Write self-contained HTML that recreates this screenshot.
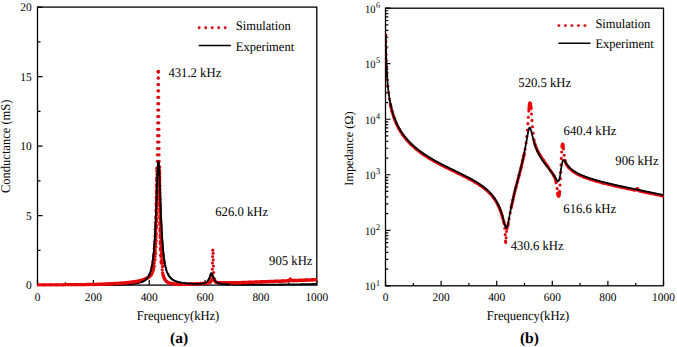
<!DOCTYPE html>
<html><head><meta charset="utf-8"><style>
html,body{margin:0;padding:0;background:#fff;}
svg{display:block;}
</style></head><body>
<svg width="677" height="347" viewBox="0 0 677 347">
<defs>
<clipPath id="ca"><rect x="37.5" y="7.100000000000023" width="279.3" height="279.5"/></clipPath>
<clipPath id="cb"><rect x="385.5" y="8.199999999999989" width="278.0" height="277.6"/></clipPath>
</defs>
<rect width="677" height="347" fill="#fff"/>
<rect x="37.5" y="7.100000000000023" width="279.3" height="278.0" fill="none" stroke="#000" stroke-width="1.3"/>
<rect x="385.5" y="8.199999999999989" width="278.0" height="277.6" fill="none" stroke="#000" stroke-width="1.3"/>
<path d="M37.5 285.10h5 M37.5 250.35h3 M37.5 215.60h5 M37.5 180.85h3 M37.5 146.10h5 M37.5 111.35h3 M37.5 76.60h5 M37.5 41.85h3 M37.5 7.10h5 M37.50 285.1v-5 M65.43 285.1v-2.8 M93.36 285.1v-5 M121.29 285.1v-2.8 M149.22 285.1v-5 M177.15 285.1v-2.8 M205.08 285.1v-5 M233.01 285.1v-2.8 M260.94 285.1v-5 M288.87 285.1v-2.8 M316.80 285.1v-5 M385.50 285.8v-5 M413.30 285.8v-2.8 M441.10 285.8v-5 M468.90 285.8v-2.8 M496.70 285.8v-5 M524.50 285.8v-2.8 M552.30 285.8v-5 M580.10 285.8v-2.8 M607.90 285.8v-5 M635.70 285.8v-2.8 M663.50 285.8v-5 M385.5 285.80h5 M385.5 269.09h2.8 M385.5 259.31h2.8 M385.5 252.37h2.8 M385.5 246.99h2.8 M385.5 242.60h2.8 M385.5 238.88h2.8 M385.5 235.66h2.8 M385.5 232.82h2.8 M385.5 230.28h5 M385.5 213.57h2.8 M385.5 203.79h2.8 M385.5 196.85h2.8 M385.5 191.47h2.8 M385.5 187.08h2.8 M385.5 183.36h2.8 M385.5 180.14h2.8 M385.5 177.30h2.8 M385.5 174.76h5 M385.5 158.05h2.8 M385.5 148.27h2.8 M385.5 141.33h2.8 M385.5 135.95h2.8 M385.5 131.56h2.8 M385.5 127.84h2.8 M385.5 124.62h2.8 M385.5 121.78h2.8 M385.5 119.24h5 M385.5 102.53h2.8 M385.5 92.75h2.8 M385.5 85.81h2.8 M385.5 80.43h2.8 M385.5 76.04h2.8 M385.5 72.32h2.8 M385.5 69.10h2.8 M385.5 66.26h2.8 M385.5 63.72h5 M385.5 47.01h2.8 M385.5 37.23h2.8 M385.5 30.29h2.8 M385.5 24.91h2.8 M385.5 20.52h2.8 M385.5 16.80h2.8 M385.5 13.58h2.8 M385.5 10.74h2.8 M385.5 8.20h5" stroke="#000" stroke-width="1.2" fill="none"/>
<polyline clip-path="url(#ca)" points="37.64,285.10 37.81,285.10 37.97,285.10 38.14,285.10 38.31,285.10 38.48,285.10 38.65,285.10 38.81,285.10 38.98,285.10 39.15,285.10 39.32,285.10 39.48,285.10 39.65,285.10 39.82,285.10 39.99,285.10 40.15,285.10 40.32,285.10 40.49,285.10 40.66,285.10 40.82,285.10 40.99,285.10 41.16,285.10 41.33,285.10 41.49,285.10 41.66,285.10 41.83,285.10 42.00,285.10 42.16,285.10 42.33,285.10 42.50,285.10 42.67,285.10 42.83,285.10 43.00,285.10 43.17,285.10 43.34,285.10 43.50,285.10 43.67,285.10 43.84,285.10 44.01,285.10 44.18,285.10 44.34,285.10 44.51,285.10 44.68,285.10 44.85,285.10 45.01,285.10 45.18,285.10 45.35,285.10 45.52,285.10 45.68,285.10 45.85,285.10 46.02,285.10 46.19,285.10 46.35,285.10 46.52,285.10 46.69,285.10 46.86,285.10 47.02,285.10 47.19,285.10 47.36,285.10 47.53,285.10 47.69,285.10 47.86,285.10 48.03,285.10 48.20,285.10 48.36,285.10 48.53,285.10 48.70,285.10 48.87,285.10 49.04,285.10 49.20,285.10 49.37,285.10 49.54,285.10 49.71,285.10 49.87,285.10 50.04,285.10 50.21,285.10 50.38,285.10 50.54,285.10 50.71,285.10 50.88,285.10 51.05,285.10 51.21,285.10 51.38,285.10 51.55,285.10 51.72,285.10 51.88,285.10 52.05,285.10 52.22,285.10 52.39,285.10 52.55,285.09 52.72,285.09 52.89,285.09 53.06,285.09 53.22,285.09 53.39,285.09 53.56,285.09 53.73,285.09 53.89,285.09 54.06,285.09 54.23,285.09 54.40,285.09 54.57,285.09 54.73,285.09 54.90,285.09 55.07,285.09 55.24,285.09 55.40,285.09 55.57,285.09 55.74,285.09 55.91,285.09 56.07,285.09 56.24,285.09 56.41,285.09 56.58,285.09 56.74,285.09 56.91,285.09 57.08,285.09 57.25,285.09 57.41,285.09 57.58,285.09 57.75,285.09 57.92,285.09 58.08,285.09 58.25,285.09 58.42,285.09 58.59,285.09 58.75,285.09 58.92,285.09 59.09,285.09 59.26,285.09 59.43,285.09 59.59,285.09 59.76,285.09 59.93,285.09 60.10,285.09 60.26,285.09 60.43,285.09 60.60,285.09 60.77,285.09 60.93,285.09 61.10,285.09 61.27,285.09 61.44,285.09 61.60,285.09 61.77,285.09 61.94,285.09 62.11,285.09 62.27,285.09 62.44,285.09 62.61,285.09 62.78,285.09 62.94,285.08 63.11,285.08 63.28,285.08 63.45,285.08 63.61,285.08 63.78,285.08 63.95,285.08 64.12,285.08 64.28,285.08 64.45,285.08 64.62,285.08 64.79,285.08 64.96,285.08 65.12,285.08 65.29,285.08 65.46,285.08 65.63,285.08 65.79,285.08 65.96,285.08 66.13,285.08 66.30,285.08 66.46,285.08 66.63,285.08 66.80,285.08 66.97,285.08 67.13,285.08 67.30,285.08 67.47,285.08 67.64,285.08 67.80,285.08 67.97,285.08 68.14,285.08 68.31,285.08 68.47,285.08 68.64,285.08 68.81,285.08 68.98,285.08 69.14,285.08 69.31,285.08 69.48,285.07 69.65,285.07 69.82,285.07 69.98,285.07 70.15,285.07 70.32,285.07 70.49,285.07 70.65,285.07 70.82,285.07 70.99,285.07 71.16,285.07 71.32,285.07 71.49,285.07 71.66,285.07 71.83,285.07 71.99,285.07 72.16,285.07 72.33,285.07 72.50,285.07 72.66,285.07 72.83,285.07 73.00,285.07 73.17,285.07 73.33,285.07 73.50,285.07 73.67,285.07 73.84,285.07 74.00,285.07 74.17,285.07 74.34,285.07 74.51,285.06 74.67,285.06 74.84,285.06 75.01,285.06 75.18,285.06 75.35,285.06 75.51,285.06 75.68,285.06 75.85,285.06 76.02,285.06 76.18,285.06 76.35,285.06 76.52,285.06 76.69,285.06 76.85,285.06 77.02,285.06 77.19,285.06 77.36,285.06 77.52,285.06 77.69,285.06 77.86,285.06 78.03,285.06 78.19,285.06 78.36,285.06 78.53,285.05 78.70,285.05 78.86,285.05 79.03,285.05 79.20,285.05 79.37,285.05 79.53,285.05 79.70,285.05 79.87,285.05 80.04,285.05 80.20,285.05 80.37,285.05 80.54,285.05 80.71,285.05 80.88,285.05 81.04,285.05 81.21,285.05 81.38,285.05 81.55,285.05 81.71,285.05 81.88,285.04 82.05,285.04 82.22,285.04 82.38,285.04 82.55,285.04 82.72,285.04 82.89,285.04 83.05,285.04 83.22,285.04 83.39,285.04 83.56,285.04 83.72,285.04 83.89,285.04 84.06,285.04 84.23,285.04 84.39,285.04 84.56,285.04 84.73,285.04 84.90,285.03 85.06,285.03 85.23,285.03 85.40,285.03 85.57,285.03 85.74,285.03 85.90,285.03 86.07,285.03 86.24,285.03 86.41,285.03 86.57,285.03 86.74,285.03 86.91,285.03 87.08,285.03 87.24,285.03 87.41,285.02 87.58,285.02 87.75,285.02 87.91,285.02 88.08,285.02 88.25,285.02 88.42,285.02 88.58,285.02 88.75,285.02 88.92,285.02 89.09,285.02 89.25,285.02 89.42,285.02 89.59,285.02 89.76,285.01 89.92,285.01 90.09,285.01 90.26,285.01 90.43,285.01 90.59,285.01 90.76,285.01 90.93,285.01 91.10,285.01 91.27,285.01 91.43,285.01 91.60,285.01 91.77,285.00 91.94,285.00 92.10,285.00 92.27,285.00 92.44,285.00 92.61,285.00 92.77,285.00 92.94,285.00 93.11,285.00 93.28,285.00 93.44,285.00 93.61,284.99 93.78,284.99 93.95,284.99 94.11,284.99 94.28,284.99 94.45,284.99 94.62,284.99 94.78,284.99 94.95,284.99 95.12,284.99 95.29,284.98 95.45,284.98 95.62,284.98 95.79,284.98 95.96,284.98 96.13,284.98 96.29,284.98 96.46,284.98 96.63,284.98 96.80,284.97 96.96,284.97 97.13,284.97 97.30,284.97 97.47,284.97 97.63,284.97 97.80,284.97 97.97,284.97 98.14,284.97 98.30,284.96 98.47,284.96 98.64,284.96 98.81,284.96 98.97,284.96 99.14,284.96 99.31,284.96 99.48,284.96 99.64,284.95 99.81,284.95 99.98,284.95 100.15,284.95 100.31,284.95 100.48,284.95 100.65,284.95 100.82,284.94 100.98,284.94 101.15,284.94 101.32,284.94 101.49,284.94 101.66,284.94 101.82,284.94 101.99,284.93 102.16,284.93 102.33,284.93 102.49,284.93 102.66,284.93 102.83,284.93 103.00,284.93 103.16,284.92 103.33,284.92 103.50,284.92 103.67,284.92 103.83,284.92 104.00,284.92 104.17,284.91 104.34,284.91 104.50,284.91 104.67,284.91 104.84,284.91 105.01,284.90 105.17,284.90 105.34,284.90 105.51,284.90 105.68,284.90 105.84,284.90 106.01,284.89 106.18,284.89 106.35,284.89 106.52,284.89 106.68,284.89 106.85,284.88 107.02,284.88 107.19,284.88 107.35,284.88 107.52,284.88 107.69,284.87 107.86,284.87 108.02,284.87 108.19,284.87 108.36,284.87 108.53,284.86 108.69,284.86 108.86,284.86 109.03,284.86 109.20,284.85 109.36,284.85 109.53,284.85 109.70,284.85 109.87,284.84 110.03,284.84 110.20,284.84 110.37,284.84 110.54,284.83 110.70,284.83 110.87,284.83 111.04,284.83 111.21,284.82 111.37,284.82 111.54,284.82 111.71,284.82 111.88,284.81 112.05,284.81 112.21,284.81 112.38,284.80 112.55,284.80 112.72,284.80 112.88,284.80 113.05,284.79 113.22,284.79 113.39,284.79 113.55,284.78 113.72,284.78 113.89,284.78 114.06,284.77 114.22,284.77 114.39,284.77 114.56,284.76 114.73,284.76 114.89,284.76 115.06,284.75 115.23,284.75 115.40,284.75 115.56,284.74 115.73,284.74 115.90,284.74 116.07,284.73 116.23,284.73 116.40,284.72 116.57,284.72 116.74,284.72 116.90,284.71 117.07,284.71 117.24,284.70 117.41,284.70 117.58,284.70 117.74,284.69 117.91,284.69 118.08,284.68 118.25,284.68 118.41,284.67 118.58,284.67 118.75,284.67 118.92,284.66 119.08,284.66 119.25,284.65 119.42,284.65 119.59,284.64 119.75,284.64 119.92,284.63 120.09,284.63 120.26,284.62 120.42,284.62 120.59,284.61 120.76,284.61 120.93,284.60 121.09,284.59 121.26,284.59 121.43,284.58 121.60,284.58 121.76,284.57 121.93,284.57 122.10,284.56 122.27,284.55 122.44,284.55 122.60,284.54 122.77,284.53 122.94,284.53 123.11,284.52 123.27,284.51 123.44,284.51 123.61,284.50 123.78,284.49 123.94,284.49 124.11,284.48 124.28,284.47 124.45,284.46 124.61,284.46 124.78,284.45 124.95,284.44 125.12,284.43 125.28,284.43 125.45,284.42 125.62,284.41 125.79,284.40 125.95,284.39 126.12,284.38 126.29,284.37 126.46,284.37 126.62,284.36 126.79,284.35 126.96,284.34 127.13,284.33 127.29,284.32 127.46,284.31 127.63,284.30 127.80,284.29 127.97,284.28 128.13,284.27 128.30,284.26 128.47,284.25 128.64,284.23 128.80,284.22 128.97,284.21 129.14,284.20 129.31,284.19 129.47,284.18 129.64,284.16 129.81,284.15 129.98,284.14 130.14,284.12 130.31,284.11 130.48,284.10 130.65,284.08 130.81,284.07 130.98,284.06 131.15,284.04 131.32,284.03 131.48,284.01 131.65,284.00 131.82,283.98 131.99,283.96 132.15,283.95 132.32,283.93 132.49,283.91 132.66,283.90 132.83,283.88 132.99,283.86 133.16,283.84 133.33,283.82 133.50,283.80 133.66,283.78 133.83,283.76 134.00,283.74 134.17,283.72 134.33,283.70 134.50,283.68 134.67,283.66 134.84,283.63 135.00,283.61 135.17,283.59 135.34,283.56 135.51,283.54 135.67,283.51 135.84,283.49 136.01,283.46 136.18,283.43 136.34,283.41 136.51,283.38 136.68,283.35 136.85,283.32 137.01,283.29 137.18,283.26 137.35,283.23 137.52,283.19 137.68,283.16 137.85,283.12 138.02,283.09 138.19,283.05 138.36,283.02 138.52,282.98 138.69,282.94 138.86,282.90 139.03,282.86 139.19,282.82 139.36,282.77 139.53,282.73 139.70,282.68 139.86,282.64 140.03,282.59 140.20,282.54 140.37,282.49 140.53,282.44 140.70,282.38 140.87,282.33 141.04,282.27 141.15,282.23 141.26,282.19 141.37,282.15 141.48,282.11 141.60,282.07 141.71,282.03 141.82,281.98 141.93,281.94 142.04,281.89 142.15,281.85 142.27,281.80 142.38,281.75 142.49,281.70 142.60,281.65 142.71,281.60 142.82,281.55 142.94,281.50 143.05,281.44 143.16,281.39 143.27,281.33 143.38,281.27 143.49,281.21 143.61,281.15 143.72,281.09 143.83,281.03 143.94,280.96 144.05,280.89 144.16,280.83 144.28,280.76 144.39,280.69 144.50,280.61 144.61,280.54 144.72,280.46 144.83,280.38 144.95,280.30 145.06,280.22 145.17,280.14 145.28,280.05 145.39,279.96 145.51,279.87 145.62,279.78 145.73,279.69 145.84,279.59 145.95,279.49 146.06,279.39 146.18,279.28 146.29,279.17 146.40,279.06 146.51,278.95 146.62,278.83 146.73,278.71 146.85,278.59 146.96,278.46 147.07,278.33 147.18,278.20 147.29,278.06 147.40,277.92 147.52,277.78 147.63,277.63 147.74,277.47 147.85,277.31 147.96,277.15 148.07,276.98 148.19,276.81 148.30,276.63 148.41,276.44 148.47,276.35 148.52,276.25 148.58,276.16 148.63,276.06 148.69,275.96 148.75,275.86 148.80,275.75 148.86,275.65 148.91,275.54 148.97,275.43 149.02,275.32 149.08,275.21 149.14,275.10 149.19,274.98 149.25,274.86 149.30,274.74 149.36,274.62 149.42,274.50 149.47,274.37 149.53,274.24 149.58,274.11 149.64,273.98 149.69,273.85 149.75,273.71 149.81,273.57 149.86,273.43 149.92,273.29 149.97,273.14 150.03,272.99 150.09,272.84 150.14,272.69 150.20,272.53 150.25,272.37 150.31,272.21 150.37,272.04 150.42,271.87 150.48,271.70 150.53,271.52 150.59,271.35 150.64,271.16 150.70,270.98 150.76,270.79 150.81,270.60 150.87,270.40 150.92,270.21 150.98,270.00 151.04,269.80 151.09,269.59 151.15,269.37 151.20,269.15 151.26,268.93 151.31,268.70 151.37,268.47 151.43,268.23 151.48,267.99 151.54,267.74 151.59,267.49 151.65,267.24 151.71,266.98 151.76,266.71 151.82,266.44 151.87,266.16 151.93,265.88 151.99,265.59 152.04,265.29 152.10,264.99 152.15,264.68 152.21,264.37 152.26,264.05 152.32,263.72 152.38,263.38 152.43,263.04 152.49,262.69 152.54,262.34 152.60,261.97 152.66,261.60 152.71,261.22 152.77,260.83 152.82,260.43 152.88,260.02 152.93,259.61 152.99,259.18 153.05,258.75 153.10,258.30 153.16,257.85 153.21,257.39 153.27,256.91 153.33,256.42 153.38,255.93 153.44,255.42 153.49,254.90 153.55,254.37 153.61,253.82 153.66,253.26 153.72,252.69 153.77,252.11 153.83,251.51 153.88,250.90 153.94,250.27 154.00,249.63 154.05,248.98 154.11,248.31 154.16,247.62 154.22,246.92 154.28,246.20 154.33,245.46 154.39,244.71 154.44,243.94 154.50,243.15 154.55,242.34 154.61,241.51 154.67,240.66 154.72,239.80 154.78,238.91 154.83,238.00 154.89,237.07 154.95,236.13 155.00,235.15 155.06,234.16 155.11,233.15 155.17,232.11 155.22,231.05 155.28,229.96 155.34,228.86 155.39,227.73 155.45,226.57 155.50,225.39 155.56,224.19 155.62,222.97 155.67,221.72 155.73,220.44 155.78,219.14 155.84,217.82 155.90,216.48 155.95,215.11 156.01,213.72 156.06,212.31 156.12,210.88 156.17,209.42 156.23,207.95 156.29,206.46 156.34,204.95 156.40,203.43 156.45,201.89 156.51,200.34 156.57,198.78 156.62,197.21 156.68,195.63 156.73,194.05 156.79,192.46 156.84,190.88 156.90,189.30 156.96,187.73 157.01,186.16 157.07,184.61 157.12,183.08 157.18,181.56 157.24,180.07 157.29,178.61 157.35,177.18 157.40,175.79 157.46,174.44 157.52,173.13 157.57,171.87 157.63,170.67 157.68,169.52 157.74,168.44 157.79,167.42 157.85,166.47 157.91,165.59 157.96,164.80 158.02,164.08 158.07,163.44 158.13,162.89 158.19,162.43 158.24,162.06 158.30,161.78 158.35,161.59 158.46,161.50 158.58,161.78 158.63,162.06 158.69,162.43 158.74,162.88 158.80,163.43 158.86,164.06 158.91,164.77 158.97,165.56 159.02,166.42 159.08,167.36 159.14,168.36 159.19,169.43 159.25,170.55 159.30,171.73 159.36,172.97 159.41,174.25 159.47,175.57 159.53,176.93 159.58,178.33 159.64,179.76 159.69,181.21 159.75,182.69 159.81,184.18 159.86,185.69 159.92,187.22 159.97,188.75 160.03,190.29 160.08,191.83 160.14,193.37 160.20,194.91 160.25,196.44 160.31,197.97 160.36,199.49 160.42,201.00 160.48,202.49 160.53,203.98 160.59,205.44 160.64,206.89 160.70,208.32 160.76,209.74 160.81,211.13 160.87,212.51 160.92,213.86 160.98,215.19 161.03,216.50 161.09,217.79 161.15,219.05 161.20,220.30 161.26,221.52 161.31,222.71 161.37,223.89 161.43,225.04 161.48,226.17 161.54,227.27 161.59,228.36 161.65,229.42 161.70,230.46 161.76,231.47 161.82,232.47 161.87,233.44 161.93,234.40 161.98,235.33 162.04,236.24 162.10,237.13 162.15,238.01 162.21,238.86 162.26,239.70 162.32,240.51 162.38,241.31 162.43,242.09 162.49,242.85 162.54,243.60 162.60,244.33 162.65,245.04 162.71,245.74 162.77,246.42 162.82,247.08 162.88,247.73 162.93,248.37 162.99,248.99 163.05,249.60 163.10,250.20 163.16,250.78 163.21,251.35 163.27,251.90 163.32,252.45 163.38,252.98 163.44,253.50 163.49,254.01 163.55,254.50 163.60,254.99 163.66,255.47 163.72,255.93 163.77,256.39 163.83,256.84 163.88,257.27 163.94,257.70 163.99,258.12 164.05,258.53 164.11,258.93 164.16,259.32 164.22,259.71 164.27,260.08 164.33,260.45 164.39,260.81 164.44,261.17 164.50,261.51 164.55,261.85 164.61,262.18 164.67,262.51 164.72,262.83 164.78,263.14 164.83,263.45 164.89,263.75 164.94,264.04 165.00,264.33 165.06,264.61 165.11,264.89 165.17,265.16 165.22,265.43 165.28,265.69 165.34,265.95 165.39,266.20 165.45,266.45 165.50,266.69 165.56,266.93 165.61,267.16 165.67,267.39 165.73,267.62 165.78,267.84 165.84,268.05 165.89,268.27 165.95,268.47 166.01,268.68 166.06,268.88 166.12,269.08 166.17,269.27 166.23,269.46 166.29,269.65 166.34,269.84 166.40,270.02 166.45,270.19 166.51,270.37 166.56,270.54 166.62,270.71 166.68,270.88 166.73,271.04 166.79,271.20 166.84,271.36 166.90,271.51 166.96,271.66 167.01,271.81 167.07,271.96 167.12,272.11 167.18,272.25 167.23,272.39 167.29,272.53 167.35,272.66 167.40,272.80 167.46,272.93 167.51,273.06 167.57,273.19 167.63,273.31 167.68,273.43 167.74,273.56 167.79,273.68 167.85,273.79 167.91,273.91 167.96,274.02 168.02,274.14 168.07,274.25 168.13,274.36 168.18,274.46 168.24,274.57 168.30,274.67 168.35,274.78 168.41,274.88 168.46,274.98 168.52,275.07 168.58,275.17 168.63,275.27 168.74,275.45 168.85,275.63 168.97,275.81 169.08,275.98 169.19,276.15 169.30,276.31 169.41,276.47 169.53,276.62 169.64,276.77 169.75,276.92 169.86,277.06 169.97,277.19 170.08,277.33 170.20,277.46 170.31,277.59 170.42,277.71 170.53,277.83 170.64,277.95 170.75,278.06 170.87,278.18 170.98,278.28 171.09,278.39 171.20,278.50 171.31,278.60 171.42,278.70 171.54,278.79 171.65,278.89 171.76,278.98 171.87,279.07 171.98,279.16 172.09,279.25 172.21,279.33 172.32,279.41 172.43,279.49 172.54,279.57 172.65,279.65 172.76,279.72 172.88,279.80 172.99,279.87 173.10,279.94 173.21,280.01 173.32,280.08 173.44,280.14 173.55,280.21 173.66,280.27 173.77,280.33 173.88,280.40 173.99,280.46 174.11,280.51 174.22,280.57 174.33,280.63 174.44,280.68 174.55,280.74 174.66,280.79 174.78,280.84 174.89,280.89 175.00,280.94 175.11,280.99 175.22,281.04 175.33,281.09 175.45,281.13 175.56,281.18 175.67,281.22 175.78,281.27 175.89,281.31 176.00,281.35 176.12,281.39 176.23,281.44 176.34,281.48 176.45,281.51 176.56,281.55 176.73,281.61 176.90,281.67 177.07,281.72 177.23,281.77 177.40,281.82 177.57,281.87 177.74,281.92 177.90,281.97 178.07,282.01 178.24,282.06 178.41,282.10 178.57,282.15 178.74,282.19 178.91,282.23 179.08,282.27 179.24,282.31 179.41,282.35 179.58,282.38 179.75,282.42 179.92,282.45 180.08,282.49 180.25,282.52 180.42,282.56 180.59,282.59 180.75,282.62 180.92,282.65 181.09,282.68 181.26,282.71 181.42,282.74 181.59,282.77 181.76,282.80 181.93,282.82 182.09,282.85 182.26,282.88 182.43,282.90 182.60,282.93 182.76,282.95 182.93,282.97 183.10,283.00 183.27,283.02 183.43,283.04 183.60,283.06 183.77,283.09 183.94,283.11 184.10,283.13 184.27,283.15 184.44,283.17 184.61,283.19 184.77,283.21 184.94,283.22 185.11,283.24 185.28,283.26 185.45,283.28 185.61,283.29 185.78,283.31 185.95,283.33 186.12,283.34 186.28,283.36 186.45,283.37 186.62,283.39 186.79,283.40 186.95,283.42 187.12,283.43 187.29,283.45 187.46,283.46 187.62,283.47 187.79,283.49 187.96,283.50 188.13,283.51 188.29,283.52 188.46,283.54 188.63,283.55 188.80,283.56 188.96,283.57 189.13,283.58 189.30,283.59 189.47,283.60 189.63,283.61 189.80,283.62 189.97,283.63 190.14,283.64 190.31,283.65 190.47,283.66 190.64,283.67 190.81,283.68 190.98,283.69 191.14,283.69 191.31,283.70 191.48,283.71 191.65,283.72 191.81,283.72 191.98,283.73 192.15,283.74 192.32,283.74 192.48,283.75 192.65,283.76 192.82,283.76 192.99,283.77 193.15,283.77 193.32,283.78 193.49,283.78 193.66,283.79 193.82,283.79 193.99,283.80 194.16,283.80 194.33,283.81 194.49,283.81 194.66,283.81 194.83,283.82 195.00,283.82 195.16,283.82 195.33,283.82 195.50,283.83 195.67,283.83 195.84,283.83 196.00,283.83 196.17,283.83 196.34,283.83 196.51,283.83 196.67,283.83 196.84,283.83 197.01,283.83 197.18,283.83 197.34,283.83 197.51,283.83 197.68,283.83 197.85,283.82 198.01,283.82 198.18,283.82 198.35,283.81 198.52,283.81 198.68,283.81 198.85,283.80 199.02,283.80 199.19,283.79 199.35,283.78 199.52,283.78 199.69,283.77 199.86,283.76 200.02,283.75 200.19,283.74 200.36,283.73 200.53,283.72 200.69,283.71 200.86,283.70 201.03,283.69 201.20,283.67 201.37,283.66 201.53,283.64 201.70,283.63 201.87,283.61 202.04,283.59 202.20,283.57 202.37,283.55 202.54,283.52 202.71,283.50 202.87,283.47 203.04,283.45 203.21,283.42 203.38,283.38 203.54,283.35 203.71,283.31 203.88,283.28 204.05,283.23 204.21,283.19 204.38,283.14 204.55,283.09 204.72,283.04 204.88,282.98 205.00,282.94 205.11,282.90 205.22,282.86 205.33,282.81 205.44,282.76 205.55,282.71 205.67,282.66 205.78,282.60 205.89,282.54 206.00,282.48 206.11,282.42 206.23,282.35 206.34,282.28 206.45,282.20 206.56,282.12 206.67,282.04 206.78,281.95 206.90,281.86 207.01,281.76 207.12,281.66 207.23,281.55 207.34,281.44 207.45,281.32 207.57,281.19 207.68,281.06 207.79,280.92 207.90,280.77 208.01,280.62 208.12,280.45 208.24,280.28 208.35,280.09 208.40,280.00 208.46,279.90 208.52,279.80 208.57,279.70 208.63,279.59 208.68,279.48 208.74,279.37 208.79,279.26 208.85,279.14 208.91,279.02 208.96,278.90 209.02,278.78 209.07,278.65 209.13,278.52 209.19,278.39 209.24,278.25 209.30,278.11 209.35,277.97 209.41,277.83 209.47,277.68 209.52,277.54 209.58,277.39 209.63,277.23 209.69,277.08 209.74,276.92 209.80,276.77 209.86,276.61 209.91,276.45 209.97,276.29 210.02,276.13 210.08,275.96 210.14,275.80 210.19,275.64 210.25,275.49 210.30,275.33 210.36,275.17 210.41,275.02 210.47,274.87 210.53,274.72 210.58,274.58 210.64,274.44 210.69,274.31 210.75,274.18 210.81,274.06 210.86,273.95 210.92,273.84 210.97,273.74 211.08,273.57 211.20,273.44 211.31,273.34 211.42,273.29 211.59,273.29 211.70,273.35 211.81,273.44 211.92,273.58 212.03,273.75 212.09,273.85 212.15,273.96 212.20,274.08 212.26,274.20 212.31,274.32 212.37,274.46 212.43,274.59 212.48,274.74 212.54,274.88 212.59,275.03 212.65,275.18 212.70,275.34 212.76,275.50 212.82,275.65 212.87,275.81 212.93,275.97 212.98,276.13 213.04,276.29 213.10,276.45 213.15,276.61 213.21,276.77 213.26,276.92 213.32,277.08 213.38,277.23 213.43,277.38 213.49,277.53 213.54,277.68 213.60,277.82 213.65,277.97 213.71,278.11 213.77,278.24 213.82,278.38 213.88,278.51 213.93,278.64 213.99,278.77 214.05,278.89 214.10,279.01 214.16,279.13 214.21,279.25 214.27,279.36 214.32,279.47 214.38,279.58 214.44,279.69 214.49,279.79 214.55,279.89 214.60,279.99 214.66,280.09 214.77,280.27 214.88,280.45 215.00,280.61 215.11,280.77 215.22,280.92 215.33,281.07 215.44,281.20 215.55,281.33 215.67,281.46 215.78,281.57 215.89,281.68 216.00,281.79 216.11,281.89 216.22,281.99 216.34,282.08 216.45,282.16 216.56,282.25 216.67,282.33 216.78,282.40 216.89,282.47 217.01,282.54 217.12,282.61 217.23,282.67 217.34,282.73 217.45,282.79 217.56,282.84 217.68,282.90 217.79,282.95 217.90,282.99 218.01,283.04 218.12,283.09 218.24,283.13 218.35,283.17 218.46,283.21 218.63,283.26 218.79,283.32 218.96,283.37 219.13,283.42 219.30,283.46 219.46,283.50 219.63,283.54 219.80,283.58 219.97,283.62 220.13,283.65 220.30,283.69 220.47,283.72 220.64,283.75 220.80,283.78 220.97,283.80 221.14,283.83 221.31,283.85 221.47,283.88 221.64,283.90 221.81,283.92 221.98,283.94 222.15,283.96 222.31,283.98 222.48,284.00 222.65,284.02 222.82,284.03 222.98,284.05 223.15,284.07 223.32,284.08 223.49,284.10 223.65,284.11 223.82,284.12 223.99,284.14 224.16,284.15 224.32,284.16 224.49,284.17 224.66,284.19 224.83,284.20 224.99,284.21 225.16,284.22 225.33,284.23 225.50,284.24 225.66,284.25 225.83,284.26 226.00,284.26 226.17,284.27 226.33,284.28 226.50,284.29 226.67,284.30 226.84,284.30 227.01,284.31 227.17,284.32 227.34,284.33 227.51,284.33 227.68,284.34 227.84,284.35 228.01,284.35 228.18,284.36 228.35,284.36 228.51,284.37 228.68,284.38 228.85,284.38 229.02,284.39 229.18,284.39 229.35,284.40 229.52,284.40 229.69,284.41 229.85,284.41 230.02,284.42 230.19,284.42 230.36,284.42 230.52,284.43 230.69,284.43 230.86,284.44 231.03,284.44 231.19,284.44 231.36,284.45 231.53,284.45 231.70,284.46 231.86,284.46 232.03,284.46 232.20,284.47 232.37,284.47 232.54,284.47 232.70,284.48 232.87,284.48 233.04,284.48 233.21,284.49 233.37,284.49 233.54,284.49 233.71,284.49 233.88,284.50 234.04,284.50 234.21,284.50 234.38,284.50 234.55,284.51 234.71,284.51 234.88,284.51 235.05,284.51 235.22,284.52 235.38,284.52 235.55,284.52 235.72,284.52 235.89,284.53 236.05,284.53 236.22,284.53 236.39,284.53 236.56,284.53 236.72,284.54 236.89,284.54 237.06,284.54 237.23,284.54 237.40,284.54 237.56,284.54 237.73,284.55 237.90,284.55 238.07,284.55 238.23,284.55 238.40,284.55 238.57,284.55 238.74,284.56 238.90,284.56 239.07,284.56 239.24,284.56 239.41,284.56 239.57,284.56 239.74,284.56 239.91,284.57 240.08,284.57 240.24,284.57 240.41,284.57 240.58,284.57 240.75,284.57 240.91,284.57 241.08,284.57 241.25,284.58 241.42,284.58 241.58,284.58 241.75,284.58 241.92,284.58 242.09,284.58 242.25,284.58 242.42,284.58 242.59,284.58 242.76,284.59 242.93,284.59 243.09,284.59 243.26,284.59 243.43,284.59 243.60,284.59 243.76,284.59 243.93,284.59 244.10,284.59 244.27,284.59 244.43,284.59 244.60,284.59 244.77,284.60 244.94,284.60 245.10,284.60 245.27,284.60 245.44,284.60 245.61,284.60 245.77,284.60 245.94,284.60 246.11,284.60 246.28,284.60 246.44,284.60 246.61,284.60 246.78,284.60 246.95,284.60 247.11,284.60 247.28,284.60 247.45,284.60 247.62,284.61 247.78,284.61 247.95,284.61 248.12,284.61 248.29,284.61 248.46,284.61 248.62,284.61 248.79,284.61 248.96,284.61 249.13,284.61 249.29,284.61 249.46,284.61 249.63,284.61 249.80,284.61 249.96,284.61 250.13,284.61 250.30,284.61 250.47,284.61 250.63,284.61 250.80,284.61 250.97,284.61 251.14,284.61 251.30,284.61 251.47,284.61 251.64,284.61 251.81,284.61 251.97,284.61 252.14,284.61 252.31,284.61 252.48,284.61 252.64,284.61 252.81,284.61 252.98,284.61 253.15,284.61 253.32,284.61 253.48,284.61 253.65,284.61 253.82,284.61 253.99,284.61 254.15,284.61 254.32,284.61 254.49,284.61 254.66,284.61 254.82,284.61 254.99,284.61 255.16,284.61 255.33,284.61 255.49,284.61 255.66,284.61 255.83,284.61 256.00,284.61 256.16,284.61 256.33,284.61 256.50,284.61 256.67,284.61 256.83,284.61 257.00,284.61 257.17,284.61 257.34,284.61 257.50,284.61 257.67,284.61 257.84,284.61 258.01,284.61 258.17,284.61 258.34,284.61 258.51,284.61 258.68,284.61 258.85,284.61 259.01,284.61 259.18,284.61 259.35,284.61 259.52,284.61 259.68,284.61 259.85,284.61 260.02,284.61 260.19,284.61 260.35,284.61 260.52,284.61 260.69,284.61 260.86,284.61 261.02,284.61 261.19,284.61 261.36,284.61 261.53,284.61 261.69,284.61 261.86,284.61 262.03,284.61 262.20,284.60 262.36,284.60 262.53,284.60 262.70,284.60 262.87,284.60 263.03,284.60 263.20,284.60 263.37,284.60 263.54,284.60 263.71,284.60 263.87,284.60 264.04,284.60 264.21,284.60 264.38,284.60 264.54,284.60 264.71,284.60 264.88,284.60 265.05,284.60 265.21,284.60 265.38,284.60 265.55,284.60 265.72,284.59 265.88,284.59 266.05,284.59 266.22,284.59 266.39,284.59 266.55,284.59 266.72,284.59 266.89,284.59 267.06,284.59 267.22,284.59 267.39,284.59 267.56,284.59 267.73,284.59 267.89,284.59 268.06,284.59 268.23,284.59 268.40,284.58 268.56,284.58 268.73,284.58 268.90,284.58 269.07,284.58 269.24,284.58 269.40,284.58 269.57,284.58 269.74,284.58 269.91,284.58 270.07,284.58 270.24,284.58 270.41,284.58 270.58,284.57 270.74,284.57 270.91,284.57 271.08,284.57 271.25,284.57 271.41,284.57 271.58,284.57 271.75,284.57 271.92,284.57 272.08,284.57 272.25,284.57 272.42,284.57 272.59,284.56 272.75,284.56 272.92,284.56 273.09,284.56 273.26,284.56 273.42,284.56 273.59,284.56 273.76,284.56 273.93,284.56 274.10,284.56 274.26,284.56 274.43,284.55 274.60,284.55 274.77,284.55 274.93,284.55 275.10,284.55 275.27,284.55 275.44,284.55 275.60,284.55 275.77,284.55 275.94,284.54 276.11,284.54 276.27,284.54 276.44,284.54 276.61,284.54 276.78,284.54 276.94,284.54 277.11,284.54 277.28,284.54 277.45,284.53 277.61,284.53 277.78,284.53 277.95,284.53 278.12,284.53 278.28,284.53 278.45,284.53 278.62,284.53 278.79,284.53 278.95,284.52 279.12,284.52 279.29,284.52 279.46,284.52 279.63,284.52 279.79,284.52 279.96,284.52 280.13,284.52 280.30,284.51 280.46,284.51 280.63,284.51 280.80,284.51 280.97,284.51 281.13,284.51 281.30,284.51 281.47,284.50 281.64,284.50 281.80,284.50 281.97,284.50 282.14,284.50 282.31,284.50 282.47,284.50 282.64,284.49 282.81,284.49 282.98,284.49 283.14,284.49 283.31,284.49 283.48,284.49 283.65,284.49 283.81,284.48 283.98,284.48 284.15,284.48 284.32,284.48 284.48,284.48 284.65,284.48 284.82,284.47 284.99,284.47 285.16,284.47 285.32,284.47 285.49,284.47 285.66,284.47 285.83,284.46 285.99,284.46 286.16,284.46 286.33,284.46 286.50,284.46 286.66,284.46 286.83,284.45 287.00,284.45 287.17,284.45 287.33,284.45 287.50,284.45 287.67,284.45 287.84,284.44 288.00,284.44 288.17,284.44 288.34,284.44 288.51,284.44 288.67,284.44 288.84,284.43 289.01,284.43 289.18,284.43 289.34,284.43 289.51,284.43 289.68,284.42 289.85,284.42 290.02,284.42 290.18,284.42 290.35,284.42 290.52,284.41 290.69,284.41 290.85,284.41 291.02,284.41 291.19,284.41 291.36,284.40 291.52,284.40 291.69,284.40 291.86,284.40 292.03,284.40 292.19,284.39 292.36,284.39 292.53,284.39 292.70,284.39 292.86,284.38 293.03,284.38 293.20,284.38 293.37,284.38 293.53,284.38 293.70,284.37 293.87,284.37 294.04,284.37 294.20,284.37 294.37,284.36 294.54,284.36 294.71,284.36 294.87,284.36 295.04,284.36 295.21,284.35 295.38,284.35 295.55,284.35 295.71,284.35 295.88,284.34 296.05,284.34 296.22,284.34 296.38,284.34 296.55,284.33 296.72,284.33 296.89,284.33 297.05,284.33 297.22,284.32 297.39,284.32 297.56,284.32 297.72,284.32 297.89,284.31 298.06,284.31 298.23,284.31 298.39,284.30 298.56,284.30 298.73,284.30 298.90,284.30 299.06,284.29 299.23,284.29 299.40,284.29 299.57,284.29 299.73,284.28 299.90,284.28 300.07,284.28 300.24,284.27 300.41,284.27 300.57,284.27 300.74,284.27 300.91,284.26 301.08,284.26 301.24,284.26 301.41,284.25 301.58,284.25 301.75,284.25 301.91,284.24 302.08,284.24 302.25,284.24 302.42,284.23 302.58,284.23 302.75,284.23 302.92,284.23 303.09,284.22 303.25,284.22 303.42,284.22 303.59,284.21 303.76,284.21 303.92,284.21 304.09,284.20 304.26,284.20 304.43,284.20 304.59,284.19 304.76,284.19 304.93,284.19 305.10,284.18 305.26,284.18 305.43,284.17 305.60,284.17 305.77,284.17 305.94,284.16 306.10,284.16 306.27,284.16 306.44,284.15 306.61,284.15 306.77,284.15 306.94,284.14 307.11,284.14 307.28,284.13 307.44,284.13 307.61,284.13 307.78,284.12 307.95,284.12 308.11,284.12 308.28,284.11 308.45,284.11 308.62,284.10 308.78,284.10 308.95,284.10 309.12,284.09 309.29,284.09 309.45,284.08 309.62,284.08 309.79,284.07 309.96,284.07 310.12,284.07 310.29,284.06 310.46,284.06 310.63,284.05 310.80,284.05 310.96,284.04 311.13,284.04 311.30,284.04 311.47,284.03 311.63,284.03 311.80,284.02 311.97,284.02 312.14,284.01 312.30,284.01 312.47,284.00 312.64,284.00 312.81,283.99 312.97,283.99 313.14,283.99 313.31,283.98 313.48,283.98 313.64,283.97 313.81,283.97 313.98,283.96 314.15,283.96 314.31,283.95 314.48,283.95 314.65,283.94 314.82,283.94 314.98,283.93 315.15,283.93 315.32,283.92 315.49,283.91 315.65,283.91 315.82,283.90 315.99,283.90 316.16,283.89 316.33,283.89 316.49,283.88 316.66,283.88 316.77,283.87" fill="none" stroke="#000" stroke-width="1.8" stroke-linejoin="round"/>
<g fill="#ec0808" clip-path="url(#ca)"><circle cx="151.67" cy="267.41" r="1.55"/><circle cx="152.96" cy="261.15" r="1.55"/><circle cx="153.72" cy="254.79" r="1.55"/><circle cx="154.24" cy="248.41" r="1.55"/><circle cx="154.66" cy="242.03" r="1.55"/><circle cx="155.01" cy="235.64" r="1.55"/><circle cx="155.29" cy="229.24" r="1.55"/><circle cx="155.52" cy="222.85" r="1.55"/><circle cx="155.73" cy="216.45" r="1.55"/><circle cx="155.90" cy="210.05" r="1.55"/><circle cx="156.06" cy="203.65" r="1.55"/><circle cx="156.20" cy="197.26" r="1.55"/><circle cx="156.33" cy="190.86" r="1.55"/><circle cx="156.45" cy="184.46" r="1.55"/><circle cx="156.56" cy="178.06" r="1.55"/><circle cx="156.71" cy="168.35" r="1.55"/><circle cx="159.72" cy="166.74" r="1.55"/><circle cx="159.81" cy="173.14" r="1.55"/><circle cx="159.91" cy="179.54" r="1.55"/><circle cx="160.01" cy="185.94" r="1.55"/><circle cx="160.12" cy="192.34" r="1.55"/><circle cx="160.24" cy="198.74" r="1.55"/><circle cx="160.37" cy="205.14" r="1.55"/><circle cx="160.51" cy="211.54" r="1.55"/><circle cx="160.67" cy="217.93" r="1.55"/><circle cx="160.85" cy="224.33" r="1.55"/><circle cx="161.06" cy="230.73" r="1.55"/><circle cx="161.30" cy="237.12" r="1.55"/><circle cx="161.59" cy="243.52" r="1.55"/><circle cx="161.95" cy="249.91" r="1.55"/><circle cx="162.41" cy="256.29" r="1.55"/><circle cx="163.06" cy="262.66" r="1.55"/><circle cx="153.39" cy="262.89" r="1.55"/><circle cx="154.11" cy="256.53" r="1.55"/><circle cx="154.64" cy="250.15" r="1.55"/><circle cx="155.06" cy="243.77" r="1.55"/><circle cx="155.38" cy="237.37" r="1.55"/><circle cx="155.63" cy="230.98" r="1.55"/><circle cx="155.85" cy="224.58" r="1.55"/><circle cx="156.03" cy="218.19" r="1.55"/><circle cx="156.19" cy="211.79" r="1.55"/><circle cx="156.33" cy="205.39" r="1.55"/><circle cx="156.46" cy="198.99" r="1.55"/><circle cx="156.57" cy="192.59" r="1.55"/><circle cx="156.67" cy="186.19" r="1.55"/><circle cx="156.77" cy="179.79" r="1.55"/><circle cx="156.88" cy="171.57" r="1.55"/><circle cx="159.56" cy="169.97" r="1.55"/><circle cx="159.64" cy="176.37" r="1.55"/><circle cx="159.73" cy="182.77" r="1.55"/><circle cx="159.82" cy="189.17" r="1.55"/><circle cx="159.92" cy="195.56" r="1.55"/><circle cx="160.02" cy="201.96" r="1.55"/><circle cx="160.14" cy="208.36" r="1.55"/><circle cx="160.27" cy="214.76" r="1.55"/><circle cx="160.41" cy="221.16" r="1.55"/><circle cx="160.58" cy="227.56" r="1.55"/><circle cx="160.77" cy="233.95" r="1.55"/><circle cx="161.00" cy="240.35" r="1.55"/><circle cx="161.27" cy="246.74" r="1.55"/><circle cx="161.62" cy="253.14" r="1.55"/><circle cx="162.09" cy="259.52" r="1.55"/><circle cx="162.76" cy="265.88" r="1.55"/><circle cx="153.71" cy="264.11" r="1.55"/><circle cx="154.43" cy="257.75" r="1.55"/><circle cx="154.98" cy="251.37" r="1.55"/><circle cx="155.38" cy="244.99" r="1.55"/><circle cx="155.67" cy="238.59" r="1.55"/><circle cx="155.91" cy="232.20" r="1.55"/><circle cx="156.11" cy="225.80" r="1.55"/><circle cx="156.27" cy="219.40" r="1.55"/><circle cx="156.42" cy="213.00" r="1.55"/><circle cx="156.54" cy="206.61" r="1.55"/><circle cx="156.66" cy="200.21" r="1.55"/><circle cx="156.76" cy="193.81" r="1.55"/><circle cx="156.85" cy="187.41" r="1.55"/><circle cx="156.94" cy="181.01" r="1.55"/><circle cx="157.02" cy="174.61" r="1.55"/><circle cx="157.06" cy="170.80" r="1.55"/><circle cx="159.41" cy="170.79" r="1.55"/><circle cx="159.49" cy="177.19" r="1.55"/><circle cx="159.56" cy="183.59" r="1.55"/><circle cx="159.64" cy="189.99" r="1.55"/><circle cx="159.73" cy="196.39" r="1.55"/><circle cx="159.83" cy="202.79" r="1.55"/><circle cx="159.93" cy="209.19" r="1.55"/><circle cx="160.04" cy="215.59" r="1.55"/><circle cx="160.17" cy="221.99" r="1.55"/><circle cx="160.32" cy="228.39" r="1.55"/><circle cx="160.49" cy="234.78" r="1.55"/><circle cx="160.70" cy="241.18" r="1.55"/><circle cx="160.94" cy="247.58" r="1.55"/><circle cx="161.26" cy="253.97" r="1.55"/><circle cx="161.68" cy="260.35" r="1.55"/><circle cx="162.30" cy="266.72" r="1.55"/><circle cx="154.36" cy="266.18" r="1.55"/><circle cx="155.19" cy="259.84" r="1.55"/><circle cx="155.69" cy="253.46" r="1.55"/><circle cx="156.02" cy="247.06" r="1.55"/><circle cx="156.27" cy="240.67" r="1.55"/><circle cx="156.46" cy="234.27" r="1.55"/><circle cx="156.62" cy="227.87" r="1.55"/><circle cx="156.75" cy="221.48" r="1.55"/><circle cx="156.86" cy="215.08" r="1.55"/><circle cx="156.96" cy="208.68" r="1.55"/><circle cx="157.05" cy="202.28" r="1.55"/><circle cx="157.13" cy="195.88" r="1.55"/><circle cx="157.20" cy="189.48" r="1.55"/><circle cx="157.26" cy="183.08" r="1.55"/><circle cx="157.33" cy="176.68" r="1.55"/><circle cx="157.39" cy="169.69" r="1.55"/><circle cx="159.13" cy="172.08" r="1.55"/><circle cx="159.19" cy="178.48" r="1.55"/><circle cx="159.25" cy="184.88" r="1.55"/><circle cx="159.31" cy="191.28" r="1.55"/><circle cx="159.37" cy="197.68" r="1.55"/><circle cx="159.45" cy="204.08" r="1.55"/><circle cx="159.53" cy="210.48" r="1.55"/><circle cx="159.61" cy="216.88" r="1.55"/><circle cx="159.71" cy="223.28" r="1.55"/><circle cx="159.83" cy="229.68" r="1.55"/><circle cx="159.96" cy="236.08" r="1.55"/><circle cx="160.12" cy="242.48" r="1.55"/><circle cx="160.31" cy="248.87" r="1.55"/><circle cx="160.56" cy="255.27" r="1.55"/><circle cx="160.89" cy="261.66" r="1.55"/></g>
<polyline clip-path="url(#ca)" points="37.64,285.10 37.81,285.10 37.97,285.10 38.14,285.10 38.31,285.10 38.48,285.10 38.65,285.10 38.81,285.10 38.98,285.10 39.15,285.10 39.32,285.10 39.48,285.10 39.65,285.10 39.82,285.10 39.99,285.10 40.15,285.10 40.32,285.10 40.49,285.10 40.66,285.10 40.82,285.10 40.99,285.09 41.16,285.09 41.33,285.09 41.49,285.09 41.66,285.09 41.83,285.09 42.00,285.09 42.16,285.09 42.33,285.09 42.50,285.09 42.67,285.09 42.83,285.09 43.00,285.09 43.17,285.09 43.34,285.08 43.50,285.08 43.67,285.08 43.84,285.08 44.01,285.08 44.18,285.08 44.34,285.08 44.51,285.08 44.68,285.08 44.85,285.08 45.01,285.07 45.18,285.07 45.35,285.07 45.52,285.07 45.68,285.07 45.85,285.07 46.02,285.07 46.19,285.07 46.35,285.06 46.52,285.06 46.69,285.06 46.86,285.06 47.02,285.06 47.19,285.06 47.36,285.06 47.53,285.05 47.69,285.05 47.86,285.05 48.03,285.05 48.20,285.05 48.36,285.05 48.53,285.04 48.70,285.04 48.87,285.04 49.04,285.04 49.20,285.04 49.37,285.03 49.54,285.03 49.71,285.03 49.87,285.03 50.04,285.03 50.21,285.02 50.38,285.02 50.54,285.02 50.71,285.02 50.88,285.02 51.05,285.01 51.21,285.01 51.38,285.01 51.55,285.01 51.72,285.00 51.88,285.00 52.05,285.00 52.22,285.00 52.39,285.00 52.55,284.99 52.72,284.99 52.89,284.99 53.06,284.99 53.22,284.98 53.39,284.98 53.56,284.98 53.73,284.97 53.89,284.97 54.06,284.97 54.23,284.97 54.40,284.96 54.57,284.96 54.73,284.96 54.90,284.96 55.07,284.96 55.24,284.96 55.40,284.96 55.57,284.95 55.74,284.95 55.91,284.95 56.07,284.95 56.24,284.95 56.41,284.95 56.58,284.95 56.74,284.94 56.91,284.94 57.08,284.94 57.25,284.94 57.41,284.94 57.58,284.94 57.75,284.93 57.92,284.93 58.08,284.93 58.25,284.93 58.42,284.93 58.59,284.93 58.75,284.93 58.92,284.92 59.09,284.92 59.26,284.92 59.43,284.92 59.59,284.92 59.76,284.92 59.93,284.91 60.10,284.91 60.26,284.91 60.43,284.91 60.60,284.91 60.77,284.91 60.93,284.91 61.10,284.90 61.27,284.90 61.44,284.90 61.60,284.90 61.77,284.90 61.94,284.90 62.11,284.89 62.27,284.89 62.44,284.89 62.61,284.89 62.78,284.89 62.94,284.89 63.11,284.88 63.28,284.88 63.45,284.88 63.61,284.88 63.78,284.88 63.95,284.88 64.12,284.87 64.28,284.87 64.45,284.87 64.62,284.87 64.79,284.87 64.96,284.87 65.12,284.86 65.29,284.86 65.46,284.86 65.63,284.86 65.79,284.86 65.96,284.86 66.13,284.85 66.30,284.85 66.46,284.85 66.63,284.85 66.80,284.85 66.97,284.85 67.13,284.84 67.30,284.84 67.47,284.84 67.64,284.84 67.80,284.84 67.97,284.84 68.14,284.83 68.31,284.83 68.47,284.83 68.64,284.83 68.81,284.83 68.98,284.83 69.14,284.82 69.31,284.82 69.48,284.82 69.65,284.82 69.82,284.82 69.98,284.82 70.15,284.81 70.32,284.81 70.49,284.81 70.65,284.81 70.82,284.81 70.99,284.80 71.16,284.80 71.32,284.80 71.49,284.80 71.66,284.80 71.83,284.80 71.99,284.79 72.16,284.79 72.33,284.79 72.50,284.79 72.66,284.79 72.83,284.78 73.00,284.78 73.17,284.78 73.33,284.78 73.50,284.78 73.67,284.78 73.84,284.77 74.00,284.77 74.17,284.77 74.34,284.77 74.51,284.77 74.67,284.76 74.84,284.76 75.01,284.76 75.18,284.76 75.35,284.76 75.51,284.75 75.68,284.75 75.85,284.75 76.02,284.75 76.18,284.75 76.35,284.75 76.52,284.74 76.69,284.74 76.85,284.74 77.02,284.74 77.19,284.74 77.36,284.73 77.52,284.73 77.69,284.73 77.86,284.73 78.03,284.73 78.19,284.72 78.36,284.72 78.53,284.72 78.70,284.72 78.86,284.72 79.03,284.71 79.20,284.71 79.37,284.71 79.53,284.71 79.70,284.71 79.87,284.70 80.04,284.70 80.20,284.70 80.37,284.70 80.54,284.70 80.71,284.69 80.88,284.69 81.04,284.69 81.21,284.69 81.38,284.69 81.55,284.68 81.71,284.68 81.88,284.68 82.05,284.68 82.22,284.67 82.38,284.67 82.55,284.67 82.72,284.67 82.89,284.67 83.05,284.66 83.22,284.66 83.39,284.66 83.56,284.66 83.72,284.66 83.89,284.65 84.06,284.65 84.23,284.65 84.39,284.65 84.56,284.65 84.73,284.64 84.90,284.64 85.06,284.64 85.23,284.64 85.40,284.63 85.57,284.63 85.74,284.63 85.90,284.63 86.07,284.63 86.24,284.62 86.41,284.62 86.57,284.62 86.74,284.62 86.91,284.61 87.08,284.61 87.24,284.61 87.41,284.61 87.58,284.61 87.75,284.60 87.91,284.60 88.08,284.60 88.25,284.60 88.42,284.59 88.58,284.59 88.75,284.59 88.92,284.59 89.09,284.58 89.25,284.58 89.42,284.58 89.59,284.58 89.76,284.57 89.92,284.57 90.09,284.57 90.26,284.57 90.43,284.57 90.59,284.56 90.76,284.56 90.93,284.56 91.10,284.56 91.27,284.55 91.43,284.55 91.60,284.55 91.77,284.55 91.94,284.54 92.10,284.54 92.27,284.54 92.44,284.54 92.61,284.53 92.77,284.53 92.94,284.53 93.11,284.53 93.28,284.52 93.44,284.52 93.61,284.52 93.78,284.51 93.95,284.50 94.11,284.50 94.28,284.49 94.45,284.49 94.62,284.48 94.78,284.47 94.95,284.47 95.12,284.46 95.29,284.46 95.45,284.45 95.62,284.44 95.79,284.44 95.96,284.43 96.13,284.43 96.29,284.42 96.46,284.41 96.63,284.41 96.80,284.40 96.96,284.40 97.13,284.39 97.30,284.38 97.47,284.38 97.63,284.37 97.80,284.36 97.97,284.36 98.14,284.35 98.30,284.35 98.47,284.34 98.64,284.33 98.81,284.33 98.97,284.32 99.14,284.31 99.31,284.31 99.48,284.30 99.64,284.29 99.81,284.29 99.98,284.28 100.15,284.27 100.31,284.27 100.48,284.26 100.65,284.25 100.82,284.25 100.98,284.24 101.15,284.23 101.32,284.23 101.49,284.22 101.66,284.21 101.82,284.21 101.99,284.20 102.16,284.19 102.33,284.19 102.49,284.18 102.66,284.17 102.83,284.17 103.00,284.16 103.16,284.15 103.33,284.15 103.50,284.14 103.67,284.13 103.83,284.12 104.00,284.12 104.17,284.11 104.34,284.10 104.50,284.10 104.67,284.09 104.84,284.08 105.01,284.07 105.17,284.07 105.34,284.06 105.51,284.05 105.68,284.04 105.84,284.04 106.01,284.03 106.18,284.02 106.35,284.01 106.52,284.01 106.68,284.00 106.85,283.99 107.02,283.98 107.19,283.98 107.35,283.97 107.52,283.96 107.69,283.95 107.86,283.95 108.02,283.94 108.19,283.93 108.36,283.92 108.53,283.92 108.69,283.91 108.86,283.90 109.03,283.89 109.20,283.88 109.36,283.88 109.53,283.87 109.70,283.86 109.87,283.85 110.03,283.84 110.20,283.84 110.37,283.83 110.54,283.82 110.70,283.81 110.87,283.80 111.04,283.79 111.21,283.79 111.37,283.78 111.54,283.77 111.71,283.76 111.88,283.75 112.05,283.74 112.21,283.74 112.38,283.73 112.55,283.72 112.72,283.71 112.88,283.70 113.05,283.69 113.22,283.68 113.39,283.67 113.55,283.67 113.72,283.66 113.89,283.65 114.06,283.64 114.22,283.63 114.39,283.62 114.56,283.61 114.73,283.60 114.89,283.59 115.06,283.58 115.23,283.57 115.40,283.57 115.56,283.56 115.73,283.55 115.90,283.54 116.07,283.53 116.23,283.52 116.40,283.51 116.57,283.50 116.74,283.49 116.90,283.48 117.07,283.47 117.24,283.46 117.41,283.45 117.58,283.44 117.74,283.43 117.91,283.42 118.08,283.41 118.25,283.40 118.41,283.39 118.58,283.38 118.75,283.37 118.92,283.36 119.08,283.35 119.25,283.34 119.42,283.33 119.59,283.32 119.75,283.31 119.92,283.30 120.09,283.28 120.26,283.27 120.42,283.26 120.59,283.25 120.76,283.24 120.93,283.23 121.09,283.22 121.26,283.21 121.43,283.19 121.60,283.18 121.76,283.16 121.93,283.15 122.10,283.13 122.27,283.12 122.44,283.11 122.60,283.09 122.77,283.08 122.94,283.06 123.11,283.05 123.27,283.03 123.44,283.02 123.61,283.00 123.78,282.99 123.94,282.97 124.11,282.95 124.28,282.94 124.45,282.92 124.61,282.91 124.78,282.89 124.95,282.88 125.12,282.86 125.28,282.84 125.45,282.83 125.62,282.81 125.79,282.79 125.95,282.78 126.12,282.76 126.29,282.74 126.46,282.73 126.62,282.71 126.79,282.69 126.96,282.68 127.13,282.66 127.29,282.64 127.46,282.62 127.63,282.61 127.80,282.59 127.97,282.57 128.13,282.55 128.30,282.53 128.47,282.52 128.64,282.50 128.80,282.48 128.97,282.46 129.14,282.44 129.31,282.42 129.47,282.40 129.64,282.38 129.81,282.36 129.98,282.34 130.14,282.32 130.31,282.30 130.48,282.28 130.65,282.26 130.81,282.24 130.98,282.22 131.15,282.20 131.32,282.18 131.48,282.16 131.65,282.14 131.82,282.12 131.99,282.09 132.15,282.07 132.32,282.05 132.49,282.03 132.66,282.01 132.83,281.98 132.99,281.96 133.16,281.94 133.33,281.91 133.50,281.89 133.66,281.87 133.83,281.84 134.00,281.82 134.17,281.79 134.33,281.77 134.50,281.74 134.67,281.72 134.84,281.69 135.00,281.67 135.17,281.64 135.34,281.61 135.51,281.59 135.67,281.56 135.84,281.53 136.01,281.50 136.18,281.48 136.34,281.45 136.51,281.42 136.68,281.39 136.85,281.36 137.01,281.33 137.18,281.30 137.35,281.27 137.52,281.24 137.68,281.21 137.85,281.18 138.02,281.15 138.19,281.11 138.36,281.08 138.52,281.05 138.69,281.01 138.86,280.98 139.03,280.95 139.19,280.91 139.36,280.88 139.53,280.84 139.70,280.80 139.86,280.77 140.03,280.73 140.20,280.69 140.37,280.65 140.53,280.61 140.70,280.57 140.87,280.53 141.04,280.49 141.20,280.45 141.37,280.40 141.54,280.36 141.71,280.31 141.82,280.28 141.93,280.24 142.04,280.20 142.15,280.16 142.27,280.12 142.38,280.07 142.49,280.03 142.60,279.99 142.71,279.95 142.82,279.91 142.94,279.86 143.05,279.82 143.16,279.77 143.27,279.73 143.38,279.68 143.49,279.64 143.61,279.59 143.72,279.54 143.83,279.49 143.94,279.44 144.05,279.39 144.16,279.34 144.28,279.29 144.39,279.24 144.50,279.19 144.61,279.14 144.72,279.08 144.83,279.04 145.00,278.98 145.11,278.95 145.23,278.91 145.34,278.86 145.45,278.82 145.56,278.78 145.67,278.74 145.78,278.69 145.90,278.65 146.01,278.60 146.12,278.56 146.23,278.51 146.34,278.46 146.45,278.41 146.57,278.36 146.68,278.31 146.79,278.26 146.90,278.20 147.01,278.15 147.13,278.09 147.24,278.04 147.35,277.98 147.46,277.92 147.57,277.85 147.68,277.79 147.80,277.73 147.91,277.66 148.02,277.59 148.13,277.52 148.24,277.45 148.35,277.37 148.47,277.30 148.58,277.22 148.69,277.14 148.80,277.06 148.91,276.97 149.02,276.88 149.14,276.79 149.25,276.70 149.36,276.61 149.47,276.51 149.58,276.41 149.69,276.30 149.81,276.19 149.92,276.08 150.03,275.96 150.14,275.84 150.25,275.72 150.37,275.59 150.48,275.46 150.59,275.32 150.70,275.18 150.81,275.03 150.92,274.87 151.04,274.71 151.15,274.55 151.26,274.37 151.37,274.19 151.48,274.00 151.54,273.90 151.59,273.80 151.65,273.70 151.71,273.60 151.76,273.49 151.82,273.38 151.87,273.27 151.93,273.16 151.99,273.04 152.04,272.92 152.10,272.80 152.15,272.67 152.21,272.55 152.26,272.41 152.32,272.28 152.38,272.14 152.43,272.00 152.49,271.86 152.54,271.71 152.60,271.55 152.66,271.40 152.71,271.24 152.77,271.07 152.82,270.90 152.88,270.73 152.93,270.55 152.99,270.36 153.05,270.18 153.10,269.98 153.16,269.78 153.21,269.57 153.27,269.36 153.33,269.14 153.38,268.92 153.44,268.69" fill="none" stroke="#ec0808" stroke-width="3.5" stroke-linejoin="round" stroke-linecap="round"/>
<polyline clip-path="url(#ca)" points="158.24,71.64 158.30,71.83" fill="none" stroke="#ec0808" stroke-width="3.5" stroke-linejoin="round" stroke-linecap="round"/>
<polyline clip-path="url(#ca)" points="162.71,273.07 162.77,273.35 162.82,273.61 162.88,273.87 162.93,274.12 162.99,274.37 163.05,274.60 163.10,274.83 163.16,275.05 163.21,275.26 163.27,275.46 163.32,275.66 163.38,275.86 163.44,276.04 163.49,276.23 163.55,276.40 163.60,276.57 163.66,276.74 163.72,276.90 163.77,277.06 163.83,277.21 163.88,277.36 163.94,277.50 163.99,277.64 164.05,277.78 164.11,277.91 164.16,278.04 164.22,278.16 164.27,278.28 164.33,278.40 164.39,278.52 164.44,278.63 164.50,278.74 164.55,278.85 164.61,278.95 164.67,279.05 164.72,279.15 164.78,279.25 164.83,279.34 164.94,279.52 165.06,279.70 165.17,279.86 165.28,280.02 165.39,280.17 165.50,280.31 165.61,280.45 165.73,280.58 165.84,280.71 165.95,280.83 166.06,280.95 166.17,281.06 166.29,281.16 166.40,281.27 166.51,281.36 166.62,281.46 166.73,281.55 166.84,281.64 166.96,281.72 167.07,281.80 167.18,281.88 167.29,281.96 167.40,282.03 167.51,282.10 167.63,282.17 167.74,282.23 167.85,282.30 167.96,282.36 168.07,282.42 168.18,282.47 168.30,282.53 168.41,282.58 168.52,282.63 168.63,282.68 168.74,282.73 168.85,282.78 168.97,282.82 169.08,282.86 169.19,282.90 169.30,282.94 169.47,283.00 169.64,283.05 169.80,283.10 169.97,283.15 170.14,283.20 170.31,283.24 170.47,283.29 170.64,283.33 170.81,283.37 170.98,283.40 171.15,283.44 171.31,283.47 171.48,283.51 171.65,283.54 171.82,283.57 171.98,283.60 172.15,283.63 172.32,283.65 172.49,283.68 172.65,283.70 172.82,283.73 172.99,283.75 173.16,283.77 173.32,283.79 173.49,283.81 173.66,283.83 173.83,283.85 173.99,283.87 174.16,283.89 174.33,283.90 174.50,283.92 174.66,283.94 174.83,283.95 175.00,283.97 175.17,283.98 175.33,283.99 175.50,284.01 175.67,284.02 175.84,284.03 176.00,284.04 176.17,284.05 176.34,284.06 176.51,284.07 176.68,284.08 176.84,284.09 177.01,284.10 177.18,284.11 177.35,284.12 177.51,284.13 177.68,284.13 177.85,284.14 178.02,284.15 178.18,284.16 178.35,284.16 178.52,284.17 178.69,284.18 178.85,284.18 179.02,284.19 179.19,284.19 179.36,284.20 179.52,284.20 179.69,284.21 179.86,284.21 180.03,284.22 180.19,284.22 180.36,284.23 180.53,284.23 180.70,284.23 180.86,284.24 181.03,284.24 181.20,284.24 181.37,284.25 181.54,284.25 181.70,284.25 181.87,284.25 182.04,284.26 182.21,284.26 182.37,284.26 182.54,284.26 182.71,284.26 182.88,284.27 183.04,284.27 183.21,284.27 183.38,284.27 183.55,284.27 183.71,284.27 183.88,284.27 184.05,284.28 184.22,284.28 184.38,284.28 184.55,284.28 184.72,284.28 184.89,284.28 185.05,284.28 185.22,284.28 185.39,284.28 185.56,284.28 185.72,284.27 185.89,284.27 186.06,284.26 186.23,284.26 186.39,284.25 186.56,284.25 186.73,284.24 186.90,284.23 187.07,284.23 187.23,284.22 187.40,284.22 187.57,284.21 187.74,284.20 187.90,284.20 188.07,284.19 188.24,284.19 188.41,284.18 188.57,284.17 188.74,284.17 188.91,284.16 189.08,284.15 189.24,284.15 189.41,284.14 189.58,284.13 189.75,284.13 189.91,284.12 190.08,284.11 190.25,284.11 190.42,284.10 190.58,284.09 190.75,284.08 190.92,284.08 191.09,284.07 191.25,284.06 191.42,284.06 191.59,284.05 191.76,284.04 191.92,284.03 192.09,284.03 192.26,284.02 192.43,284.01 192.60,284.00 192.76,284.00 192.93,283.99 193.10,283.98 193.27,283.97 193.43,283.97 193.60,283.96 193.77,283.95 193.94,283.94 194.10,283.93 194.27,283.93 194.44,283.92 194.61,283.91 194.77,283.90 194.94,283.89 195.11,283.89 195.28,283.88 195.44,283.87 195.61,283.86 195.78,283.85 195.95,283.85 196.11,283.84 196.28,283.83 196.45,283.82 196.62,283.81 196.78,283.80 196.95,283.79 197.12,283.79 197.29,283.78 197.46,283.77 197.62,283.76 197.79,283.75 197.96,283.74 198.13,283.73 198.29,283.72 198.46,283.72 198.63,283.71 198.80,283.70 198.96,283.69 199.13,283.68 199.30,283.67 199.47,283.66 199.63,283.65 199.80,283.64 199.97,283.63 200.14,283.62 200.30,283.61 200.47,283.60 200.64,283.59 200.81,283.59 200.97,283.58 201.14,283.57 201.31,283.56 201.48,283.55 201.64,283.54 201.81,283.52 201.98,283.51 202.15,283.50 202.31,283.49 202.48,283.48 202.65,283.47 202.82,283.46 202.99,283.45 203.15,283.44 203.32,283.43 203.49,283.42 203.66,283.40 203.82,283.39 203.99,283.38 204.16,283.37 204.33,283.35 204.49,283.34 204.66,283.33 204.83,283.31 205.00,283.30 205.16,283.29 205.33,283.28 205.50,283.27 205.67,283.25 205.83,283.24 206.00,283.23 206.17,283.21 206.34,283.20 206.50,283.18 206.67,283.17 206.84,283.15 207.01,283.13 207.17,283.11 207.34,283.09 207.51,283.07 207.68,283.05 207.85,283.02 208.01,282.99 208.18,282.96 208.35,282.93 208.52,282.90 208.68,282.86 208.85,282.81 209.02,282.77 209.19,282.71 209.30,282.67 209.41,282.63 209.52,282.58 209.63,282.53 209.74,282.48 209.86,282.41 209.97,282.34 210.08,282.27 210.19,282.18 210.30,282.09 210.41,281.98 210.53,281.86 210.64,281.72 210.75,281.56 210.86,281.38 210.92,281.27 210.97,281.16 211.03,281.04 211.08,280.91 211.14,280.77 211.20,280.62 211.25,280.45 211.31,280.27 211.36,280.06 211.42,279.84 211.48,279.60 211.53,279.33" fill="none" stroke="#ec0808" stroke-width="3.5" stroke-linejoin="round" stroke-linecap="round"/>
<polyline clip-path="url(#ca)" points="214.27,279.18 214.32,279.45 214.38,279.69 214.44,279.91 214.49,280.11 214.55,280.29 214.60,280.45 214.66,280.61 214.72,280.74 214.77,280.87 214.83,280.99 214.88,281.10 214.94,281.20 215.05,281.37 215.16,281.53 215.27,281.66 215.39,281.78 215.50,281.88 215.61,281.97 215.72,282.04 215.83,282.11 215.94,282.18 216.06,282.23 216.17,282.28 216.28,282.33 216.39,282.37 216.56,282.42 216.73,282.47 216.89,282.51 217.06,282.54 217.23,282.57 217.40,282.60 217.56,282.62 217.73,282.64 217.90,282.66 218.07,282.67 218.24,282.68 218.40,282.70 218.57,282.71 218.74,282.71 218.91,282.72 219.07,282.73 219.24,282.73 219.41,282.74 219.58,282.74 219.74,282.75 219.91,282.75 220.08,282.75 220.25,282.76 220.41,282.77 220.58,282.77 220.75,282.77 220.92,282.78 221.08,282.78 221.25,282.78 221.42,282.79 221.59,282.79 221.75,282.79 221.92,282.79 222.09,282.80 222.26,282.80 222.42,282.80 222.59,282.80 222.76,282.80 222.93,282.80 223.09,282.80 223.26,282.80 223.43,282.80 223.60,282.80 223.77,282.80 223.93,282.80 224.10,282.80 224.27,282.80 224.44,282.80 224.60,282.80 224.77,282.80 224.94,282.80 225.11,282.80 225.27,282.80 225.44,282.80 225.61,282.80 225.78,282.80 225.94,282.80 226.11,282.80 226.28,282.80 226.45,282.80 226.61,282.80 226.78,282.80 226.95,282.80 227.12,282.79 227.28,282.79 227.45,282.79 227.62,282.79 227.79,282.79 227.95,282.79 228.12,282.79 228.29,282.79 228.46,282.79 228.62,282.78 228.79,282.78 228.96,282.78 229.13,282.78 229.30,282.78 229.46,282.78 229.63,282.78 229.80,282.77 229.97,282.77 230.13,282.77 230.30,282.77 230.47,282.77 230.64,282.77 230.80,282.77 230.97,282.76 231.14,282.76 231.31,282.76 231.47,282.76 231.64,282.76 231.81,282.76 231.98,282.75 232.14,282.75 232.31,282.75 232.48,282.75 232.65,282.75 232.81,282.75 232.98,282.74 233.15,282.74 233.32,282.74 233.48,282.74 233.65,282.74 233.82,282.74 233.99,282.73 234.16,282.73 234.32,282.73 234.49,282.73 234.66,282.73 234.83,282.73 234.99,282.72 235.16,282.72 235.33,282.72 235.50,282.72 235.66,282.72 235.83,282.71 236.00,282.71 236.17,282.71 236.33,282.71 236.50,282.71 236.67,282.71 236.84,282.70 237.00,282.70 237.17,282.70 237.34,282.70 237.51,282.70 237.67,282.69 237.84,282.69 238.01,282.69 238.18,282.69 238.34,282.69 238.51,282.68 238.68,282.68 238.85,282.68 239.01,282.68 239.18,282.68 239.35,282.67 239.52,282.67 239.69,282.67 239.85,282.67 240.02,282.67 240.19,282.66 240.36,282.65 240.52,282.65 240.69,282.64 240.86,282.64 241.03,282.63 241.19,282.62 241.36,282.62 241.53,282.61 241.70,282.61 241.86,282.60 242.03,282.59 242.20,282.59 242.37,282.58 242.53,282.57 242.70,282.57 242.87,282.56 243.04,282.56 243.20,282.55 243.37,282.54 243.54,282.54 243.71,282.53 243.87,282.53 244.04,282.52 244.21,282.51 244.38,282.51 244.55,282.50 244.71,282.49 244.88,282.49 245.05,282.48 245.22,282.48 245.38,282.47 245.55,282.46 245.72,282.46 245.89,282.45 246.05,282.45 246.22,282.44 246.39,282.43 246.56,282.43 246.72,282.42 246.89,282.41 247.06,282.41 247.23,282.40 247.39,282.40 247.56,282.39 247.73,282.38 247.90,282.38 248.06,282.37 248.23,282.37 248.40,282.36 248.57,282.35 248.73,282.35 248.90,282.34 249.07,282.33 249.24,282.33 249.40,282.32 249.57,282.32 249.74,282.31 249.91,282.30 250.08,282.30 250.24,282.29 250.41,282.28 250.58,282.28 250.75,282.27 250.91,282.27 251.08,282.26 251.25,282.25 251.42,282.25 251.58,282.24 251.75,282.23 251.92,282.23 252.09,282.22 252.25,282.22 252.42,282.21 252.59,282.20 252.76,282.20 252.92,282.19 253.09,282.18 253.26,282.18 253.43,282.17 253.59,282.17 253.76,282.16 253.93,282.15 254.10,282.15 254.26,282.14 254.43,282.14 254.60,282.13 254.77,282.12 254.94,282.12 255.10,282.11 255.27,282.10 255.44,282.10 255.61,282.09 255.77,282.08 255.94,282.08 256.11,282.07 256.28,282.07 256.44,282.06 256.61,282.05 256.78,282.05 256.95,282.04 257.11,282.03 257.28,282.03 257.45,282.02 257.62,282.02 257.78,282.01 257.95,282.00 258.12,282.00 258.29,281.99 258.45,281.98 258.62,281.98 258.79,281.97 258.96,281.97 259.12,281.96 259.29,281.95 259.46,281.95 259.63,281.94 259.79,281.93 259.96,281.93 260.13,281.92 260.30,281.92 260.47,281.91 260.63,281.90 260.80,281.90 260.97,281.89 261.14,281.88 261.30,281.88 261.47,281.87 261.64,281.87 261.81,281.86 261.97,281.85 262.14,281.85 262.31,281.84 262.48,281.83 262.64,281.83 262.81,281.82 262.98,281.82 263.15,281.81 263.31,281.80 263.48,281.80 263.65,281.79 263.82,281.78 263.98,281.78 264.15,281.77 264.32,281.76 264.49,281.76 264.65,281.75 264.82,281.75 264.99,281.74 265.16,281.73 265.33,281.73 265.49,281.72 265.66,281.71 265.83,281.71 266.00,281.70 266.16,281.70 266.33,281.69 266.50,281.68 266.67,281.68 266.83,281.67 267.00,281.66 267.17,281.66 267.34,281.65 267.50,281.64 267.67,281.64 267.84,281.63 268.01,281.63 268.17,281.62 268.34,281.61 268.51,281.61 268.68,281.60 268.84,281.59 269.01,281.59 269.18,281.58 269.35,281.58 269.51,281.57 269.68,281.56 269.85,281.56 270.02,281.55 270.18,281.54 270.35,281.54 270.52,281.53 270.69,281.52 270.86,281.52 271.02,281.51 271.19,281.51 271.36,281.50 271.53,281.49 271.69,281.49 271.86,281.48 272.03,281.47 272.20,281.47 272.36,281.46 272.53,281.46 272.70,281.45 272.87,281.44 273.03,281.44 273.20,281.43 273.37,281.42 273.54,281.42 273.70,281.41 273.87,281.40 274.04,281.40 274.21,281.39 274.37,281.39 274.54,281.38 274.71,281.37 274.88,281.37 275.04,281.36 275.21,281.35 275.38,281.35 275.55,281.34 275.71,281.33 275.88,281.33 276.05,281.32 276.22,281.32 276.39,281.31 276.55,281.30 276.72,281.30 276.89,281.29 277.06,281.28 277.22,281.28 277.39,281.27 277.56,281.26 277.73,281.26 277.89,281.25 278.06,281.25 278.23,281.24 278.40,281.23 278.56,281.23 278.73,281.22 278.90,281.21 279.07,281.21 279.23,281.20 279.40,281.19 279.57,281.19 279.74,281.18 279.90,281.17 280.07,281.17 280.24,281.16 280.41,281.15 280.57,281.15 280.74,281.14 280.91,281.13 281.08,281.13 281.25,281.12 281.41,281.11 281.58,281.11 281.75,281.10 281.92,281.09 282.08,281.08 282.25,281.08 282.42,281.07 282.59,281.06 282.75,281.06 282.92,281.05 283.09,281.04 283.26,281.03 283.42,281.03 283.59,281.02 283.76,281.01 283.93,281.01 284.09,281.00 284.26,280.99 284.43,280.98 284.60,280.98 284.76,280.97 284.93,280.96 285.10,280.95 285.27,280.95 285.43,280.94 285.60,280.93 285.77,280.92 285.94,280.91 286.10,280.91 286.27,280.90 286.44,280.89 286.61,280.88 286.78,280.87 286.94,280.86 287.11,280.85 287.28,280.84 287.45,280.83 287.61,280.82 287.78,280.81 287.95,280.79 288.12,280.78 288.28,280.76 288.45,280.74 288.62,280.72 288.79,280.69 288.95,280.65 289.12,280.60 289.23,280.56 289.34,280.50 289.46,280.43 289.57,280.34 289.68,280.21 289.79,280.04 289.85,279.93 289.90,279.81 289.96,279.68 290.02,279.53 290.07,279.39 290.13,279.26 290.18,279.15 290.29,279.09 290.41,279.24 290.46,279.37 290.52,279.51 290.57,279.65 290.63,279.78 290.69,279.90 290.74,280.00 290.85,280.16 290.96,280.28 291.08,280.36 291.19,280.43 291.30,280.47 291.47,280.52 291.64,280.55 291.80,280.57 291.97,280.59 292.14,280.59 292.31,280.60 292.47,280.60 292.64,280.60 292.81,280.60 292.98,280.60 293.14,280.60 293.31,280.60 293.48,280.59 293.65,280.59 293.81,280.58 293.98,280.58 294.15,280.57 294.32,280.57 294.48,280.56 294.65,280.56 294.82,280.55 294.99,280.54 295.15,280.54 295.32,280.53 295.49,280.53 295.66,280.52 295.82,280.51 295.99,280.51 296.16,280.50 296.33,280.49 296.49,280.49 296.66,280.48 296.83,280.48 297.00,280.47 297.17,280.46 297.33,280.46 297.50,280.45 297.67,280.44 297.84,280.44 298.00,280.43 298.17,280.42 298.34,280.42 298.51,280.41 298.67,280.40 298.84,280.40 299.01,280.39 299.18,280.38 299.34,280.37 299.51,280.37 299.68,280.36 299.85,280.35 300.01,280.35 300.18,280.34 300.35,280.33 300.52,280.33 300.68,280.32 300.85,280.31 301.02,280.31 301.19,280.30 301.35,280.29 301.52,280.29 301.69,280.28 301.86,280.27 302.03,280.27 302.19,280.26 302.36,280.25 302.53,280.25 302.70,280.24 302.86,280.23 303.03,280.22 303.20,280.22 303.37,280.21 303.53,280.20 303.70,280.20 303.87,280.19 304.04,280.18 304.20,280.18 304.37,280.17 304.54,280.16 304.71,280.16 304.87,280.15 305.04,280.14 305.21,280.14 305.38,280.13 305.54,280.12 305.71,280.11 305.88,280.11 306.05,280.10 306.21,280.09 306.38,280.09 306.55,280.08 306.72,280.07 306.88,280.07 307.05,280.06 307.22,280.05 307.39,280.05 307.56,280.04 307.72,280.03 307.89,280.03 308.06,280.02 308.23,280.01 308.39,280.00 308.56,280.00 308.73,279.99 308.90,279.98 309.06,279.98 309.23,279.97 309.40,279.96 309.57,279.96 309.73,279.95 309.90,279.94 310.07,279.94 310.24,279.93 310.40,279.92 310.57,279.92 310.74,279.91 310.91,279.90 311.07,279.89 311.24,279.89 311.41,279.88 311.58,279.87 311.74,279.87 311.91,279.86 312.08,279.85 312.25,279.85 312.41,279.84 312.58,279.83 312.75,279.83 312.92,279.82 313.09,279.81 313.25,279.80 313.42,279.80 313.59,279.79 313.76,279.78 313.92,279.78 314.09,279.77 314.26,279.76 314.43,279.76 314.59,279.75 314.76,279.74 314.93,279.74 315.10,279.73 315.26,279.72 315.43,279.72 315.60,279.71 315.77,279.70 315.93,279.69 316.10,279.69 316.27,279.68 316.44,279.67 316.60,279.67 316.77,279.66" fill="none" stroke="#ec0808" stroke-width="3.5" stroke-linejoin="round" stroke-linecap="round"/>
<g fill="#d80a12" clip-path="url(#ca)"><circle cx="37.64" cy="285.10" r="1.55"/><circle cx="44.04" cy="285.08" r="1.55"/><circle cx="50.44" cy="285.02" r="1.55"/><circle cx="56.84" cy="284.94" r="1.55"/><circle cx="63.24" cy="284.88" r="1.55"/><circle cx="69.64" cy="284.82" r="1.55"/><circle cx="76.04" cy="284.75" r="1.55"/><circle cx="82.44" cy="284.67" r="1.55"/><circle cx="88.84" cy="284.59" r="1.55"/><circle cx="95.24" cy="284.46" r="1.55"/><circle cx="101.63" cy="284.22" r="1.55"/><circle cx="108.02" cy="283.94" r="1.55"/><circle cx="114.42" cy="283.62" r="1.55"/><circle cx="120.81" cy="283.24" r="1.55"/><circle cx="127.18" cy="282.65" r="1.55"/><circle cx="133.53" cy="281.88" r="1.55"/><circle cx="139.83" cy="280.77" r="1.55"/><circle cx="145.86" cy="278.66" r="1.55"/><circle cx="150.91" cy="274.89" r="1.55"/><circle cx="153.36" cy="269.02" r="1.55"/><circle cx="154.33" cy="262.69" r="1.55"/><circle cx="155.01" cy="256.33" r="1.55"/><circle cx="155.47" cy="249.95" r="1.55"/><circle cx="155.79" cy="243.55" r="1.55"/><circle cx="156.04" cy="237.16" r="1.55"/><circle cx="158.24" cy="71.64" r="1.55"/><circle cx="158.07" cy="78.04" r="1.55"/><circle cx="157.98" cy="84.44" r="1.55"/><circle cx="157.92" cy="90.84" r="1.55"/><circle cx="157.85" cy="97.24" r="1.55"/><circle cx="157.80" cy="103.64" r="1.55"/><circle cx="157.74" cy="110.04" r="1.55"/><circle cx="157.69" cy="116.44" r="1.55"/><circle cx="157.64" cy="122.84" r="1.55"/><circle cx="157.59" cy="129.24" r="1.55"/><circle cx="157.54" cy="135.64" r="1.55"/><circle cx="157.48" cy="142.04" r="1.55"/><circle cx="157.43" cy="148.43" r="1.55"/><circle cx="157.37" cy="154.83" r="1.55"/><circle cx="157.31" cy="161.23" r="1.55"/><circle cx="157.25" cy="167.63" r="1.55"/><circle cx="157.18" cy="174.03" r="1.55"/><circle cx="157.11" cy="180.43" r="1.55"/><circle cx="157.04" cy="186.83" r="1.55"/><circle cx="156.96" cy="193.23" r="1.55"/><circle cx="156.87" cy="199.63" r="1.55"/><circle cx="156.77" cy="206.03" r="1.55"/><circle cx="156.66" cy="212.43" r="1.55"/><circle cx="156.53" cy="218.83" r="1.55"/><circle cx="156.39" cy="225.23" r="1.55"/><circle cx="158.24" cy="71.64" r="1.55"/><circle cx="158.45" cy="78.03" r="1.55"/><circle cx="158.54" cy="84.43" r="1.55"/><circle cx="158.60" cy="90.83" r="1.55"/><circle cx="158.66" cy="97.23" r="1.55"/><circle cx="158.72" cy="103.63" r="1.55"/><circle cx="158.77" cy="110.03" r="1.55"/><circle cx="158.82" cy="116.43" r="1.55"/><circle cx="158.87" cy="122.83" r="1.55"/><circle cx="158.92" cy="129.23" r="1.55"/><circle cx="158.97" cy="135.63" r="1.55"/><circle cx="159.02" cy="142.03" r="1.55"/><circle cx="159.08" cy="148.43" r="1.55"/><circle cx="159.13" cy="154.83" r="1.55"/><circle cx="159.19" cy="161.23" r="1.55"/><circle cx="159.24" cy="167.63" r="1.55"/><circle cx="159.31" cy="174.03" r="1.55"/><circle cx="159.37" cy="180.43" r="1.55"/><circle cx="159.44" cy="186.83" r="1.55"/><circle cx="159.51" cy="193.23" r="1.55"/><circle cx="159.59" cy="199.62" r="1.55"/><circle cx="159.68" cy="206.02" r="1.55"/><circle cx="159.78" cy="212.42" r="1.55"/><circle cx="212.79" cy="250.13" r="1.55"/><circle cx="212.63" cy="256.52" r="1.55"/><circle cx="212.49" cy="262.92" r="1.55"/><circle cx="212.30" cy="269.32" r="1.55"/><circle cx="211.97" cy="275.71" r="1.55"/><circle cx="210.52" cy="281.86" r="1.55"/><circle cx="204.45" cy="283.34" r="1.55"/><circle cx="198.06" cy="283.74" r="1.55"/><circle cx="191.67" cy="284.05" r="1.55"/><circle cx="185.27" cy="284.28" r="1.55"/><circle cx="178.87" cy="284.18" r="1.55"/><circle cx="172.49" cy="283.68" r="1.55"/><circle cx="166.59" cy="281.43" r="1.55"/><circle cx="163.42" cy="275.98" r="1.55"/><circle cx="162.16" cy="269.71" r="1.55"/><circle cx="161.49" cy="263.35" r="1.55"/><circle cx="161.05" cy="256.97" r="1.55"/><circle cx="160.73" cy="250.57" r="1.55"/><circle cx="160.49" cy="244.18" r="1.55"/><circle cx="160.30" cy="237.78" r="1.55"/><circle cx="160.14" cy="231.38" r="1.55"/><circle cx="160.00" cy="224.99" r="1.55"/><circle cx="159.88" cy="218.59" r="1.55"/><circle cx="213.10" cy="253.32" r="1.55"/><circle cx="213.24" cy="259.72" r="1.55"/><circle cx="213.40" cy="266.12" r="1.55"/><circle cx="213.64" cy="272.51" r="1.55"/><circle cx="214.21" cy="278.88" r="1.55"/><circle cx="218.41" cy="282.70" r="1.55"/><circle cx="224.81" cy="282.80" r="1.55"/><circle cx="231.21" cy="282.76" r="1.55"/><circle cx="237.61" cy="282.69" r="1.55"/><circle cx="244.01" cy="282.52" r="1.55"/><circle cx="250.40" cy="282.28" r="1.55"/><circle cx="256.80" cy="282.05" r="1.55"/><circle cx="263.19" cy="281.81" r="1.55"/><circle cx="269.59" cy="281.57" r="1.55"/><circle cx="275.98" cy="281.32" r="1.55"/><circle cx="282.38" cy="281.07" r="1.55"/><circle cx="288.77" cy="280.69" r="1.55"/><circle cx="293.56" cy="280.59" r="1.55"/><circle cx="299.96" cy="280.35" r="1.55"/><circle cx="306.35" cy="280.09" r="1.55"/><circle cx="312.75" cy="279.83" r="1.55"/></g>
<polyline clip-path="url(#ca)" points="141.04,282.27 141.15,282.23 141.26,282.19 141.37,282.15 141.48,282.11 141.60,282.07 141.71,282.03 141.82,281.98 141.93,281.94 142.04,281.89 142.15,281.85 142.27,281.80 142.38,281.75 142.49,281.70 142.60,281.65 142.71,281.60 142.82,281.55 142.94,281.50 143.05,281.44 143.16,281.39 143.27,281.33 143.38,281.27 143.49,281.21 143.61,281.15 143.72,281.09 143.83,281.03 143.94,280.96 144.05,280.89 144.16,280.83 144.28,280.76 144.39,280.69 144.50,280.61 144.61,280.54 144.72,280.46 144.83,280.38 144.95,280.30 145.06,280.22 145.17,280.14 145.28,280.05 145.39,279.96 145.51,279.87 145.62,279.78 145.73,279.69 145.84,279.59 145.95,279.49 146.06,279.39 146.18,279.28 146.29,279.17 146.40,279.06 146.51,278.95 146.62,278.83 146.73,278.71 146.85,278.59 146.96,278.46 147.07,278.33 147.18,278.20 147.29,278.06 147.40,277.92 147.52,277.78 147.63,277.63 147.74,277.47 147.85,277.31 147.96,277.15 148.07,276.98 148.19,276.81 148.30,276.63 148.41,276.44 148.47,276.35 148.52,276.25 148.58,276.16 148.63,276.06 148.69,275.96 148.75,275.86 148.80,275.75 148.86,275.65 148.91,275.54 148.97,275.43 149.02,275.32 149.08,275.21 149.14,275.10 149.19,274.98 149.25,274.86 149.30,274.74 149.36,274.62 149.42,274.50 149.47,274.37 149.53,274.24 149.58,274.11 149.64,273.98 149.69,273.85 149.75,273.71 149.81,273.57 149.86,273.43 149.92,273.29 149.97,273.14 150.03,272.99 150.09,272.84 150.14,272.69 150.20,272.53 150.25,272.37 150.31,272.21 150.37,272.04 150.42,271.87 150.48,271.70 150.53,271.52 150.59,271.35 150.64,271.16 150.70,270.98 150.76,270.79 150.81,270.60 150.87,270.40 150.92,270.21 150.98,270.00 151.04,269.80 151.09,269.59 151.15,269.37 151.20,269.15 151.26,268.93 151.31,268.70 151.37,268.47 151.43,268.23 151.48,267.99 151.54,267.74 151.59,267.49 151.65,267.24 151.71,266.98 151.76,266.71 151.82,266.44 151.87,266.16 151.93,265.88 151.99,265.59 152.04,265.29 152.10,264.99 152.15,264.68 152.21,264.37 152.26,264.05 152.32,263.72 152.38,263.38 152.43,263.04 152.49,262.69 152.54,262.34 152.60,261.97 152.66,261.60 152.71,261.22 152.77,260.83 152.82,260.43 152.88,260.02 152.93,259.61 152.99,259.18 153.05,258.75 153.10,258.30 153.16,257.85 153.21,257.39 153.27,256.91 153.33,256.42 153.38,255.93 153.44,255.42 153.49,254.90 153.55,254.37 153.61,253.82 153.66,253.26 153.72,252.69 153.77,252.11 153.83,251.51 153.88,250.90 153.94,250.27 154.00,249.63 154.05,248.98 154.11,248.31 154.16,247.62 154.22,246.92 154.28,246.20 154.33,245.46 154.39,244.71 154.44,243.94 154.50,243.15 154.55,242.34 154.61,241.51 154.67,240.66 154.72,239.80 154.78,238.91 154.83,238.00 154.89,237.07 154.95,236.13 155.00,235.15 155.06,234.16 155.11,233.15 155.17,232.11 155.22,231.05 155.28,229.96 155.34,228.86 155.39,227.73 155.45,226.57 155.50,225.39 155.56,224.19 155.62,222.97 155.67,221.72 155.73,220.44 155.78,219.14 155.84,217.82 155.90,216.48 155.95,215.11 156.01,213.72 156.06,212.31 156.12,210.88 156.17,209.42 156.23,207.95 156.29,206.46 156.34,204.95 156.40,203.43 156.45,201.89 156.51,200.34 156.57,198.78 156.62,197.21 156.68,195.63 156.73,194.05 156.79,192.46 156.84,190.88 156.90,189.30 156.96,187.73 157.01,186.16 157.07,184.61 157.12,183.08 157.18,181.56 157.24,180.07 157.29,178.61 157.35,177.18 157.40,175.79 157.46,174.44 157.52,173.13 157.57,171.87 157.63,170.67 157.68,169.52 157.74,168.44 157.79,167.42 157.85,166.47 157.91,165.59 157.96,164.80 158.02,164.08 158.07,163.44 158.13,162.89 158.19,162.43 158.24,162.06 158.30,161.78 158.35,161.59 158.46,161.50 158.58,161.78 158.63,162.06 158.69,162.43 158.74,162.88 158.80,163.43 158.86,164.06 158.91,164.77 158.97,165.56 159.02,166.42 159.08,167.36 159.14,168.36 159.19,169.43 159.25,170.55 159.30,171.73 159.36,172.97 159.41,174.25 159.47,175.57 159.53,176.93 159.58,178.33 159.64,179.76 159.69,181.21 159.75,182.69 159.81,184.18 159.86,185.69 159.92,187.22 159.97,188.75 160.03,190.29 160.08,191.83 160.14,193.37 160.20,194.91 160.25,196.44 160.31,197.97 160.36,199.49 160.42,201.00 160.48,202.49 160.53,203.98 160.59,205.44 160.64,206.89 160.70,208.32 160.76,209.74 160.81,211.13 160.87,212.51 160.92,213.86 160.98,215.19 161.03,216.50 161.09,217.79 161.15,219.05 161.20,220.30 161.26,221.52 161.31,222.71 161.37,223.89 161.43,225.04 161.48,226.17 161.54,227.27 161.59,228.36 161.65,229.42 161.70,230.46 161.76,231.47 161.82,232.47 161.87,233.44 161.93,234.40 161.98,235.33 162.04,236.24 162.10,237.13 162.15,238.01 162.21,238.86 162.26,239.70 162.32,240.51 162.38,241.31 162.43,242.09 162.49,242.85 162.54,243.60 162.60,244.33 162.65,245.04 162.71,245.74 162.77,246.42 162.82,247.08 162.88,247.73 162.93,248.37 162.99,248.99 163.05,249.60 163.10,250.20 163.16,250.78 163.21,251.35 163.27,251.90 163.32,252.45 163.38,252.98 163.44,253.50 163.49,254.01 163.55,254.50 163.60,254.99 163.66,255.47 163.72,255.93 163.77,256.39 163.83,256.84 163.88,257.27 163.94,257.70 163.99,258.12 164.05,258.53 164.11,258.93 164.16,259.32 164.22,259.71 164.27,260.08 164.33,260.45 164.39,260.81 164.44,261.17 164.50,261.51 164.55,261.85 164.61,262.18 164.67,262.51 164.72,262.83 164.78,263.14 164.83,263.45 164.89,263.75 164.94,264.04 165.00,264.33 165.06,264.61 165.11,264.89 165.17,265.16 165.22,265.43 165.28,265.69 165.34,265.95 165.39,266.20 165.45,266.45 165.50,266.69 165.56,266.93 165.61,267.16 165.67,267.39 165.73,267.62 165.78,267.84 165.84,268.05 165.89,268.27 165.95,268.47 166.01,268.68 166.06,268.88 166.12,269.08 166.17,269.27 166.23,269.46 166.29,269.65 166.34,269.84 166.40,270.02 166.45,270.19 166.51,270.37 166.56,270.54 166.62,270.71 166.68,270.88 166.73,271.04 166.79,271.20 166.84,271.36 166.90,271.51 166.96,271.66 167.01,271.81 167.07,271.96 167.12,272.11 167.18,272.25 167.23,272.39 167.29,272.53 167.35,272.66 167.40,272.80 167.46,272.93 167.51,273.06 167.57,273.19 167.63,273.31 167.68,273.43 167.74,273.56 167.79,273.68 167.85,273.79 167.91,273.91 167.96,274.02 168.02,274.14 168.07,274.25 168.13,274.36 168.18,274.46 168.24,274.57 168.30,274.67 168.35,274.78 168.41,274.88 168.46,274.98 168.52,275.07 168.58,275.17 168.63,275.27 168.74,275.45 168.85,275.63 168.97,275.81 169.08,275.98 169.19,276.15 169.30,276.31 169.41,276.47 169.53,276.62 169.64,276.77 169.75,276.92 169.86,277.06 169.97,277.19 170.08,277.33 170.20,277.46 170.31,277.59 170.42,277.71 170.53,277.83 170.64,277.95 170.75,278.06 170.87,278.18 170.98,278.28 171.09,278.39 171.20,278.50 171.31,278.60 171.42,278.70 171.54,278.79 171.65,278.89 171.76,278.98 171.87,279.07 171.98,279.16 172.09,279.25 172.21,279.33 172.32,279.41 172.43,279.49 172.54,279.57 172.65,279.65 172.76,279.72 172.88,279.80 172.99,279.87 173.10,279.94 173.21,280.01 173.32,280.08 173.44,280.14 173.55,280.21 173.66,280.27 173.77,280.33 173.88,280.40 173.99,280.46 174.11,280.51 174.22,280.57 174.33,280.63 174.44,280.68 174.55,280.74 174.66,280.79 174.78,280.84 174.89,280.89 175.00,280.94 175.11,280.99 175.22,281.04 175.33,281.09 175.45,281.13 175.56,281.18 175.67,281.22 175.78,281.27 175.89,281.31 176.00,281.35 176.12,281.39 176.23,281.44 176.34,281.48 176.45,281.51 176.56,281.55 176.73,281.61 176.90,281.67 177.07,281.72 177.23,281.77 177.40,281.82 177.57,281.87 177.74,281.92 177.90,281.97 178.07,282.01 178.24,282.06 178.41,282.10 178.57,282.15 178.74,282.19 178.91,282.23 179.08,282.27 179.24,282.31 179.41,282.35 179.58,282.38 179.75,282.42 179.92,282.45 180.08,282.49 180.25,282.52 180.42,282.56 180.59,282.59 180.75,282.62 180.92,282.65 181.09,282.68 181.26,282.71 181.42,282.74 181.59,282.77 181.76,282.80 181.93,282.82 182.09,282.85 182.26,282.88 182.43,282.90 182.60,282.93 182.76,282.95 182.93,282.97 183.10,283.00 183.27,283.02 183.43,283.04 183.60,283.06 183.77,283.09 183.94,283.11 184.10,283.13 184.27,283.15 184.44,283.17 184.61,283.19 184.77,283.21 184.94,283.22 185.11,283.24 185.28,283.26 185.45,283.28 185.61,283.29 185.78,283.31 185.95,283.33 186.12,283.34 186.28,283.36 186.45,283.37 186.62,283.39 186.79,283.40 186.95,283.42 187.12,283.43 187.29,283.45 187.46,283.46 187.62,283.47 187.79,283.49 187.96,283.50 188.13,283.51 188.29,283.52 188.46,283.54 188.63,283.55 188.80,283.56 188.96,283.57 189.13,283.58 189.30,283.59 189.47,283.60 189.63,283.61 189.80,283.62 189.97,283.63 190.14,283.64 190.31,283.65 190.47,283.66 190.64,283.67 190.81,283.68 190.98,283.69 191.14,283.69 191.31,283.70 191.48,283.71 191.65,283.72 191.81,283.72 191.98,283.73 192.15,283.74 192.32,283.74 192.48,283.75 192.65,283.76 192.82,283.76 192.99,283.77 193.15,283.77 193.32,283.78 193.49,283.78 193.66,283.79 193.82,283.79 193.99,283.80 194.16,283.80 194.33,283.81 194.49,283.81 194.66,283.81 194.83,283.82 195.00,283.82 195.16,283.82 195.33,283.82 195.50,283.83 195.67,283.83 195.84,283.83 196.00,283.83 196.17,283.83 196.34,283.83 196.51,283.83 196.67,283.83 196.84,283.83 197.01,283.83 197.18,283.83 197.34,283.83 197.51,283.83 197.68,283.83 197.85,283.82 198.01,283.82 198.18,283.82 198.35,283.81 198.52,283.81 198.68,283.81 198.85,283.80 199.02,283.80 199.19,283.79 199.35,283.78 199.52,283.78 199.69,283.77 199.86,283.76 200.02,283.75 200.19,283.74 200.36,283.73 200.53,283.72 200.69,283.71 200.86,283.70 201.03,283.69 201.20,283.67 201.37,283.66 201.53,283.64 201.70,283.63 201.87,283.61 202.04,283.59 202.20,283.57 202.37,283.55 202.54,283.52 202.71,283.50 202.87,283.47 203.04,283.45 203.21,283.42 203.38,283.38 203.54,283.35 203.71,283.31 203.88,283.28 204.05,283.23 204.21,283.19 204.38,283.14 204.55,283.09 204.72,283.04 204.88,282.98 205.00,282.94 205.11,282.90 205.22,282.86 205.33,282.81 205.44,282.76 205.55,282.71 205.67,282.66 205.78,282.60 205.89,282.54 206.00,282.48 206.11,282.42 206.23,282.35 206.34,282.28 206.45,282.20 206.56,282.12 206.67,282.04 206.78,281.95 206.90,281.86 207.01,281.76 207.12,281.66 207.23,281.55 207.34,281.44 207.45,281.32 207.57,281.19 207.68,281.06 207.79,280.92 207.90,280.77 208.01,280.62 208.12,280.45 208.24,280.28 208.35,280.09 208.40,280.00 208.46,279.90 208.52,279.80 208.57,279.70 208.63,279.59 208.68,279.48 208.74,279.37 208.79,279.26 208.85,279.14 208.91,279.02 208.96,278.90 209.02,278.78 209.07,278.65 209.13,278.52 209.19,278.39 209.24,278.25 209.30,278.11 209.35,277.97 209.41,277.83 209.47,277.68 209.52,277.54 209.58,277.39 209.63,277.23 209.69,277.08 209.74,276.92 209.80,276.77 209.86,276.61 209.91,276.45 209.97,276.29 210.02,276.13 210.08,275.96 210.14,275.80 210.19,275.64 210.25,275.49 210.30,275.33 210.36,275.17 210.41,275.02 210.47,274.87 210.53,274.72 210.58,274.58 210.64,274.44 210.69,274.31 210.75,274.18 210.81,274.06 210.86,273.95 210.92,273.84 210.97,273.74 211.08,273.57 211.20,273.44 211.31,273.34 211.42,273.29 211.59,273.29 211.70,273.35 211.81,273.44 211.92,273.58 212.03,273.75 212.09,273.85 212.15,273.96 212.20,274.08 212.26,274.20 212.31,274.32 212.37,274.46 212.43,274.59 212.48,274.74 212.54,274.88 212.59,275.03 212.65,275.18 212.70,275.34 212.76,275.50 212.82,275.65 212.87,275.81 212.93,275.97 212.98,276.13 213.04,276.29 213.10,276.45 213.15,276.61 213.21,276.77 213.26,276.92 213.32,277.08 213.38,277.23 213.43,277.38 213.49,277.53 213.54,277.68 213.60,277.82 213.65,277.97 213.71,278.11 213.77,278.24 213.82,278.38 213.88,278.51 213.93,278.64 213.99,278.77 214.05,278.89 214.10,279.01 214.16,279.13 214.21,279.25 214.27,279.36 214.32,279.47 214.38,279.58 214.44,279.69 214.49,279.79 214.55,279.89 214.60,279.99 214.66,280.09 214.77,280.27 214.88,280.45 215.00,280.61 215.11,280.77 215.22,280.92 215.33,281.07 215.44,281.20 215.55,281.33 215.67,281.46 215.78,281.57 215.89,281.68 216.00,281.79 216.11,281.89 216.22,281.99 216.34,282.08 216.45,282.16 216.56,282.25 216.67,282.33 216.78,282.40 216.89,282.47 217.01,282.54 217.12,282.61 217.23,282.67 217.34,282.73 217.45,282.79 217.56,282.84 217.68,282.90 217.79,282.95 217.90,282.99 218.01,283.04 218.12,283.09 218.24,283.13 218.35,283.17 218.46,283.21 218.63,283.26 218.79,283.32 218.96,283.37 219.13,283.42 219.30,283.46 219.46,283.50 219.63,283.54 219.80,283.58 219.97,283.62 220.13,283.65 220.30,283.69 220.47,283.72 220.64,283.75 220.80,283.78 220.97,283.80 221.14,283.83 221.31,283.85 221.47,283.88 221.64,283.90 221.81,283.92 221.98,283.94 222.15,283.96 222.31,283.98 222.48,284.00 222.65,284.02 222.82,284.03 222.98,284.05 223.15,284.07 223.32,284.08 223.49,284.10 223.65,284.11 223.82,284.12 223.99,284.14 224.16,284.15 224.32,284.16 224.49,284.17 224.66,284.19 224.83,284.20 224.99,284.21 225.16,284.22 225.33,284.23 225.50,284.24 225.66,284.25 225.83,284.26 226.00,284.26 226.17,284.27 226.33,284.28 226.50,284.29 226.67,284.30 226.84,284.30 227.01,284.31 227.17,284.32 227.34,284.33 227.51,284.33 227.68,284.34 227.84,284.35 228.01,284.35 228.18,284.36 228.35,284.36 228.51,284.37 228.68,284.38 228.85,284.38 229.02,284.39 229.18,284.39 229.35,284.40 229.52,284.40 229.69,284.41 229.85,284.41" fill="none" stroke="#000" stroke-width="1.8" stroke-linejoin="round"/>
<polyline clip-path="url(#cb)" points="390.34,104.04 390.37,104.18 390.39,104.31 390.42,104.45 390.45,104.59 390.48,104.72 390.50,104.86 390.53,104.99 390.56,105.12 390.59,105.25 390.62,105.39 390.64,105.52 390.67,105.65 390.70,105.78 390.73,105.91 390.75,106.03 390.78,106.16 390.81,106.29 390.84,106.41 390.87,106.54 390.89,106.66 390.92,106.79 390.95,106.91 390.98,107.03 391.00,107.16 391.06,107.40 391.12,107.64 391.17,107.88 391.23,108.11 391.28,108.35 391.34,108.58 391.39,108.81 391.45,109.03 391.50,109.26 391.56,109.48 391.62,109.70 391.67,109.92 391.73,110.14 391.78,110.35 391.84,110.56 391.89,110.77 391.95,110.98 392.01,111.19 392.06,111.40 392.12,111.60 392.17,111.80 392.23,112.00 392.28,112.20 392.34,112.40 392.39,112.60 392.45,112.79 392.51,112.98 392.56,113.17 392.62,113.36 392.67,113.55 392.73,113.74 392.78,113.92 392.84,114.11 392.89,114.29 392.95,114.47 393.01,114.65 393.06,114.83 393.12,115.01 393.17,115.18 393.23,115.36 393.28,115.53 393.34,115.70 393.40,115.87 393.45,116.04 393.51,116.21 393.56,116.38 393.62,116.54 393.67,116.71 393.73,116.87 393.78,117.04 393.84,117.20 393.90,117.36 393.95,117.52 394.01,117.68 394.06,117.83 394.12,117.99 394.17,118.15 394.23,118.30 394.28,118.45 394.34,118.61 394.40,118.76 394.45,118.91 394.51,119.06 394.56,119.21 394.62,119.36 394.67,119.50 394.73,119.65 394.79,119.79 394.84,119.94 394.90,120.08 394.95,120.23 395.01,120.37 395.06,120.51 395.12,120.65 395.17,120.79 395.23,120.93 395.29,121.07 395.34,121.20 395.40,121.34 395.45,121.48 395.51,121.61 395.56,121.74 395.62,121.88 395.67,122.01 395.73,122.14 395.79,122.27 395.84,122.40 395.90,122.53 395.95,122.66 396.01,122.79 396.06,122.92 396.12,123.05 396.18,123.17 396.23,123.30 396.29,123.42 396.34,123.55 396.40,123.67 396.45,123.80 396.51,123.92 396.56,124.04 396.62,124.16 396.68,124.28 396.73,124.40 396.79,124.52 396.84,124.64 396.90,124.76 396.95,124.88 397.01,125.00 397.06,125.11 397.12,125.23 397.18,125.35 397.23,125.46 397.29,125.58 397.34,125.69 397.40,125.80 397.45,125.92 397.51,126.03 397.57,126.14 397.62,126.25 397.68,126.37 397.73,126.48 397.79,126.59 397.84,126.70 397.90,126.80 397.95,126.91 398.01,127.02 398.07,127.13 398.12,127.24 398.18,127.34 398.23,127.45 398.29,127.56 398.34,127.66 398.40,127.77 398.45,127.87 398.51,127.97 398.57,128.08 398.62,128.18 398.68,128.28 398.73,128.39 398.79,128.49 398.84,128.59 398.90,128.69 398.96,128.79 399.01,128.89 399.07,128.99 399.12,129.09 399.18,129.19 399.23,129.29 399.29,129.39 399.34,129.48 399.40,129.58 399.46,129.68 399.51,129.78 399.57,129.87 399.62,129.97 399.68,130.06 399.73,130.16 399.79,130.25 399.84,130.35 399.96,130.54 400.07,130.72 400.18,130.91 400.29,131.09 400.40,131.27 400.51,131.46 400.62,131.64 400.73,131.81 400.85,131.99 400.96,132.17 401.07,132.34 401.18,132.52 401.29,132.69 401.40,132.86 401.51,133.03 401.62,133.20 401.74,133.37 401.85,133.53 401.96,133.70 402.07,133.86 402.18,134.03 402.29,134.19 402.40,134.35 402.51,134.51 402.62,134.67 402.74,134.83 402.85,134.98 402.96,135.14 403.07,135.30 403.18,135.45 403.29,135.60 403.40,135.76 403.51,135.91 403.63,136.06 403.74,136.21 403.85,136.36 403.96,136.50 404.07,136.65 404.18,136.80 404.29,136.94 404.40,137.09 404.52,137.23 404.63,137.37 404.74,137.52 404.85,137.66 404.96,137.80 405.07,137.94 405.18,138.08 405.29,138.22 405.40,138.35 405.52,138.49 405.63,138.63 405.74,138.76 405.85,138.90 405.96,139.03 406.07,139.16 406.18,139.30 406.29,139.43 406.41,139.56 406.52,139.69 406.63,139.82 406.74,139.95 406.85,140.08 406.96,140.21 407.07,140.33 407.18,140.46 407.30,140.59 407.41,140.71 407.52,140.84 407.63,140.96 407.74,141.08 407.85,141.21 407.96,141.33 408.07,141.45 408.18,141.57 408.30,141.69 408.41,141.81 408.52,141.93 408.63,142.05 408.74,142.17 408.85,142.29 408.96,142.41 409.07,142.52 409.19,142.64 409.30,142.76 409.41,142.87 409.52,142.99 409.63,143.10 409.74,143.22 409.85,143.33 409.96,143.44 410.08,143.55 410.19,143.67 410.30,143.78 410.41,143.89 410.52,144.00 410.63,144.11 410.74,144.22 410.85,144.33 410.96,144.44 411.08,144.55 411.19,144.65 411.30,144.76 411.41,144.87 411.52,144.98 411.63,145.08 411.74,145.19 411.85,145.29 411.97,145.40 412.08,145.50 412.19,145.61 412.30,145.71 412.41,145.81 412.52,145.92 412.63,146.02 412.74,146.12 412.86,146.22 412.97,146.32 413.08,146.43 413.19,146.53 413.30,146.63 413.41,146.73 413.52,146.83 413.63,146.92 413.74,147.02 413.86,147.12 413.97,147.22 414.08,147.32 414.19,147.42 414.30,147.51 414.41,147.61 414.52,147.71 414.63,147.80 414.75,147.90 414.86,147.99 414.97,148.09 415.08,148.18 415.19,148.28 415.30,148.37 415.41,148.46 415.52,148.56 415.64,148.65 415.75,148.74 415.86,148.84 415.97,148.93 416.08,149.02 416.19,149.11 416.30,149.20 416.41,149.29 416.52,149.39 416.64,149.48 416.75,149.57 416.86,149.66 416.97,149.75 417.08,149.83 417.19,149.92 417.30,150.01 417.41,150.10 417.53,150.19 417.64,150.28 417.75,150.36 417.86,150.45 417.97,150.54 418.08,150.63 418.19,150.71 418.30,150.80 418.42,150.88 418.53,150.97 418.64,151.06 418.75,151.14 418.86,151.23 418.97,151.31 419.08,151.40 419.19,151.48 419.30,151.56 419.42,151.65 419.53,151.73 419.64,151.82 419.75,151.90 419.86,151.98 419.97,152.06 420.08,152.15 420.19,152.23 420.31,152.31 420.42,152.39 420.53,152.47 420.64,152.55 420.75,152.64 420.86,152.72 420.97,152.80 421.08,152.88 421.20,152.96 421.31,153.04 421.42,153.12 421.53,153.20 421.64,153.28 421.75,153.36 421.86,153.43 421.97,153.51 422.08,153.59 422.20,153.67 422.31,153.75 422.42,153.83 422.53,153.90 422.64,153.98 422.75,154.06 422.86,154.14 422.97,154.21 423.09,154.29 423.20,154.37 423.31,154.44 423.42,154.52 423.53,154.59 423.64,154.67 423.75,154.75 423.86,154.82 423.98,154.90 424.09,154.97 424.20,155.05 424.31,155.12 424.42,155.20 424.53,155.27 424.64,155.34 424.75,155.42 424.86,155.49 424.98,155.57 425.09,155.64 425.20,155.71 425.31,155.79 425.42,155.86 425.53,155.93 425.64,156.00 425.75,156.08 425.87,156.15 425.98,156.22 426.09,156.29 426.20,156.37 426.31,156.44 426.42,156.51 426.53,156.58 426.64,156.65 426.76,156.72 426.87,156.79 426.98,156.86 427.09,156.93 427.20,157.00 427.31,157.08 427.42,157.15 427.53,157.22 427.64,157.29 427.76,157.36 427.87,157.42 427.98,157.49 428.09,157.56 428.20,157.63 428.31,157.70 428.42,157.77 428.53,157.84 428.65,157.91 428.76,157.98 428.87,158.04 428.98,158.11 429.09,158.18 429.20,158.25 429.31,158.32 429.42,158.38 429.54,158.45 429.65,158.52 429.76,158.59 429.87,158.65 429.98,158.72 430.09,158.79 430.20,158.86 430.31,158.92 430.42,158.99 430.54,159.05 430.65,159.12 430.76,159.19 430.87,159.25 430.98,159.32 431.09,159.39 431.20,159.45 431.31,159.52 431.43,159.58 431.54,159.65 431.65,159.71 431.76,159.78 431.87,159.84 431.98,159.91 432.09,159.97 432.20,160.04 432.32,160.10 432.43,160.17 432.54,160.23 432.65,160.29 432.76,160.36 432.87,160.42 432.98,160.49 433.09,160.55 433.20,160.61 433.32,160.68 433.43,160.74 433.54,160.81 433.65,160.87 433.76,160.93 433.87,160.99 433.98,161.06 434.09,161.12 434.21,161.18 434.32,161.25 434.43,161.31 434.54,161.37 434.65,161.43 434.76,161.50 434.87,161.56 434.98,161.62 435.10,161.68 435.21,161.74 435.32,161.81 435.43,161.87 435.54,161.93 435.65,161.99 435.76,162.05 435.87,162.11 435.98,162.18 436.10,162.24 436.21,162.30 436.32,162.36 436.43,162.42 436.54,162.48 436.65,162.54 436.76,162.60 436.87,162.66 436.99,162.72 437.10,162.78 437.21,162.84 437.32,162.91 437.43,162.97 437.54,163.03 437.65,163.09 437.76,163.15 437.88,163.21 437.99,163.27 438.10,163.33 438.21,163.39 438.32,163.44 438.43,163.50 438.54,163.56 438.65,163.62 438.76,163.68 438.88,163.74 438.99,163.80 439.10,163.86 439.21,163.92 439.32,163.98 439.43,164.04 439.54,164.10 439.65,164.15 439.77,164.21 439.88,164.27 439.99,164.33 440.10,164.39 440.21,164.45 440.32,164.51 440.43,164.56 440.54,164.62 440.66,164.68 440.77,164.74 440.88,164.80 440.99,164.85 441.10,164.91 441.21,164.97 441.32,165.03 441.43,165.09 441.54,165.14 441.66,165.20 441.77,165.26 441.88,165.32 441.99,165.37 442.10,165.43 442.21,165.49 442.32,165.55 442.43,165.60 442.55,165.66 442.66,165.72 442.77,165.77 442.88,165.83 442.99,165.89 443.10,165.95 443.21,166.00 443.32,166.06 443.44,166.12 443.55,166.17 443.66,166.23 443.77,166.29 443.88,166.34 443.99,166.40 444.10,166.46 444.21,166.51 444.32,166.57 444.44,166.62 444.55,166.68 444.66,166.74 444.77,166.79 444.88,166.85 444.99,166.91 445.10,166.96 445.21,167.02 445.33,167.07 445.44,167.13 445.55,167.19 445.66,167.24 445.77,167.30 445.88,167.35 445.99,167.41 446.10,167.46 446.22,167.52 446.33,167.58 446.44,167.63 446.55,167.69 446.66,167.74 446.77,167.80 446.88,167.85 446.99,167.91 447.10,167.96 447.22,168.02 447.33,168.07 447.44,168.13 447.55,168.18 447.66,168.24 447.77,168.29 447.88,168.35 447.99,168.40 448.11,168.46 448.22,168.52 448.33,168.57 448.44,168.62 448.55,168.68 448.66,168.73 448.77,168.79 448.88,168.84 449.00,168.90 449.11,168.95 449.22,169.01 449.33,169.06 449.44,169.12 449.55,169.17 449.66,169.23 449.77,169.28 449.88,169.34 450.00,169.39 450.11,169.45 450.22,169.50 450.33,169.56 450.44,169.61 450.55,169.66 450.66,169.72 450.77,169.77 450.89,169.83 451.00,169.88 451.11,169.94 451.22,169.99 451.33,170.05 451.44,170.10 451.55,170.15 451.66,170.21 451.78,170.26 451.89,170.32 452.00,170.37 452.11,170.43 452.22,170.48 452.33,170.53 452.44,170.59 452.55,170.64 452.66,170.70 452.78,170.75 452.89,170.81 453.00,170.86 453.11,170.91 453.22,170.97 453.33,171.02 453.44,171.08 453.55,171.13 453.67,171.18 453.78,171.24 453.89,171.29 454.00,171.35 454.11,171.40 454.22,171.45 454.33,171.51 454.44,171.56 454.56,171.62 454.67,171.67 454.78,171.73 454.89,171.78 455.00,171.83 455.11,171.89 455.22,171.94 455.33,172.00 455.44,172.05 455.56,172.10 455.67,172.16 455.78,172.21 455.89,172.27 456.00,172.32 456.11,172.37 456.22,172.43 456.33,172.48 456.45,172.54 456.56,172.59 456.67,172.65 456.78,172.70 456.89,172.75 457.00,172.81 457.11,172.86 457.22,172.92 457.34,172.97 457.45,173.02 457.56,173.08 457.67,173.13 457.78,173.19 457.89,173.24 458.00,173.30 458.11,173.35 458.22,173.40 458.34,173.46 458.45,173.51 458.56,173.57 458.67,173.62 458.78,173.68 458.89,173.73 459.00,173.79 459.11,173.84 459.23,173.89 459.34,173.95 459.45,174.00 459.56,174.06 459.67,174.11 459.78,174.17 459.89,174.22 460.00,174.28 460.12,174.33 460.23,174.39 460.34,174.44 460.45,174.49 460.56,174.55 460.67,174.60 460.78,174.66 460.89,174.71 461.00,174.77 461.12,174.82 461.23,174.88 461.34,174.93 461.45,174.99 461.56,175.04 461.67,175.10 461.78,175.15 461.89,175.21 462.01,175.26 462.12,175.32 462.23,175.37 462.34,175.43 462.45,175.49 462.56,175.54 462.67,175.60 462.78,175.65 462.90,175.71 463.01,175.76 463.12,175.82 463.23,175.87 463.34,175.93 463.45,175.99 463.56,176.04 463.67,176.10 463.78,176.15 463.90,176.21 464.01,176.26 464.12,176.32 464.23,176.38 464.34,176.43 464.45,176.49 464.56,176.55 464.67,176.60 464.79,176.66 464.90,176.71 465.01,176.77 465.12,176.83 465.23,176.88 465.34,176.94 465.45,177.00 465.56,177.05 465.68,177.11 465.79,177.17 465.90,177.22 466.01,177.28 466.12,177.34 466.23,177.40 466.34,177.45 466.45,177.51 466.56,177.57 466.68,177.62 466.79,177.68 466.90,177.74 467.01,177.80 467.12,177.85 467.23,177.91 467.34,177.97 467.45,178.03 467.57,178.09 467.68,178.14 467.79,178.20 467.90,178.26 468.01,178.32 468.12,178.38 468.23,178.43 468.34,178.49 468.46,178.55 468.57,178.61 468.68,178.67 468.79,178.73 468.90,178.79 469.01,178.85 469.12,178.91 469.23,178.96 469.34,179.02 469.46,179.08 469.57,179.14 469.68,179.20 469.79,179.26 469.90,179.32 470.01,179.38 470.12,179.44 470.23,179.50 470.35,179.56 470.46,179.62 470.57,179.68 470.68,179.74 470.79,179.80 470.90,179.86 471.01,179.92 471.12,179.99 471.24,180.05 471.35,180.11 471.46,180.17 471.57,180.23 471.68,180.29 471.79,180.35 471.90,180.41 472.01,180.48 472.12,180.54 472.24,180.60 472.35,180.66 472.46,180.72 472.57,180.79 472.68,180.85 472.79,180.91 472.90,180.97 473.01,181.04 473.13,181.10 473.24,181.16 473.35,181.23 473.46,181.29 473.57,181.35 473.68,181.42 473.79,181.48 473.90,181.55 474.02,181.61 474.13,181.67 474.24,181.74 474.35,181.80 474.46,181.87 474.57,181.93 474.68,182.00 474.79,182.06 474.90,182.13 475.02,182.19 475.13,182.26 475.24,182.33 475.35,182.39 475.46,182.46 475.57,182.52 475.68,182.59 475.79,182.66 475.91,182.72 476.02,182.79 476.13,182.86 476.24,182.93 476.35,182.99 476.46,183.06 476.57,183.13 476.68,183.20 476.80,183.27 476.91,183.33 477.02,183.40 477.13,183.47 477.24,183.54 477.35,183.61 477.46,183.68 477.57,183.75 477.68,183.82 477.80,183.89 477.91,183.96 478.02,184.03 478.13,184.10 478.24,184.17 478.35,184.24 478.46,184.32 478.57,184.39 478.69,184.46 478.80,184.53 478.91,184.60 479.02,184.68 479.13,184.75 479.24,184.82 479.35,184.89 479.46,184.97 479.58,185.04 479.69,185.12 479.80,185.19 479.91,185.26 480.02,185.34 480.13,185.41 480.24,185.49 480.35,185.57 480.46,185.64 480.58,185.72 480.69,185.79 480.80,185.87 480.91,185.95 481.02,186.02 481.13,186.10 481.24,186.18 481.35,186.26 481.47,186.34 481.58,186.42 481.69,186.49 481.80,186.57 481.91,186.65 482.02,186.73 482.13,186.81 482.24,186.89 482.36,186.98 482.47,187.06 482.58,187.14 482.69,187.22 482.80,187.30 482.91,187.39 483.02,187.47 483.13,187.55 483.24,187.64 483.36,187.72 483.47,187.80 483.58,187.89 483.69,187.97 483.80,188.06 483.91,188.14 484.02,188.23 484.13,188.32 484.25,188.41 484.36,188.49 484.47,188.58 484.58,188.67 484.69,188.76 484.80,188.85 484.91,188.94 485.02,189.03 485.14,189.12 485.25,189.21 485.36,189.30 485.47,189.39 485.58,189.48 485.69,189.58 485.80,189.67 485.91,189.76 486.02,189.86 486.14,189.95 486.25,190.05 486.36,190.14 486.47,190.24 486.58,190.34 486.69,190.43 486.80,190.53 486.91,190.63 487.03,190.73 487.14,190.83 487.25,190.93 487.36,191.03 487.47,191.13 487.58,191.23 487.69,191.33 487.80,191.44 487.92,191.54 488.03,191.64 488.14,191.75 488.25,191.85 488.36,191.96 488.47,192.07 488.58,192.17 488.69,192.28 488.80,192.39 488.92,192.50 489.03,192.61 489.14,192.72 489.25,192.83 489.36,192.94 489.47,193.06 489.58,193.17 489.69,193.28 489.81,193.40 489.92,193.51 490.03,193.63 490.14,193.75 490.25,193.87 490.36,193.99 490.47,194.11 490.58,194.23 490.70,194.35 490.81,194.47 490.92,194.59 491.03,194.72 491.14,194.84 491.25,194.97 491.36,195.10 491.47,195.22 491.58,195.35 491.70,195.48 491.81,195.61 491.92,195.74 492.03,195.88 492.14,196.01 492.25,196.15 492.36,196.28 492.47,196.42 492.59,196.56 492.70,196.70 492.81,196.84 492.92,196.98 493.03,197.12 493.14,197.27 493.25,197.41 493.36,197.56 493.48,197.71 493.59,197.86 493.70,198.01 493.81,198.16 493.92,198.31 494.03,198.47 494.14,198.62 494.25,198.78 494.36,198.94 494.48,199.10 494.59,199.26 494.70,199.42 494.81,199.59 494.92,199.75 495.03,199.92 495.14,200.09 495.25,200.26 495.37,200.44 495.48,200.61 495.59,200.79 495.70,200.97 495.81,201.15 495.92,201.33 496.03,201.51 496.14,201.70 496.26,201.89 496.31,201.98 496.37,202.08 496.42,202.17 496.48,202.27 496.53,202.36 496.59,202.46 496.64,202.56 496.70,202.66 496.76,202.76 496.81,202.85 496.87,202.95 496.92,203.06 496.98,203.16 497.03,203.26 497.09,203.36 497.14,203.46 497.20,203.57 497.26,203.67 497.31,203.77 497.37,203.88 497.42,203.99 497.48,204.09 497.53,204.20 497.59,204.31 497.65,204.41 497.70,204.52 497.76,204.63 497.81,204.74 497.87,204.85 497.92,204.97 497.98,205.08 498.03,205.19 498.09,205.30 498.15,205.42 498.20,205.53 498.26,205.65 498.31,205.76 498.37,205.88 498.42,206.00 498.48,206.12 498.53,206.24 498.59,206.36 498.65,206.48 498.70,206.60 498.76,206.72 498.81,206.84 498.87,206.97 498.92,207.09 498.98,207.22 499.04,207.34 499.09,207.47 499.15,207.60 499.20,207.73 499.26,207.86 499.31,207.99 499.37,208.12 499.42,208.25 499.48,208.38 499.54,208.52 499.59,208.65 499.65,208.79 499.70,208.92 499.76,209.06 499.81,209.20 499.87,209.34 499.92,209.48 499.98,209.62 500.04,209.76 500.09,209.91 500.15,210.05 500.20,210.20 500.26,210.34 500.31,210.49 500.37,210.64 500.43,210.79 500.48,210.94 500.54,211.09 500.59,211.24 500.65,211.39 500.70,211.55 500.76,211.70 500.81,211.86 500.87,212.02 500.93,212.18 500.98,212.34 501.04,212.50 501.09,212.66 501.15,212.82 501.20,212.99 501.26,213.15 501.31,213.32 501.37,213.49 501.43,213.66 501.48,213.83 501.54,214.00 501.59,214.17 501.65,214.34 501.70,214.52 501.76,214.69 501.82,214.87 501.87,215.05 501.93,215.23 501.98,215.41 502.04,215.59 502.09,215.78 502.15,215.96 502.20,216.15 502.26,216.33 502.32,216.52 502.37,216.71 502.43,216.90 502.48,217.09 502.54,217.28 502.59,217.48 502.65,217.67 502.70,217.87 502.76,218.07 502.82,218.26 502.87,218.46 502.93,218.66 502.98,218.86 503.04,219.07 503.09,219.27 503.15,219.47 503.21,219.68 503.26,219.88 503.32,220.09 503.37,220.29 503.43,220.50 503.48,220.71 503.54,220.92 503.59,221.13 503.65,221.34 503.71,221.55 503.76,221.76 503.82,221.97 503.87,222.18 503.93,222.39 503.98,222.61 504.04,222.82 504.09,223.04 504.15,223.26 504.21,223.49 504.26,223.72 504.32,223.96 504.37,224.22" fill="none" stroke="#ec0808" stroke-width="3" stroke-linejoin="round" stroke-linecap="round"/>
<polyline clip-path="url(#cb)" points="505.65,242.42 505.71,242.61 505.82,242.30" fill="none" stroke="#ec0808" stroke-width="3" stroke-linejoin="round" stroke-linecap="round"/>
<polyline clip-path="url(#cb)" points="506.82,228.94 506.87,228.68 506.93,228.45 506.99,228.24 507.04,228.05 507.10,227.87 507.15,227.69 507.21,227.52 507.26,227.34 507.32,227.16 507.38,226.97 507.43,226.78 507.49,226.59 507.54,226.38 507.60,226.17 507.65,225.96 507.71,225.74 507.76,225.51 507.82,225.27 507.88,225.03 507.93,224.79 507.99,224.54 508.04,224.28 508.10,224.02 508.15,223.75 508.21,223.49 508.26,223.21 508.32,222.94" fill="none" stroke="#ec0808" stroke-width="3" stroke-linejoin="round" stroke-linecap="round"/>
<polyline clip-path="url(#cb)" points="511.16,207.97 511.21,207.69 511.27,207.42 511.32,207.14 511.38,206.87 511.43,206.60 511.49,206.32 511.55,206.05 511.60,205.78 511.66,205.52 511.71,205.25 511.77,204.98 511.82,204.72 511.88,204.45 511.93,204.19 511.99,203.93 512.05,203.67 512.10,203.41 512.16,203.15 512.21,202.89 512.27,202.63 512.32,202.38 512.38,202.12 512.43,201.87 512.49,201.61 512.55,201.36 512.60,201.11 512.66,200.86 512.71,200.61 512.77,200.36 512.82,200.11 512.88,199.86 512.94,199.62 512.99,199.37 513.05,199.13 513.10,198.88 513.16,198.64 513.21,198.40 513.27,198.16 513.32,197.91 513.38,197.68 513.44,197.44 513.49,197.20 513.55,196.96 513.60,196.72 513.66,196.49 513.71,196.25 513.77,196.02 513.82,195.78 513.88,195.55 513.94,195.31 513.99,195.08 514.05,194.85 514.10,194.62 514.16,194.39 514.21,194.16 514.27,193.93 514.33,193.70 514.38,193.47 514.44,193.25 514.49,193.02 514.55,192.79 514.60,192.57 514.66,192.34 514.71,192.12 514.77,191.89 514.83,191.67 514.88,191.45 514.94,191.22 514.99,191.00 515.05,190.78 515.10,190.56 515.16,190.34 515.21,190.12 515.27,189.90 515.33,189.68 515.38,189.46 515.44,189.24 515.49,189.02 515.55,188.80 515.60,188.58 515.66,188.37 515.72,188.15 515.77,187.93 515.83,187.71 515.88,187.50 515.94,187.28 515.99,187.07 516.05,186.85 516.10,186.64 516.16,186.42 516.22,186.21 516.27,185.99 516.33,185.78 516.38,185.57 516.44,185.35 516.49,185.14 516.55,184.93 516.60,184.71 516.66,184.50 516.72,184.29 516.77,184.08 516.83,183.86 516.88,183.65 516.94,183.44 516.99,183.23 517.05,183.02 517.11,182.81 517.16,182.60 517.22,182.38 517.27,182.17 517.33,181.96 517.38,181.75 517.44,181.54 517.49,181.33 517.55,181.12 517.61,180.91 517.66,180.70 517.72,180.49 517.77,180.28 517.83,180.07 517.88,179.86 517.94,179.65 517.99,179.44 518.05,179.23 518.11,179.02 518.16,178.81 518.22,178.60 518.27,178.39 518.33,178.18 518.38,177.97 518.44,177.76 518.50,177.55 518.55,177.33 518.61,177.12 518.66,176.91 518.72,176.70 518.77,176.49 518.83,176.28 518.88,176.07 518.94,175.86 519.00,175.65 519.05,175.44 519.11,175.22 519.16,175.01 519.22,174.80 519.27,174.59 519.33,174.37 519.38,174.16 519.44,173.95 519.50,173.74 519.55,173.52 519.61,173.31 519.66,173.10 519.72,172.88 519.77,172.67 519.83,172.45 519.89,172.24 519.94,172.02 520.00,171.81 520.05,171.59 520.11,171.38 520.16,171.16 520.22,170.94 520.27,170.73 520.33,170.51 520.39,170.29 520.44,170.07 520.50,169.86 520.55,169.64 520.61,169.42 520.66,169.20 520.72,168.98 520.77,168.76 520.83,168.54 520.89,168.32 520.94,168.09 521.00,167.87 521.05,167.65 521.11,167.43 521.16,167.20 521.22,166.98 521.28,166.75 521.33,166.53 521.39,166.30 521.44,166.08 521.50,165.85 521.55,165.62 521.61,165.39 521.66,165.17 521.72,164.94 521.78,164.71 521.83,164.48 521.89,164.25 521.94,164.01 522.00,163.78 522.05,163.55 522.11,163.32 522.16,163.08 522.22,162.85 522.28,162.61 522.33,162.37 522.39,162.14 522.44,161.90 522.50,161.66 522.55,161.42 522.61,161.18 522.67,160.94 522.72,160.70 522.78,160.45 522.83,160.21 522.89,159.97 522.94,159.72 523.00,159.47 523.05,159.23 523.11,158.98 523.17,158.73 523.22,158.48 523.28,158.23 523.33,157.98 523.39,157.72 523.44,157.47 523.50,157.21 523.55,156.96 523.61,156.70 523.67,156.44 523.72,156.18 523.78,155.92 523.83,155.65 523.89,155.39 523.94,155.12 524.00,154.86 524.06,154.59 524.11,154.32 524.17,154.05 524.22,153.77 524.28,153.50 524.33,153.22" fill="none" stroke="#ec0808" stroke-width="3" stroke-linejoin="round" stroke-linecap="round"/>
<polyline clip-path="url(#cb)" points="529.62,103.93 529.67,103.68 529.73,103.48 529.78,103.31 529.84,103.17 529.95,103.03 530.12,103.09 530.17,103.19 530.23,103.33 530.28,103.50 530.34,103.72 530.39,103.96" fill="none" stroke="#ec0808" stroke-width="3" stroke-linejoin="round" stroke-linecap="round"/>
<polyline clip-path="url(#cb)" points="534.17,141.01 534.23,141.28 534.29,141.55 534.34,141.81 534.40,142.06 534.45,142.31 534.51,142.55 534.56,142.78 534.62,143.01 534.67,143.23 534.73,143.44 534.79,143.65 534.84,143.85 534.90,144.05 534.95,144.25 535.01,144.44 535.06,144.62 535.12,144.80 535.18,144.98 535.23,145.16 535.29,145.33 535.34,145.50 535.40,145.66 535.45,145.83 535.51,145.99 535.56,146.14 535.62,146.30 535.68,146.45 535.73,146.60 535.79,146.75 535.84,146.89 535.90,147.04 535.95,147.18 536.01,147.32 536.06,147.46 536.12,147.60 536.18,147.74 536.23,147.87 536.29,148.00 536.34,148.14 536.40,148.27 536.45,148.40 536.51,148.52 536.57,148.65 536.62,148.78 536.68,148.90 536.73,149.02 536.79,149.15 536.84,149.27 536.90,149.39 536.95,149.51 537.01,149.63 537.07,149.75 537.12,149.86 537.18,149.98 537.23,150.10 537.29,150.21 537.34,150.32 537.40,150.44 537.45,150.55 537.51,150.66 537.57,150.77 537.62,150.88 537.68,150.99 537.73,151.10 537.79,151.21 537.84,151.31 537.90,151.42 537.96,151.53 538.01,151.63 538.07,151.74 538.12,151.84 538.18,151.94 538.23,152.05 538.29,152.15 538.34,152.25 538.40,152.35 538.46,152.45 538.51,152.55 538.57,152.65 538.62,152.75 538.68,152.85 538.73,152.95 538.79,153.05 538.84,153.14 538.90,153.24 538.96,153.34 539.01,153.43 539.07,153.53 539.12,153.62 539.23,153.81 539.35,154.00 539.46,154.18 539.57,154.37 539.68,154.55 539.79,154.73 539.90,154.91 540.01,155.09 540.12,155.26 540.23,155.44 540.35,155.61 540.46,155.79 540.57,155.96 540.68,156.13 540.79,156.30 540.90,156.47 541.01,156.64 541.12,156.81 541.24,156.98 541.35,157.15 541.46,157.31 541.57,157.48 541.68,157.65 541.79,157.81 541.90,157.98 542.01,158.14 542.13,158.30 542.24,158.47 542.35,158.63 542.46,158.79 542.57,158.96 542.68,159.12 542.79,159.28 542.90,159.44 543.01,159.60 543.13,159.76 543.24,159.93 543.35,160.09 543.46,160.25 543.57,160.41 543.68,160.57 543.79,160.73 543.90,160.89 544.02,161.05 544.13,161.22 544.24,161.38 544.35,161.54 544.46,161.70 544.57,161.86 544.68,162.02 544.79,162.18 544.91,162.34 545.02,162.50 545.13,162.67 545.24,162.83 545.35,162.99 545.46,163.15 545.57,163.31 545.68,163.47 545.79,163.64 545.91,163.80 546.02,163.96 546.13,164.12 546.24,164.28 546.35,164.45 546.46,164.61 546.57,164.77 546.68,164.93 546.80,165.10 546.91,165.26 547.02,165.42 547.13,165.58 547.24,165.75 547.35,165.91 547.46,166.07 547.57,166.24 547.69,166.40 547.80,166.56 547.91,166.73 548.02,166.89 548.13,167.05 548.24,167.22 548.35,167.38 548.46,167.54 548.57,167.71 548.69,167.87 548.80,168.03 548.91,168.20 549.02,168.36 549.13,168.53 549.24,168.69 549.35,168.86 549.46,169.02 549.58,169.18 549.69,169.35 549.80,169.51 549.91,169.68 550.02,169.84 550.13,170.01 550.24,170.17 550.35,170.34 550.47,170.51 550.58,170.67 550.69,170.84 550.80,171.01 550.91,171.17 551.02,171.34 551.13,171.51 551.24,171.67 551.35,171.84 551.47,172.01 551.58,172.18 551.69,172.35 551.80,172.52 551.91,172.69 552.02,172.86 552.13,173.03 552.24,173.21 552.36,173.38 552.47,173.55 552.58,173.73 552.69,173.90 552.80,174.08 552.91,174.26 553.02,174.44 553.13,174.62 553.25,174.80 553.36,174.98 553.47,175.17 553.58,175.36 553.63,175.45 553.69,175.55 553.75,175.64 553.80,175.74 553.86,175.84 553.91,175.94 553.97,176.04 554.02,176.14 554.08,176.24 554.13,176.35 554.19,176.45 554.25,176.56 554.30,176.67 554.36,176.78 554.41,176.89 554.47,177.00 554.52,177.12 554.58,177.24 554.64,177.36 554.69,177.48 554.75,177.61 554.80,177.74 554.86,177.87 554.91,178.01 554.97,178.15 555.02,178.29 555.08,178.44 555.14,178.59 555.19,178.75 555.25,178.91 555.30,179.07 555.36,179.25 555.41,179.42 555.47,179.61 555.52,179.79 555.58,179.99 555.64,180.19 555.69,180.40 555.75,180.62 555.80,180.84 555.86,181.07 555.91,181.31 555.97,181.55 556.03,181.80 556.08,182.07 556.14,182.34 556.19,182.61" fill="none" stroke="#ec0808" stroke-width="3" stroke-linejoin="round" stroke-linecap="round"/>
<polyline clip-path="url(#cb)" points="558.03,194.32 558.08,194.59 558.14,194.85 558.19,195.09 558.25,195.31 558.30,195.51 558.36,195.68 558.42,195.83 558.47,195.95 558.58,196.10 558.75,196.10 558.86,195.94 558.92,195.80 558.97,195.63 559.03,195.42 559.08,195.17" fill="none" stroke="#ec0808" stroke-width="3" stroke-linejoin="round" stroke-linecap="round"/>
<polyline clip-path="url(#cb)" points="562.36,144.73 562.42,144.51 562.47,144.34 562.53,144.23 562.64,144.16 562.75,144.29 562.81,144.43 562.86,144.61 562.92,144.83 562.98,145.10" fill="none" stroke="#ec0808" stroke-width="3" stroke-linejoin="round" stroke-linecap="round"/>
<polyline clip-path="url(#cb)" points="564.92,160.17 564.98,160.45 565.03,160.70 565.09,160.95 565.14,161.19 565.20,161.41 565.25,161.62 565.31,161.83 565.37,162.02 565.42,162.20 565.48,162.38 565.53,162.54 565.59,162.70 565.64,162.86 565.70,163.00 565.76,163.14 565.81,163.28 565.87,163.40 565.92,163.53 565.98,163.65 566.03,163.76 566.09,163.87 566.14,163.98 566.20,164.09 566.26,164.19 566.31,164.29 566.37,164.39 566.42,164.48 566.53,164.67 566.64,164.84 566.76,165.02 566.87,165.18 566.98,165.34 567.09,165.50 567.20,165.66 567.31,165.81 567.42,165.96 567.53,166.11 567.65,166.26 567.76,166.40 567.87,166.54 567.98,166.68 568.09,166.82 568.20,166.95 568.31,167.09 568.42,167.22 568.54,167.35 568.65,167.48 568.76,167.60 568.87,167.73 568.98,167.85 569.09,167.97 569.20,168.09 569.31,168.21 569.42,168.33 569.54,168.44 569.65,168.55 569.76,168.67 569.87,168.78 569.98,168.89 570.09,168.99 570.20,169.10 570.31,169.21 570.43,169.31 570.54,169.41 570.65,169.52 570.76,169.62 570.87,169.72 570.98,169.81 571.09,169.91 571.20,170.01 571.32,170.10 571.43,170.20 571.54,170.29 571.65,170.38 571.76,170.47 571.87,170.56 571.98,170.65 572.09,170.74 572.20,170.82 572.32,170.91 572.43,170.99 572.54,171.08 572.65,171.16 572.76,171.25 572.87,171.33 572.98,171.41 573.09,171.49 573.21,171.57 573.32,171.65 573.43,171.72 573.54,171.80 573.65,171.88 573.76,171.95 573.87,172.03 573.98,172.10 574.10,172.18 574.21,172.25 574.32,172.32 574.43,172.40 574.54,172.47 574.65,172.54 574.76,172.61 574.87,172.68 574.98,172.75 575.10,172.82 575.21,172.89 575.32,172.95 575.43,173.02 575.54,173.09 575.65,173.15 575.76,173.22 575.87,173.28 575.99,173.35 576.10,173.41 576.21,173.48 576.32,173.54 576.43,173.60 576.54,173.66 576.65,173.73 576.76,173.79 576.88,173.85 576.99,173.91 577.10,173.97 577.21,174.03 577.32,174.09 577.43,174.15 577.54,174.21 577.65,174.26 577.76,174.32 577.88,174.38 577.99,174.44 578.10,174.49 578.21,174.55 578.32,174.61 578.43,174.66 578.54,174.72 578.65,174.77 578.77,174.83 578.88,174.88 578.99,174.94 579.10,174.99 579.21,175.04 579.32,175.10 579.43,175.15 579.54,175.20 579.66,175.26 579.77,175.31 579.88,175.36 579.99,175.41 580.10,175.46 580.21,175.51 580.32,175.56 580.43,175.61 580.54,175.67 580.66,175.72 580.77,175.77 580.88,175.81 580.99,175.86 581.10,175.91 581.21,175.96 581.32,176.01 581.43,176.06 581.55,176.11 581.66,176.15 581.77,176.20 581.88,176.25 581.99,176.30 582.10,176.34 582.21,176.39 582.32,176.44 582.44,176.48 582.55,176.53 582.66,176.58 582.77,176.62 582.88,176.67 582.99,176.71 583.10,176.76 583.21,176.80 583.32,176.85 583.44,176.89 583.55,176.94 583.66,176.98 583.77,177.03 583.88,177.07 583.99,177.11 584.10,177.16 584.21,177.20 584.33,177.24 584.44,177.29 584.55,177.33 584.66,177.37 584.77,177.42 584.88,177.46 584.99,177.50 585.10,177.54 585.22,177.58 585.33,177.63 585.44,177.67 585.55,177.71 585.66,177.75 585.77,177.79 585.88,177.83 585.99,177.87 586.10,177.91 586.22,177.95 586.33,178.00 586.44,178.04 586.55,178.08 586.66,178.12 586.77,178.16 586.88,178.20 586.99,178.23 587.11,178.27 587.22,178.31 587.33,178.35 587.44,178.39 587.55,178.43 587.66,178.47 587.83,178.53 588.00,178.59 588.16,178.64 588.33,178.70 588.50,178.76 588.66,178.81 588.83,178.87 589.00,178.93 589.16,178.98 589.33,179.04 589.50,179.09 589.66,179.15 589.83,179.21 590.00,179.26 590.16,179.31 590.33,179.37 590.50,179.42 590.66,179.48 590.83,179.53 591.00,179.58 591.16,179.64 591.33,179.69 591.50,179.74 591.66,179.80 591.83,179.85 592.00,179.90 592.17,179.95 592.33,180.00 592.50,180.06 592.67,180.11 592.83,180.16 593.00,180.21 593.17,180.26 593.33,180.31 593.50,180.36 593.67,180.41 593.83,180.46 594.00,180.51 594.17,180.56 594.33,180.61 594.50,180.66 594.67,180.71 594.83,180.76 595.00,180.81 595.17,180.86 595.33,180.91 595.50,180.96 595.67,181.00 595.83,181.05 596.00,181.10 596.17,181.15 596.34,181.20 596.50,181.24 596.67,181.29 596.84,181.34 597.00,181.39 597.17,181.43 597.34,181.48 597.50,181.53 597.67,181.57 597.84,181.62 598.00,181.67 598.17,181.71 598.34,181.76 598.50,181.80 598.67,181.85 598.84,181.90 599.00,181.94 599.17,181.99 599.34,182.03 599.50,182.08 599.67,182.12 599.84,182.17 600.00,182.21 600.17,182.26 600.34,182.30 600.51,182.35 600.67,182.39 600.84,182.43 601.01,182.48 601.17,182.52 601.34,182.57 601.51,182.61 601.67,182.65 601.84,182.70 602.01,182.74 602.17,182.79 602.34,182.83 602.51,182.87 602.67,182.91 602.84,182.96 603.01,183.00 603.17,183.04 603.34,183.09 603.51,183.13 603.67,183.17 603.84,183.21 604.01,183.26 604.17,183.30 604.34,183.34 604.51,183.38 604.68,183.43 604.84,183.47 605.01,183.51 605.18,183.55 605.34,183.59 605.51,183.63 605.68,183.68 605.84,183.72 606.01,183.76 606.18,183.80 606.34,183.84 606.51,183.88 606.68,183.92 606.84,183.96 607.01,184.00 607.18,184.04 607.34,184.09 607.51,184.13 607.68,184.17 607.84,184.21 608.01,184.25 608.18,184.29 608.34,184.33 608.51,184.37 608.68,184.41 608.85,184.45 609.01,184.49 609.18,184.53 609.35,184.57 609.51,184.61 609.68,184.65 609.85,184.69 610.01,184.73 610.18,184.77 610.35,184.80 610.51,184.84 610.68,184.88 610.85,184.92 611.01,184.96 611.18,185.00 611.35,185.04 611.51,185.08 611.68,185.12 611.85,185.16 612.01,185.20 612.18,185.23 612.35,185.27 612.51,185.31 612.68,185.35 612.85,185.39 613.02,185.43 613.18,185.46 613.35,185.50 613.52,185.54 613.68,185.58 613.85,185.62 614.02,185.66 614.18,185.69 614.35,185.73 614.52,185.77 614.68,185.81 614.85,185.85 615.02,185.88 615.18,185.92 615.35,185.96 615.52,186.00 615.68,186.03 615.85,186.07 616.02,186.11 616.18,186.15 616.35,186.18 616.52,186.22 616.68,186.26 616.85,186.29 617.02,186.33 617.19,186.37 617.35,186.41 617.52,186.44 617.69,186.48 617.85,186.52 618.02,186.55 618.19,186.59 618.35,186.63 618.52,186.66 618.69,186.70 618.85,186.74 619.02,186.77 619.19,186.81 619.35,186.85 619.52,186.88 619.69,186.92 619.85,186.96 620.02,186.99 620.19,187.03 620.35,187.07 620.52,187.10 620.69,187.14 620.85,187.18 621.02,187.21 621.19,187.25 621.36,187.28 621.52,187.32 621.69,187.36 621.86,187.39 622.02,187.43 622.19,187.46 622.36,187.50 622.52,187.54 622.69,187.57 622.86,187.61 623.02,187.64 623.19,187.68 623.36,187.71 623.52,187.75 623.69,187.79 623.86,187.82 624.02,187.86 624.19,187.89 624.36,187.93 624.52,187.96 624.69,188.00 624.86,188.03 625.02,188.07 625.19,188.11 625.36,188.14 625.53,188.18 625.69,188.21 625.86,188.25 626.03,188.28 626.19,188.32 626.36,188.35 626.53,188.39 626.69,188.42 626.86,188.46 627.03,188.49 627.19,188.53 627.36,188.56 627.53,188.60 627.69,188.63 627.86,188.67 628.03,188.70 628.19,188.74 628.36,188.77 628.53,188.81 628.69,188.84 628.86,188.88 629.03,188.91 629.19,188.95 629.36,188.98 629.53,189.02 629.70,189.05 629.86,189.09 630.03,189.12 630.20,189.16 630.36,189.19 630.53,189.23 630.70,189.26 630.86,189.30 631.03,189.33 631.20,189.36 631.36,189.40 631.53,189.43 631.70,189.47 631.86,189.50 632.03,189.54 632.20,189.57 632.36,189.61 632.53,189.64 632.70,189.68 632.86,189.71 633.03,189.74 633.20,189.78 633.36,189.81 633.53,189.85 633.70,189.88 633.87,189.92 634.03,189.95 634.20,189.99 634.37,190.02 634.53,190.05 634.70,190.09 634.87,190.12 635.03,190.15 635.20,190.18 635.37,190.19 635.53,190.19 635.70,190.17 635.87,190.12 635.98,190.05 636.09,189.97 636.20,189.86 636.31,189.73 636.42,189.57 636.53,189.40 636.65,189.21 636.70,189.11 636.76,189.02 636.87,188.84 636.98,188.68 637.09,188.55 637.20,188.47 637.37,188.44 637.48,188.49 637.59,188.59 637.70,188.75 637.81,188.94 637.87,189.04 637.92,189.15 637.98,189.27 638.04,189.39 638.09,189.50 638.15,189.62 638.20,189.74 638.26,189.85 638.31,189.96 638.37,190.06 638.42,190.16 638.54,190.34 638.65,190.49 638.76,190.62 638.87,190.73 638.98,190.82 639.09,190.89 639.20,190.95 639.31,190.99 639.43,191.03 639.59,191.08 639.76,191.12 639.93,191.16 640.09,191.19 640.26,191.23 640.43,191.26 640.59,191.30 640.76,191.33 640.93,191.37 641.09,191.40 641.26,191.44 641.43,191.47 641.59,191.50 641.76,191.54 641.93,191.57 642.09,191.61 642.26,191.64 642.43,191.67 642.59,191.71 642.76,191.74 642.93,191.78 643.09,191.81 643.26,191.85 643.43,191.88 643.60,191.91 643.76,191.95 643.93,191.98 644.10,192.02 644.26,192.05 644.43,192.08 644.60,192.12 644.76,192.15 644.93,192.19 645.10,192.22 645.26,192.26 645.43,192.29 645.60,192.32 645.76,192.36 645.93,192.39 646.10,192.43 646.26,192.46 646.43,192.50 646.60,192.53 646.76,192.56 646.93,192.60 647.10,192.63 647.26,192.67 647.43,192.70 647.60,192.74 647.77,192.77 647.93,192.80 648.10,192.84 648.27,192.87 648.43,192.91 648.60,192.94 648.77,192.98 648.93,193.01 649.10,193.05 649.27,193.08 649.43,193.12 649.60,193.15 649.77,193.18 649.93,193.22 650.10,193.25 650.27,193.29 650.43,193.32 650.60,193.36 650.77,193.39 650.93,193.43 651.10,193.46 651.27,193.50 651.43,193.53 651.60,193.57 651.77,193.60 651.94,193.63 652.10,193.67 652.27,193.70 652.44,193.74 652.60,193.77 652.77,193.81 652.94,193.84 653.10,193.88 653.27,193.91 653.44,193.95 653.60,193.98 653.77,194.02 653.94,194.05 654.10,194.09 654.27,194.12 654.44,194.16 654.60,194.19 654.77,194.23 654.94,194.26 655.10,194.30 655.27,194.33 655.44,194.37 655.60,194.40 655.77,194.44 655.94,194.47 656.11,194.51 656.27,194.55 656.44,194.58 656.61,194.62 656.77,194.65 656.94,194.69 657.11,194.72 657.27,194.76 657.44,194.79 657.61,194.83 657.77,194.86 657.94,194.90 658.11,194.94 658.27,194.97 658.44,195.01 658.61,195.04 658.77,195.08 658.94,195.11 659.11,195.15 659.27,195.19 659.44,195.22 659.61,195.26 659.77,195.29 659.94,195.33 660.11,195.37 660.28,195.40 660.44,195.44 660.61,195.47 660.78,195.51 660.94,195.55 661.11,195.58 661.28,195.62 661.44,195.66 661.61,195.69 661.78,195.73 661.94,195.76 662.11,195.80 662.28,195.84 662.44,195.87 662.61,195.91 662.78,195.95 662.94,195.98 663.11,196.02 663.28,196.06 663.44,196.09 663.50,196.11" fill="none" stroke="#ec0808" stroke-width="3" stroke-linejoin="round" stroke-linecap="round"/>
<g fill="#d80a12" clip-path="url(#cb)"><circle cx="385.78" cy="35.15" r="1.55"/><circle cx="385.86" cy="41.55" r="1.55"/><circle cx="385.97" cy="47.95" r="1.55"/><circle cx="386.12" cy="54.35" r="1.55"/><circle cx="386.30" cy="60.74" r="1.55"/><circle cx="386.55" cy="67.14" r="1.55"/><circle cx="386.87" cy="73.53" r="1.55"/><circle cx="387.28" cy="79.92" r="1.55"/><circle cx="387.82" cy="86.29" r="1.55"/><circle cx="388.52" cy="92.66" r="1.55"/><circle cx="389.42" cy="98.99" r="1.55"/><circle cx="390.59" cy="105.28" r="1.55"/><circle cx="392.09" cy="111.50" r="1.55"/><circle cx="393.99" cy="117.62" r="1.55"/><circle cx="396.35" cy="123.56" r="1.55"/><circle cx="399.23" cy="129.28" r="1.55"/><circle cx="402.64" cy="134.69" r="1.55"/><circle cx="406.56" cy="139.74" r="1.55"/><circle cx="410.94" cy="144.41" r="1.55"/><circle cx="415.69" cy="148.69" r="1.55"/><circle cx="420.74" cy="152.63" r="1.55"/><circle cx="505.52" cy="241.03" r="1.55"/><circle cx="505.20" cy="234.63" r="1.55"/><circle cx="504.86" cy="228.24" r="1.55"/><circle cx="503.81" cy="221.95" r="1.55"/><circle cx="502.09" cy="215.78" r="1.55"/><circle cx="500.02" cy="209.73" r="1.55"/><circle cx="497.38" cy="203.90" r="1.55"/><circle cx="494.02" cy="198.46" r="1.55"/><circle cx="489.94" cy="193.54" r="1.55"/><circle cx="485.24" cy="189.20" r="1.55"/><circle cx="480.10" cy="185.39" r="1.55"/><circle cx="474.68" cy="181.99" r="1.55"/><circle cx="469.08" cy="178.88" r="1.55"/><circle cx="463.39" cy="175.96" r="1.55"/><circle cx="457.65" cy="173.12" r="1.55"/><circle cx="451.90" cy="170.32" r="1.55"/><circle cx="446.16" cy="167.49" r="1.55"/><circle cx="440.46" cy="164.58" r="1.55"/><circle cx="434.83" cy="161.53" r="1.55"/><circle cx="429.30" cy="158.31" r="1.55"/><circle cx="423.92" cy="154.86" r="1.55"/><circle cx="506.12" cy="237.84" r="1.55"/><circle cx="506.51" cy="231.45" r="1.55"/><circle cx="507.83" cy="225.21" r="1.55"/><circle cx="509.08" cy="218.94" r="1.55"/><circle cx="510.25" cy="212.64" r="1.55"/><circle cx="511.48" cy="206.36" r="1.55"/><circle cx="512.83" cy="200.11" r="1.55"/><circle cx="514.28" cy="193.87" r="1.55"/><circle cx="515.84" cy="187.67" r="1.55"/><circle cx="517.46" cy="181.47" r="1.55"/><circle cx="519.09" cy="175.29" r="1.55"/><circle cx="529.50" cy="104.55" r="1.55"/><circle cx="528.82" cy="110.91" r="1.55"/><circle cx="528.33" cy="117.29" r="1.55"/><circle cx="527.87" cy="123.67" r="1.55"/><circle cx="527.38" cy="130.05" r="1.55"/><circle cx="526.81" cy="136.43" r="1.55"/><circle cx="526.08" cy="142.79" r="1.55"/><circle cx="525.11" cy="149.11" r="1.55"/><circle cx="523.89" cy="155.39" r="1.55"/><circle cx="522.50" cy="161.64" r="1.55"/><circle cx="521.00" cy="167.86" r="1.55"/><circle cx="530.89" cy="107.63" r="1.55"/><circle cx="531.45" cy="114.01" r="1.55"/><circle cx="531.94" cy="120.39" r="1.55"/><circle cx="532.45" cy="126.77" r="1.55"/><circle cx="533.05" cy="133.14" r="1.55"/><circle cx="533.89" cy="139.48" r="1.55"/><circle cx="535.41" cy="145.69" r="1.55"/><circle cx="537.97" cy="151.55" r="1.55"/><circle cx="558.12" cy="194.76" r="1.55"/><circle cx="557.13" cy="188.44" r="1.55"/><circle cx="556.09" cy="182.12" r="1.55"/><circle cx="554.00" cy="176.10" r="1.55"/><circle cx="550.59" cy="170.69" r="1.55"/><circle cx="547.00" cy="165.39" r="1.55"/><circle cx="543.37" cy="160.12" r="1.55"/><circle cx="539.83" cy="154.79" r="1.55"/><circle cx="559.56" cy="191.40" r="1.55"/><circle cx="560.02" cy="185.02" r="1.55"/><circle cx="560.37" cy="178.63" r="1.55"/><circle cx="560.68" cy="172.24" r="1.55"/><circle cx="562.21" cy="145.65" r="1.55"/><circle cx="561.68" cy="152.03" r="1.55"/><circle cx="561.33" cy="158.42" r="1.55"/><circle cx="561.02" cy="164.81" r="1.55"/><circle cx="563.49" cy="148.85" r="1.55"/><circle cx="564.18" cy="155.21" r="1.55"/><circle cx="565.23" cy="161.52" r="1.55"/><circle cx="568.30" cy="167.07" r="1.55"/><circle cx="572.98" cy="171.41" r="1.55"/><circle cx="578.47" cy="174.68" r="1.55"/><circle cx="584.33" cy="177.25" r="1.55"/><circle cx="590.37" cy="179.38" r="1.55"/><circle cx="596.49" cy="181.24" r="1.55"/><circle cx="602.67" cy="182.91" r="1.55"/><circle cx="608.88" cy="184.46" r="1.55"/><circle cx="615.11" cy="185.90" r="1.55"/><circle cx="621.36" cy="187.29" r="1.55"/><circle cx="627.62" cy="188.62" r="1.55"/><circle cx="633.89" cy="189.92" r="1.55"/><circle cx="638.43" cy="190.17" r="1.55"/><circle cx="644.36" cy="192.07" r="1.55"/><circle cx="650.63" cy="193.36" r="1.55"/><circle cx="656.90" cy="194.68" r="1.55"/><circle cx="663.15" cy="196.03" r="1.55"/></g>
<polyline clip-path="url(#cb)" points="529.00,108.80 529.06,108.21 529.11,107.65 529.17,107.11 529.23,106.61 529.28,106.13 529.34,105.68 529.39,105.26 529.45,104.87 529.50,104.52 529.56,104.21 529.62,103.93 529.67,103.68 529.73,103.48 529.78,103.31 529.84,103.17 529.95,103.03 530.12,103.09 530.17,103.19 530.23,103.33 530.28,103.50 530.34,103.72 530.39,103.96 530.45,104.24 530.50,104.56 530.56,104.91 530.62,105.29 530.67,105.70 530.73,106.14 530.78,106.62 530.84,107.11 530.89,107.64 530.95,108.19 531.01,108.76" fill="none" stroke="#ec0808" stroke-width="3.2" stroke-linejoin="round" stroke-linecap="round"/>
<polyline clip-path="url(#cb)" points="562.03,147.24 562.09,146.68 562.14,146.18 562.20,145.73 562.25,145.34 562.31,145.01 562.36,144.73 562.42,144.51 562.47,144.34 562.53,144.23 562.64,144.16 562.75,144.29 562.81,144.43 562.86,144.61 562.92,144.83 562.98,145.10 563.03,145.40 563.09,145.73 563.14,146.09 563.20,146.48 563.25,146.90 563.31,147.34" fill="none" stroke="#ec0808" stroke-width="3.2" stroke-linejoin="round" stroke-linecap="round"/>
<polyline clip-path="url(#cb)" points="557.80,193.05 557.86,193.39 557.92,193.71 557.97,194.02 558.03,194.32 558.08,194.59 558.14,194.85 558.19,195.09 558.25,195.31 558.30,195.51 558.36,195.68 558.42,195.83 558.47,195.95 558.58,196.10 558.75,196.10 558.86,195.94 558.92,195.80 558.97,195.63 559.03,195.42 559.08,195.17 559.14,194.89 559.19,194.56 559.25,194.20 559.31,193.80 559.36,193.35 559.42,192.87" fill="none" stroke="#ec0808" stroke-width="3.2" stroke-linejoin="round" stroke-linecap="round"/>
<polyline clip-path="url(#cb)" points="385.78,34.15 385.81,36.45 385.83,38.55 385.86,40.48 385.89,42.26 385.92,43.93 385.94,45.48 385.97,46.94 386.00,48.32 386.03,49.63 386.06,50.86 386.08,52.04 386.11,53.16 386.14,54.23 386.17,55.26 386.19,56.24 386.22,57.19 386.25,58.10 386.28,58.98 386.31,59.82 386.33,60.64 386.36,61.43 386.39,62.20 386.42,62.94 386.45,63.66 386.47,64.36 386.50,65.04 386.53,65.70 386.56,66.34 386.58,66.97 386.61,67.58 386.64,68.17 386.67,68.75 386.70,69.32 386.72,69.87 386.75,70.42 386.78,70.95 386.81,71.47 386.83,71.97 386.86,72.47 386.89,72.96 386.92,73.43 386.95,73.90 386.97,74.36 387.00,74.81 387.03,75.26 387.06,75.69 387.08,76.12 387.11,76.54 387.14,76.95 387.17,77.35 387.20,77.75 387.22,78.14 387.25,78.53 387.28,78.91 387.31,79.28 387.33,79.65 387.36,80.02 387.39,80.37 387.42,80.72 387.45,81.07 387.47,81.41 387.50,81.75 387.53,82.08 387.56,82.41 387.58,82.74 387.61,83.05 387.64,83.37 387.67,83.68 387.70,83.99 387.72,84.29 387.75,84.59 387.78,84.89 387.81,85.18 387.84,85.47 387.86,85.75 387.89,86.04 387.92,86.31 387.95,86.59 387.97,86.86 388.00,87.13 388.03,87.40 388.06,87.66 388.09,87.92 388.11,88.18 388.14,88.44 388.17,88.69 388.20,88.94 388.22,89.19 388.25,89.43 388.28,89.67 388.31,89.91 388.34,90.15 388.36,90.39 388.39,90.62 388.42,90.85 388.45,91.08 388.47,91.31 388.50,91.53 388.53,91.75 388.56,91.97 388.59,92.19 388.61,92.41 388.64,92.62 388.67,92.83 388.70,93.05 388.72,93.25 388.75,93.46 388.78,93.67 388.81,93.87 388.84,94.07 388.86,94.27 388.89,94.47 388.92,94.67 388.95,94.86 388.98,95.06 389.00,95.25 389.03,95.44 389.06,95.63 389.09,95.82 389.11,96.00 389.14,96.19 389.17,96.37 389.20,96.55 389.23,96.73 389.25,96.91 389.28,97.09 389.31,97.27 389.34,97.44 389.36,97.62 389.39,97.79 389.42,97.96 389.45,98.13 389.48,98.30 389.50,98.47 389.53,98.64 389.56,98.80 389.59,98.97 389.61,99.13 389.64,99.29 389.67,99.46 389.70,99.62 389.73,99.78 389.75,99.93 389.78,100.09 389.81,100.25 389.84,100.40 389.86,100.56 389.89,100.71 389.92,100.86 389.95,101.01 389.98,101.16 390.00,101.31 390.03,101.46 390.06,101.61 390.09,101.76 390.11,101.90 390.14,102.05 390.17,102.19 390.20,102.33 390.23,102.48 390.25,102.62 390.28,102.76 390.31,102.90 390.34,103.04 390.37,103.18 390.39,103.31 390.42,103.45 390.45,103.59 390.48,103.72 390.50,103.86 390.53,103.99 390.56,104.12 390.59,104.25 390.62,104.39 390.64,104.52 390.67,104.65 390.70,104.78 390.73,104.91 390.75,105.03 390.78,105.16 390.81,105.29 390.84,105.41 390.87,105.54 390.89,105.66 390.92,105.79 390.95,105.91 390.98,106.03 391.00,106.16 391.06,106.40 391.12,106.64 391.17,106.88 391.23,107.11 391.28,107.35 391.34,107.58 391.39,107.81 391.45,108.03 391.50,108.26 391.56,108.48 391.62,108.70 391.67,108.92 391.73,109.14 391.78,109.35 391.84,109.56 391.89,109.77 391.95,109.98 392.01,110.19 392.06,110.40 392.12,110.60 392.17,110.80 392.23,111.00 392.28,111.20 392.34,111.40 392.39,111.60 392.45,111.79 392.51,111.98 392.56,112.17 392.62,112.36 392.67,112.55 392.73,112.74 392.78,112.92 392.84,113.11 392.89,113.29 392.95,113.47 393.01,113.65 393.06,113.83 393.12,114.01 393.17,114.18 393.23,114.36 393.28,114.53 393.34,114.70 393.40,114.87 393.45,115.04 393.51,115.21 393.56,115.38 393.62,115.54 393.67,115.71 393.73,115.87 393.78,116.04 393.84,116.20 393.90,116.36 393.95,116.52 394.01,116.68 394.06,116.83 394.12,116.99 394.17,117.15 394.23,117.30 394.28,117.45 394.34,117.61 394.40,117.76 394.45,117.91 394.51,118.06 394.56,118.21 394.62,118.36 394.67,118.50 394.73,118.65 394.79,118.79 394.84,118.94 394.90,119.08 394.95,119.23 395.01,119.37 395.06,119.51 395.12,119.65 395.17,119.79 395.23,119.93 395.29,120.07 395.34,120.20 395.40,120.34 395.45,120.48 395.51,120.61 395.56,120.74 395.62,120.88 395.67,121.01 395.73,121.14 395.79,121.27 395.84,121.40 395.90,121.53 395.95,121.66 396.01,121.79 396.06,121.92 396.12,122.05 396.18,122.17 396.23,122.30 396.29,122.42 396.34,122.55 396.40,122.67 396.45,122.80 396.51,122.92 396.56,123.04 396.62,123.16 396.68,123.28 396.73,123.40 396.79,123.52 396.84,123.64 396.90,123.76 396.95,123.88 397.01,124.00 397.06,124.11 397.12,124.23 397.18,124.35 397.23,124.46 397.29,124.58 397.34,124.69 397.40,124.80 397.45,124.92 397.51,125.03 397.57,125.14 397.62,125.25 397.68,125.37 397.73,125.48 397.79,125.59 397.84,125.70 397.90,125.80 397.95,125.91 398.01,126.02 398.07,126.13 398.12,126.24 398.18,126.34 398.23,126.45 398.29,126.56 398.34,126.66 398.40,126.77 398.45,126.87 398.51,126.97 398.57,127.08 398.62,127.18 398.68,127.28 398.73,127.39 398.79,127.49 398.84,127.59 398.90,127.69 398.96,127.79 399.01,127.89 399.07,127.99 399.12,128.09 399.18,128.19 399.23,128.29 399.29,128.39 399.34,128.48 399.40,128.58 399.46,128.68 399.51,128.78 399.57,128.87 399.62,128.97 399.68,129.06 399.73,129.16 399.79,129.25 399.84,129.35 399.96,129.54 400.07,129.72 400.18,129.91 400.29,130.09 400.40,130.27 400.51,130.46 400.62,130.64 400.73,130.81 400.85,130.99 400.96,131.17 401.07,131.34 401.18,131.52 401.29,131.69 401.40,131.86 401.51,132.03 401.62,132.20 401.74,132.37 401.85,132.53 401.96,132.70 402.07,132.86 402.18,133.03 402.29,133.19 402.40,133.35 402.51,133.51 402.62,133.67 402.74,133.83 402.85,133.98 402.96,134.14 403.07,134.30 403.18,134.45 403.29,134.60 403.40,134.76 403.51,134.91 403.63,135.06 403.74,135.21 403.85,135.36 403.96,135.50 404.07,135.65 404.18,135.80 404.29,135.94 404.40,136.09 404.52,136.23 404.63,136.37 404.74,136.52 404.85,136.66 404.96,136.80 405.07,136.94 405.18,137.08 405.29,137.22 405.40,137.35 405.52,137.49 405.63,137.63 405.74,137.76 405.85,137.90 405.96,138.03 406.07,138.16 406.18,138.30 406.29,138.43 406.41,138.56 406.52,138.69 406.63,138.82 406.74,138.95 406.85,139.08 406.96,139.21 407.07,139.33 407.18,139.46 407.30,139.59 407.41,139.71 407.52,139.84 407.63,139.96 407.74,140.08 407.85,140.21 407.96,140.33 408.07,140.45 408.18,140.57 408.30,140.69 408.41,140.81 408.52,140.93 408.63,141.05 408.74,141.17 408.85,141.29 408.96,141.41 409.07,141.52 409.19,141.64 409.30,141.76 409.41,141.87 409.52,141.99 409.63,142.10 409.74,142.22 409.85,142.33 409.96,142.44 410.08,142.55 410.19,142.67 410.30,142.78 410.41,142.89 410.52,143.00 410.63,143.11 410.74,143.22 410.85,143.33 410.96,143.44 411.08,143.55 411.19,143.65 411.30,143.76 411.41,143.87 411.52,143.98 411.63,144.08 411.74,144.19 411.85,144.29 411.97,144.40 412.08,144.50 412.19,144.61 412.30,144.71 412.41,144.81 412.52,144.92 412.63,145.02 412.74,145.12 412.86,145.22 412.97,145.32 413.08,145.43 413.19,145.53 413.30,145.63 413.41,145.73 413.52,145.83 413.63,145.92 413.74,146.02 413.86,146.12 413.97,146.22 414.08,146.32 414.19,146.42 414.30,146.51 414.41,146.61 414.52,146.71 414.63,146.80 414.75,146.90 414.86,146.99 414.97,147.09 415.08,147.18 415.19,147.28 415.30,147.37 415.41,147.46 415.52,147.56 415.64,147.65 415.75,147.74 415.86,147.84 415.97,147.93 416.08,148.02 416.19,148.11 416.30,148.20 416.41,148.29 416.52,148.39 416.64,148.48 416.75,148.57 416.86,148.66 416.97,148.75 417.08,148.83 417.19,148.92 417.30,149.01 417.41,149.10 417.53,149.19 417.64,149.28 417.75,149.36 417.86,149.45 417.97,149.54 418.08,149.63 418.19,149.71 418.30,149.80 418.42,149.88 418.53,149.97 418.64,150.06 418.75,150.14 418.86,150.23 418.97,150.31 419.08,150.40 419.19,150.48 419.30,150.56 419.42,150.65 419.53,150.73 419.64,150.82 419.75,150.90 419.86,150.98 419.97,151.06 420.08,151.15 420.19,151.23 420.31,151.31 420.42,151.39 420.53,151.47 420.64,151.55 420.75,151.64 420.86,151.72 420.97,151.80 421.08,151.88 421.20,151.96 421.31,152.04 421.42,152.12 421.53,152.20 421.64,152.28 421.75,152.36 421.86,152.43 421.97,152.51 422.08,152.59 422.20,152.67 422.31,152.75 422.42,152.83 422.53,152.90 422.64,152.98 422.75,153.06 422.86,153.14 422.97,153.21 423.09,153.29 423.20,153.37 423.31,153.44 423.42,153.52 423.53,153.59 423.64,153.67 423.75,153.75 423.86,153.82 423.98,153.90 424.09,153.97 424.20,154.05 424.31,154.12 424.42,154.20 424.53,154.27 424.64,154.34 424.75,154.42 424.86,154.49 424.98,154.57 425.09,154.64 425.20,154.71 425.31,154.79 425.42,154.86 425.53,154.93 425.64,155.00 425.75,155.08 425.87,155.15 425.98,155.22 426.09,155.29 426.20,155.37 426.31,155.44 426.42,155.51 426.53,155.58 426.64,155.65 426.76,155.72 426.87,155.79 426.98,155.86 427.09,155.93 427.20,156.00 427.31,156.08 427.42,156.15 427.53,156.22 427.64,156.29 427.76,156.36 427.87,156.42 427.98,156.49 428.09,156.56 428.20,156.63 428.31,156.70 428.42,156.77 428.53,156.84 428.65,156.91 428.76,156.98 428.87,157.04 428.98,157.11 429.09,157.18 429.20,157.25 429.31,157.32 429.42,157.38 429.54,157.45 429.65,157.52 429.76,157.59 429.87,157.65 429.98,157.72 430.09,157.79 430.20,157.86 430.31,157.92 430.42,157.99 430.54,158.05 430.65,158.12 430.76,158.19 430.87,158.25 430.98,158.32 431.09,158.39 431.20,158.45 431.31,158.52 431.43,158.58 431.54,158.65 431.65,158.71 431.76,158.78 431.87,158.84 431.98,158.91 432.09,158.97 432.20,159.04 432.32,159.10 432.43,159.17 432.54,159.23 432.65,159.29 432.76,159.36 432.87,159.42 432.98,159.49 433.09,159.55 433.20,159.61 433.32,159.68 433.43,159.74 433.54,159.81 433.65,159.87 433.76,159.93 433.87,159.99 433.98,160.06 434.09,160.12 434.21,160.18 434.32,160.25 434.43,160.31 434.54,160.37 434.65,160.43 434.76,160.50 434.87,160.56 434.98,160.62 435.10,160.68 435.21,160.74 435.32,160.81 435.43,160.87 435.54,160.93 435.65,160.99 435.76,161.05 435.87,161.11 435.98,161.18 436.10,161.24 436.21,161.30 436.32,161.36 436.43,161.42 436.54,161.48 436.65,161.54 436.76,161.60 436.87,161.66 436.99,161.72 437.10,161.78 437.21,161.84 437.32,161.91 437.43,161.97 437.54,162.03 437.65,162.09 437.76,162.15 437.88,162.21 437.99,162.27 438.10,162.33 438.21,162.39 438.32,162.44 438.43,162.50 438.54,162.56 438.65,162.62 438.76,162.68 438.88,162.74 438.99,162.80 439.10,162.86 439.21,162.92 439.32,162.98 439.43,163.04 439.54,163.10 439.65,163.15 439.77,163.21 439.88,163.27 439.99,163.33 440.10,163.39 440.21,163.45 440.32,163.51 440.43,163.56 440.54,163.62 440.66,163.68 440.77,163.74 440.88,163.80 440.99,163.85 441.10,163.91 441.21,163.97 441.32,164.03 441.43,164.09 441.54,164.14 441.66,164.20 441.77,164.26 441.88,164.32 441.99,164.37 442.10,164.43 442.21,164.49 442.32,164.55 442.43,164.60 442.55,164.66 442.66,164.72 442.77,164.77 442.88,164.83 442.99,164.89 443.10,164.95 443.21,165.00 443.32,165.06 443.44,165.12 443.55,165.17 443.66,165.23 443.77,165.29 443.88,165.34 443.99,165.40 444.10,165.46 444.21,165.51 444.32,165.57 444.44,165.62 444.55,165.68 444.66,165.74 444.77,165.79 444.88,165.85 444.99,165.91 445.10,165.96 445.21,166.02 445.33,166.07 445.44,166.13 445.55,166.19 445.66,166.24 445.77,166.30 445.88,166.35 445.99,166.41 446.10,166.46 446.22,166.52 446.33,166.58 446.44,166.63 446.55,166.69 446.66,166.74 446.77,166.80 446.88,166.85 446.99,166.91 447.10,166.96 447.22,167.02 447.33,167.07 447.44,167.13 447.55,167.18 447.66,167.24 447.77,167.29 447.88,167.35 447.99,167.40 448.11,167.46 448.22,167.52 448.33,167.57 448.44,167.62 448.55,167.68 448.66,167.73 448.77,167.79 448.88,167.84 449.00,167.90 449.11,167.95 449.22,168.01 449.33,168.06 449.44,168.12 449.55,168.17 449.66,168.23 449.77,168.28 449.88,168.34 450.00,168.39 450.11,168.45 450.22,168.50 450.33,168.56 450.44,168.61 450.55,168.66 450.66,168.72 450.77,168.77 450.89,168.83 451.00,168.88 451.11,168.94 451.22,168.99 451.33,169.05 451.44,169.10 451.55,169.15 451.66,169.21 451.78,169.26 451.89,169.32 452.00,169.37 452.11,169.43 452.22,169.48 452.33,169.53 452.44,169.59 452.55,169.64 452.66,169.70 452.78,169.75 452.89,169.81 453.00,169.86 453.11,169.91 453.22,169.97 453.33,170.02 453.44,170.08 453.55,170.13 453.67,170.18 453.78,170.24 453.89,170.29 454.00,170.35 454.11,170.40 454.22,170.45 454.33,170.51 454.44,170.56 454.56,170.62 454.67,170.67 454.78,170.73 454.89,170.78 455.00,170.83 455.11,170.89 455.22,170.94 455.33,171.00 455.44,171.05 455.56,171.10 455.67,171.16 455.78,171.21 455.89,171.27 456.00,171.32 456.11,171.37 456.22,171.43 456.33,171.48 456.45,171.54 456.56,171.59 456.67,171.65 456.78,171.70 456.89,171.75 457.00,171.81 457.11,171.86 457.22,171.92 457.34,171.97 457.45,172.02 457.56,172.08 457.67,172.13 457.78,172.19 457.89,172.24 458.00,172.30 458.11,172.35 458.22,172.40 458.34,172.46 458.45,172.51 458.56,172.57 458.67,172.62 458.78,172.68 458.89,172.73 459.00,172.79 459.11,172.84 459.23,172.89 459.34,172.95 459.45,173.00 459.56,173.06 459.67,173.11 459.78,173.17 459.89,173.22 460.00,173.28 460.12,173.33 460.23,173.39 460.34,173.44 460.45,173.49 460.56,173.55 460.67,173.60 460.78,173.66 460.89,173.71 461.00,173.77 461.12,173.82 461.23,173.88 461.34,173.93 461.45,173.99 461.56,174.04 461.67,174.10 461.78,174.15 461.89,174.21 462.01,174.26 462.12,174.32 462.23,174.37 462.34,174.43 462.45,174.49 462.56,174.54 462.67,174.60 462.78,174.65 462.90,174.71 463.01,174.76 463.12,174.82 463.23,174.87 463.34,174.93 463.45,174.99 463.56,175.04 463.67,175.10 463.78,175.15 463.90,175.21 464.01,175.26 464.12,175.32 464.23,175.38 464.34,175.43 464.45,175.49 464.56,175.55 464.67,175.60 464.79,175.66 464.90,175.71 465.01,175.77 465.12,175.83 465.23,175.88 465.34,175.94 465.45,176.00 465.56,176.05 465.68,176.11 465.79,176.17 465.90,176.22 466.01,176.28 466.12,176.34 466.23,176.40 466.34,176.45 466.45,176.51 466.56,176.57 466.68,176.62 466.79,176.68 466.90,176.74 467.01,176.80 467.12,176.85 467.23,176.91 467.34,176.97 467.45,177.03 467.57,177.09 467.68,177.14 467.79,177.20 467.90,177.26 468.01,177.32 468.12,177.38 468.23,177.43 468.34,177.49 468.46,177.55 468.57,177.61 468.68,177.67 468.79,177.73 468.90,177.79 469.01,177.85 469.12,177.91 469.23,177.96 469.34,178.02 469.46,178.08 469.57,178.14 469.68,178.20 469.79,178.26 469.90,178.32 470.01,178.38 470.12,178.44 470.23,178.50 470.35,178.56 470.46,178.62 470.57,178.68 470.68,178.74 470.79,178.80 470.90,178.86 471.01,178.92 471.12,178.99 471.24,179.05 471.35,179.11 471.46,179.17 471.57,179.23 471.68,179.29 471.79,179.35 471.90,179.41 472.01,179.48 472.12,179.54 472.24,179.60 472.35,179.66 472.46,179.72 472.57,179.79 472.68,179.85 472.79,179.91 472.90,179.97 473.01,180.04 473.13,180.10 473.24,180.16 473.35,180.23 473.46,180.29 473.57,180.35 473.68,180.42 473.79,180.48 473.90,180.55 474.02,180.61 474.13,180.67 474.24,180.74 474.35,180.80 474.46,180.87 474.57,180.93 474.68,181.00 474.79,181.06 474.90,181.13 475.02,181.19 475.13,181.26 475.24,181.33 475.35,181.39 475.46,181.46 475.57,181.52 475.68,181.59 475.79,181.66 475.91,181.72 476.02,181.79 476.13,181.86 476.24,181.93 476.35,181.99 476.46,182.06 476.57,182.13 476.68,182.20 476.80,182.27 476.91,182.33 477.02,182.40 477.13,182.47 477.24,182.54 477.35,182.61 477.46,182.68 477.57,182.75 477.68,182.82 477.80,182.89 477.91,182.96 478.02,183.03 478.13,183.10 478.24,183.17 478.35,183.24 478.46,183.32 478.57,183.39 478.69,183.46 478.80,183.53 478.91,183.60 479.02,183.68 479.13,183.75 479.24,183.82 479.35,183.89 479.46,183.97 479.58,184.04 479.69,184.12 479.80,184.19 479.91,184.26 480.02,184.34 480.13,184.41 480.24,184.49 480.35,184.57 480.46,184.64 480.58,184.72 480.69,184.79 480.80,184.87 480.91,184.95 481.02,185.02 481.13,185.10 481.24,185.18 481.35,185.26 481.47,185.34 481.58,185.42 481.69,185.49 481.80,185.57 481.91,185.65 482.02,185.73 482.13,185.81 482.24,185.89 482.36,185.98 482.47,186.06 482.58,186.14 482.69,186.22 482.80,186.30 482.91,186.39 483.02,186.47 483.13,186.55 483.24,186.64 483.36,186.72 483.47,186.80 483.58,186.89 483.69,186.97 483.80,187.06 483.91,187.14 484.02,187.23 484.13,187.32 484.25,187.41 484.36,187.49 484.47,187.58 484.58,187.67 484.69,187.76 484.80,187.85 484.91,187.94 485.02,188.03 485.14,188.12 485.25,188.21 485.36,188.30 485.47,188.39 485.58,188.48 485.69,188.58 485.80,188.67 485.91,188.76 486.02,188.86 486.14,188.95 486.25,189.05 486.36,189.14 486.47,189.24 486.58,189.34 486.69,189.43 486.80,189.53 486.91,189.63 487.03,189.73 487.14,189.83 487.25,189.93 487.36,190.03 487.47,190.13 487.58,190.23 487.69,190.33 487.80,190.44 487.92,190.54 488.03,190.64 488.14,190.75 488.25,190.85 488.36,190.96 488.47,191.07 488.58,191.17 488.69,191.28 488.80,191.39 488.92,191.50 489.03,191.61 489.14,191.72 489.25,191.83 489.36,191.94 489.47,192.06 489.58,192.17 489.69,192.28 489.81,192.40 489.92,192.51 490.03,192.63 490.14,192.75 490.25,192.87 490.36,192.99 490.47,193.11 490.58,193.23 490.70,193.35 490.81,193.47 490.92,193.59 491.03,193.72 491.14,193.84 491.25,193.97 491.36,194.10 491.47,194.22 491.58,194.35 491.70,194.48 491.81,194.61 491.92,194.74 492.03,194.88 492.14,195.01 492.25,195.15 492.36,195.28 492.47,195.42 492.59,195.56 492.70,195.70 492.81,195.84 492.92,195.98 493.03,196.12 493.14,196.27 493.25,196.41 493.36,196.56 493.48,196.71 493.59,196.86 493.70,197.01 493.81,197.16 493.92,197.31 494.03,197.47 494.14,197.62 494.25,197.78 494.36,197.94 494.48,198.10 494.59,198.26 494.70,198.42 494.81,198.59 494.92,198.75 495.03,198.92 495.14,199.09 495.25,199.26 495.37,199.44 495.48,199.61 495.59,199.79 495.70,199.97 495.81,200.15 495.92,200.33 496.03,200.51 496.14,200.70 496.26,200.89 496.31,200.98 496.37,201.08 496.42,201.17 496.48,201.27 496.53,201.36 496.59,201.46 496.64,201.56 496.70,201.66 496.76,201.76 496.81,201.85 496.87,201.95 496.92,202.06 496.98,202.16 497.03,202.26 497.09,202.36 497.14,202.46 497.20,202.57 497.26,202.67 497.31,202.77 497.37,202.88 497.42,202.99 497.48,203.09 497.53,203.20 497.59,203.31 497.65,203.41 497.70,203.52 497.76,203.63 497.81,203.74 497.87,203.85 497.92,203.97 497.98,204.08 498.03,204.19 498.09,204.30 498.15,204.42 498.20,204.53 498.26,204.65 498.31,204.76 498.37,204.88 498.42,205.00 498.48,205.12 498.53,205.24 498.59,205.36 498.65,205.48 498.70,205.60 498.76,205.72 498.81,205.84 498.87,205.97 498.92,206.09 498.98,206.22 499.04,206.34 499.09,206.47 499.15,206.60 499.20,206.73 499.26,206.86 499.31,206.99 499.37,207.12 499.42,207.25 499.48,207.38 499.54,207.52 499.59,207.65 499.65,207.79 499.70,207.92 499.76,208.06 499.81,208.20 499.87,208.34 499.92,208.48 499.98,208.62 500.04,208.76 500.09,208.91 500.15,209.05 500.20,209.20 500.26,209.34 500.31,209.49 500.37,209.64 500.43,209.79 500.48,209.94 500.54,210.09 500.59,210.24 500.65,210.39 500.70,210.55 500.76,210.70 500.81,210.86 500.87,211.02 500.93,211.18 500.98,211.34 501.04,211.50 501.09,211.66 501.15,211.82 501.20,211.99 501.26,212.15 501.31,212.32 501.37,212.49 501.43,212.66 501.48,212.83 501.54,213.00 501.59,213.17 501.65,213.34 501.70,213.52 501.76,213.69 501.82,213.87 501.87,214.05 501.93,214.23 501.98,214.41 502.04,214.59 502.09,214.78 502.15,214.96 502.20,215.15 502.26,215.33 502.32,215.52 502.37,215.71 502.43,215.90 502.48,216.09 502.54,216.28 502.59,216.48 502.65,216.67 502.70,216.87 502.76,217.07 502.82,217.26 502.87,217.46 502.93,217.66 502.98,217.86 503.04,218.07 503.09,218.27 503.15,218.47 503.21,218.68 503.26,218.88 503.32,219.09 503.37,219.29 503.43,219.50 503.48,219.71 503.54,219.92 503.59,220.13 503.65,220.34 503.71,220.55 503.76,220.76 503.82,220.97 503.87,221.18 503.93,221.39 503.98,221.60 504.04,221.81 504.09,222.02 504.15,222.23 504.21,222.43 504.26,222.64 504.32,222.85 504.37,223.05 504.43,223.26 504.48,223.46 504.54,223.66 504.60,223.86 504.65,224.06 504.71,224.25 504.76,224.44 504.82,224.63 504.87,224.82 504.93,225.00 504.98,225.18 505.04,225.36 505.10,225.53 505.15,225.70 505.21,225.86 505.26,226.02 505.32,226.17 505.37,226.32 505.43,226.46 505.48,226.60 505.54,226.73 505.60,226.85 505.65,226.97 505.71,227.08 505.76,227.18 505.87,227.35 505.99,227.50 506.10,227.60 506.21,227.67 506.37,227.70 506.54,227.64 506.65,227.55 506.76,227.41 506.87,227.24 506.93,227.13 506.99,227.02 507.04,226.90 507.10,226.76 507.15,226.62 507.21,226.47 507.26,226.31 507.32,226.14 507.38,225.96 507.43,225.78 507.49,225.58 507.54,225.38 507.60,225.17 507.65,224.96 507.71,224.74 507.76,224.51 507.82,224.27 507.88,224.03 507.93,223.79 507.99,223.54 508.04,223.28 508.10,223.02 508.15,222.75 508.21,222.49 508.26,222.21 508.32,221.94 508.38,221.66 508.43,221.38 508.49,221.09 508.54,220.81 508.60,220.52 508.65,220.23 508.71,219.93 508.77,219.64 508.82,219.34 508.88,219.05 508.93,218.75 508.99,218.45 509.04,218.15 509.10,217.85 509.15,217.55 509.21,217.24 509.27,216.94 509.32,216.64 509.38,216.34 509.43,216.03 509.49,215.73 509.54,215.43 509.60,215.13 509.65,214.82 509.71,214.52 509.77,214.22 509.82,213.92 509.88,213.62 509.93,213.32 509.99,213.03 510.04,212.73 510.10,212.43 510.16,212.13 510.21,211.84 510.27,211.55 510.32,211.25 510.38,210.96 510.43,210.67 510.49,210.38 510.54,210.09 510.60,209.80 510.66,209.51 510.71,209.22 510.77,208.94 510.82,208.65 510.88,208.37 510.93,208.09 510.99,207.81 511.04,207.53 511.10,207.25 511.16,206.97 511.21,206.69 511.27,206.42 511.32,206.14 511.38,205.87 511.43,205.60 511.49,205.32 511.55,205.05 511.60,204.78 511.66,204.52 511.71,204.25 511.77,203.98 511.82,203.72 511.88,203.45 511.93,203.19 511.99,202.93 512.05,202.67 512.10,202.41 512.16,202.15 512.21,201.89 512.27,201.63 512.32,201.38 512.38,201.12 512.43,200.87 512.49,200.61 512.55,200.36 512.60,200.11 512.66,199.86 512.71,199.61 512.77,199.36 512.82,199.11 512.88,198.86 512.94,198.62 512.99,198.37 513.05,198.13 513.10,197.88 513.16,197.64 513.21,197.40 513.27,197.16 513.32,196.92 513.38,196.68 513.44,196.44 513.49,196.20 513.55,195.96 513.60,195.72 513.66,195.49 513.71,195.25 513.77,195.02 513.82,194.78 513.88,194.55 513.94,194.31 513.99,194.08 514.05,193.85 514.10,193.62 514.16,193.39 514.21,193.16 514.27,192.93 514.33,192.70 514.38,192.47 514.44,192.25 514.49,192.02 514.55,191.79 514.60,191.57 514.66,191.34 514.71,191.12 514.77,190.89 514.83,190.67 514.88,190.45 514.94,190.22 514.99,190.00 515.05,189.78 515.10,189.56 515.16,189.34 515.21,189.12 515.27,188.90 515.33,188.68 515.38,188.46 515.44,188.24 515.49,188.02 515.55,187.80 515.60,187.58 515.66,187.37 515.72,187.15 515.77,186.93 515.83,186.71 515.88,186.50 515.94,186.28 515.99,186.07 516.05,185.85 516.10,185.64 516.16,185.42 516.22,185.21 516.27,184.99 516.33,184.78 516.38,184.57 516.44,184.35 516.49,184.14 516.55,183.93 516.60,183.71 516.66,183.50 516.72,183.29 516.77,183.08 516.83,182.86 516.88,182.65 516.94,182.44 516.99,182.23 517.05,182.02 517.11,181.81 517.16,181.60 517.22,181.38 517.27,181.17 517.33,180.96 517.38,180.75 517.44,180.54 517.49,180.33 517.55,180.12 517.61,179.91 517.66,179.70 517.72,179.49 517.77,179.28 517.83,179.07 517.88,178.86 517.94,178.65 517.99,178.44 518.05,178.23 518.11,178.02 518.16,177.81 518.22,177.60 518.27,177.39 518.33,177.18 518.38,176.97 518.44,176.76 518.50,176.55 518.55,176.34 518.61,176.13 518.66,175.91 518.72,175.70 518.77,175.49 518.83,175.28 518.88,175.07 518.94,174.86 519.00,174.65 519.05,174.44 519.11,174.23 519.16,174.01 519.22,173.80 519.27,173.59 519.33,173.38 519.38,173.16 519.44,172.95 519.50,172.74 519.55,172.53 519.61,172.31 519.66,172.10 519.72,171.88 519.77,171.67 519.83,171.46 519.89,171.24 519.94,171.03 520.00,170.81 520.05,170.60 520.11,170.38 520.16,170.16 520.22,169.95 520.27,169.73 520.33,169.51 520.39,169.30 520.44,169.08 520.50,168.86 520.55,168.64 520.61,168.42 520.66,168.20 520.72,167.98 520.77,167.76 520.83,167.54 520.89,167.32 520.94,167.10 521.00,166.88 521.05,166.65 521.11,166.43 521.16,166.21 521.22,165.98 521.28,165.76 521.33,165.53 521.39,165.31 521.44,165.08 521.50,164.86 521.55,164.63 521.61,164.40 521.66,164.17 521.72,163.94 521.78,163.71 521.83,163.48 521.89,163.25 521.94,163.02 522.00,162.79 522.05,162.56 522.11,162.32 522.16,162.09 522.22,161.86 522.28,161.62 522.33,161.38 522.39,161.15 522.44,160.91 522.50,160.67 522.55,160.43 522.61,160.19 522.67,159.95 522.72,159.71 522.78,159.47 522.83,159.23 522.89,158.98 522.94,158.74 523.00,158.49 523.05,158.25 523.11,158.00 523.17,157.75 523.22,157.50 523.28,157.25 523.33,157.00 523.39,156.75 523.44,156.50 523.50,156.24 523.55,155.99 523.61,155.73 523.67,155.48 523.72,155.22 523.78,154.96 523.83,154.70 523.89,154.44 523.94,154.18 524.00,153.91 524.06,153.65 524.11,153.39 524.17,153.12 524.22,152.85 524.28,152.58 524.33,152.31 524.39,152.04 524.44,151.77 524.50,151.50 524.56,151.22 524.61,150.95 524.67,150.67 524.72,150.39 524.78,150.12 524.83,149.83 524.89,149.55 524.94,149.27 525.00,148.99 525.06,148.70 525.11,148.42 525.17,148.13 525.22,147.84 525.28,147.55 525.33,147.26 525.39,146.97 525.45,146.67 525.50,146.38 525.56,146.08 525.61,145.78 525.67,145.48 525.72,145.19 525.78,144.88 525.83,144.58 525.89,144.28 525.95,143.97 526.00,143.67 526.06,143.36 526.11,143.06 526.17,142.75 526.22,142.44 526.28,142.13 526.33,141.82 526.39,141.51 526.45,141.19 526.50,140.88 526.56,140.57 526.61,140.25 526.67,139.94 526.72,139.62 526.78,139.31 526.84,138.99 526.89,138.68 526.95,138.36 527.00,138.05 527.06,137.73 527.11,137.42 527.17,137.10 527.22,136.79 527.28,136.48 527.34,136.16 527.39,135.85 527.45,135.54 527.50,135.24 527.56,134.93 527.61,134.63 527.67,134.33 527.72,134.03 527.78,133.73 527.84,133.44 527.89,133.15 527.95,132.87 528.00,132.59 528.06,132.31 528.11,132.04 528.17,131.77 528.23,131.51 528.28,131.25 528.34,131.00 528.39,130.76 528.45,130.52 528.50,130.29 528.56,130.07 528.61,129.86 528.67,129.65 528.73,129.45 528.78,129.26 528.84,129.08 528.89,128.91 528.95,128.75 529.00,128.60 529.06,128.46 529.11,128.34 529.17,128.22 529.23,128.11 529.28,128.02 529.39,127.86 529.50,127.75 529.62,127.69 529.78,127.68 529.89,127.73 530.00,127.83 530.12,127.96 530.23,128.14 530.28,128.24 530.34,128.35 530.39,128.47 530.45,128.60 530.50,128.73 530.56,128.87 530.62,129.02 530.67,129.18 530.73,129.34 530.78,129.51 530.84,129.68 530.89,129.86 530.95,130.05 531.01,130.24 531.06,130.43 531.12,130.63 531.17,130.83 531.23,131.03 531.28,131.24 531.34,131.45 531.39,131.66 531.45,131.87 531.51,132.09 531.56,132.31 531.62,132.53 531.67,132.75 531.73,132.97 531.78,133.19 531.84,133.42 531.89,133.64 531.95,133.87 532.01,134.09 532.06,134.32 532.12,134.54 532.17,134.77 532.23,134.99 532.28,135.22 532.34,135.44 532.40,135.67 532.45,135.89 532.51,136.11 532.56,136.34 532.62,136.56 532.67,136.78 532.73,137.00 532.78,137.22 532.84,137.44 532.90,137.65 532.95,137.87 533.01,138.08 533.06,138.30 533.12,138.51 533.17,138.72 533.23,138.93 533.28,139.14 533.34,139.35 533.40,139.56 533.45,139.76 533.51,139.97 533.56,140.17 533.62,140.37 533.67,140.57 533.73,140.77 533.79,140.97 533.84,141.16 533.90,141.36 533.95,141.55 534.01,141.74 534.06,141.94 534.12,142.13 534.17,142.31 534.23,142.50 534.29,142.69 534.34,142.87 534.40,143.05 534.45,143.24 534.51,143.42 534.56,143.60 534.62,143.77 534.67,143.95 534.73,144.13 534.79,144.30 534.84,144.47 534.90,144.64 534.95,144.81 535.01,144.98 535.06,145.15 535.12,145.32 535.18,145.48 535.23,145.65 535.29,145.81 535.34,145.97 535.40,146.13 535.45,146.29 535.51,146.45 535.56,146.61 535.62,146.77 535.68,146.92 535.73,147.08 535.79,147.23 535.84,147.38 535.90,147.53 535.95,147.68 536.01,147.83 536.06,147.98 536.12,148.13 536.18,148.27 536.23,148.42 536.29,148.56 536.34,148.71 536.40,148.85 536.45,148.99 536.51,149.13 536.57,149.27 536.62,149.41 536.68,149.55 536.73,149.68 536.79,149.82 536.84,149.95 536.90,150.09 536.95,150.22 537.01,150.35 537.07,150.48 537.12,150.62 537.18,150.75 537.23,150.87 537.29,151.00 537.34,151.13 537.40,151.26 537.45,151.38 537.51,151.51 537.57,151.63 537.62,151.76 537.68,151.88 537.73,152.00 537.79,152.12 537.84,152.24 537.90,152.36 537.96,152.48 538.01,152.60 538.07,152.72 538.12,152.84 538.18,152.95 538.23,153.07 538.29,153.18 538.34,153.30 538.40,153.41 538.46,153.53 538.51,153.64 538.57,153.75 538.62,153.86 538.68,153.97 538.73,154.08 538.79,154.19 538.84,154.30 538.90,154.41 538.96,154.52 539.01,154.63 539.07,154.73 539.12,154.84 539.18,154.95 539.23,155.05 539.29,155.16 539.35,155.26 539.40,155.36 539.46,155.47 539.51,155.57 539.57,155.67 539.62,155.77 539.68,155.87 539.73,155.97 539.79,156.07 539.85,156.17 539.90,156.27 539.96,156.37 540.01,156.47 540.07,156.57 540.12,156.66 540.18,156.76 540.23,156.86 540.29,156.95 540.35,157.05 540.40,157.14 540.46,157.24 540.57,157.43 540.68,157.61 540.79,157.80 540.90,157.98 541.01,158.16 541.12,158.34 541.24,158.52 541.35,158.70 541.46,158.87 541.57,159.05 541.68,159.22 541.79,159.39 541.90,159.56 542.01,159.73 542.13,159.90 542.24,160.06 542.35,160.23 542.46,160.39 542.57,160.56 542.68,160.72 542.79,160.88 542.90,161.04 543.01,161.20 543.13,161.35 543.24,161.51 543.35,161.67 543.46,161.82 543.57,161.98 543.68,162.13 543.79,162.28 543.90,162.43 544.02,162.58 544.13,162.73 544.24,162.88 544.35,163.03 544.46,163.18 544.57,163.32 544.68,163.47 544.79,163.62 544.91,163.76 545.02,163.90 545.13,164.05 545.24,164.19 545.35,164.33 545.46,164.48 545.57,164.62 545.68,164.76 545.79,164.90 545.91,165.04 546.02,165.18 546.13,165.32 546.24,165.46 546.35,165.59 546.46,165.73 546.57,165.87 546.68,166.01 546.80,166.14 546.91,166.28 547.02,166.42 547.13,166.55 547.24,166.69 547.35,166.83 547.46,166.96 547.57,167.10 547.69,167.23 547.80,167.37 547.91,167.50 548.02,167.64 548.13,167.77 548.24,167.91 548.35,168.04 548.46,168.18 548.57,168.31 548.69,168.45 548.80,168.58 548.91,168.72 549.02,168.85 549.13,168.99 549.24,169.12 549.35,169.26 549.46,169.40 549.58,169.53 549.69,169.67 549.80,169.81 549.91,169.94 550.02,170.08 550.13,170.22 550.24,170.36 550.35,170.50 550.47,170.64 550.58,170.78 550.69,170.92 550.80,171.06 550.91,171.20 551.02,171.34 551.13,171.48 551.24,171.63 551.35,171.77 551.47,171.91 551.58,172.06 551.69,172.21 551.80,172.35 551.91,172.50 552.02,172.65 552.13,172.80 552.24,172.95 552.36,173.10 552.47,173.25 552.58,173.41 552.69,173.56 552.80,173.72 552.91,173.88 553.02,174.03 553.13,174.19 553.25,174.35 553.36,174.52 553.47,174.68 553.58,174.84 553.69,175.01 553.80,175.18 553.91,175.35 554.02,175.52 554.13,175.69 554.25,175.86 554.36,176.03 554.47,176.21 554.58,176.39 554.69,176.56 554.80,176.74 554.91,176.92 555.02,177.10 555.14,177.29 555.25,177.47 555.36,177.66 555.47,177.84 555.58,178.03 555.69,178.21 555.80,178.40 555.91,178.58 556.03,178.77 556.14,178.95 556.25,179.14 556.36,179.32 556.47,179.49 556.58,179.67 556.69,179.84 556.80,180.01 556.91,180.17 557.03,180.32 557.14,180.47 557.25,180.61 557.36,180.74 557.47,180.85 557.58,180.95 557.69,181.04 557.80,181.11 557.92,181.16 558.08,181.19 558.25,181.17 558.36,181.12 558.47,181.04 558.58,180.92 558.69,180.77 558.81,180.58 558.86,180.47 558.92,180.35 558.97,180.22 559.03,180.08 559.08,179.93 559.14,179.77 559.19,179.59 559.25,179.41 559.31,179.22 559.36,179.01 559.42,178.79 559.47,178.56 559.53,178.33 559.58,178.08 559.64,177.82 559.69,177.55 559.75,177.27 559.81,176.98 559.86,176.68 559.92,176.37 559.97,176.06 560.03,175.73 560.08,175.40 560.14,175.06 560.20,174.72 560.25,174.36 560.31,174.01 560.36,173.64 560.42,173.27 560.47,172.90 560.53,172.52 560.58,172.14 560.64,171.76 560.70,171.38 560.75,170.99 560.81,170.61 560.86,170.22 560.92,169.84 560.97,169.46 561.03,169.08 561.08,168.70 561.14,168.32 561.20,167.95 561.25,167.58 561.31,167.22 561.36,166.86 561.42,166.51 561.47,166.17 561.53,165.83 561.59,165.50 561.64,165.18 561.70,164.86 561.75,164.56 561.81,164.26 561.86,163.97 561.92,163.70 561.97,163.43 562.03,163.17 562.09,162.93 562.14,162.69 562.20,162.47 562.25,162.25 562.31,162.05 562.36,161.85 562.42,161.67 562.47,161.50 562.53,161.34 562.59,161.19 562.64,161.05 562.70,160.92 562.75,160.81 562.81,160.70 562.86,160.60 562.98,160.43 563.09,160.30 563.20,160.20 563.31,160.13 563.48,160.09 563.64,160.10 563.81,160.16 563.92,160.22 564.03,160.30 564.14,160.40 564.25,160.51 564.37,160.62 564.48,160.75 564.59,160.89 564.70,161.03 564.81,161.18 564.92,161.34 565.03,161.49 565.14,161.66 565.25,161.82 565.37,161.99 565.48,162.15 565.59,162.32 565.70,162.49 565.81,162.66 565.92,162.82 566.03,162.99 566.14,163.16 566.26,163.32 566.37,163.49 566.48,163.65 566.59,163.81 566.70,163.97 566.81,164.13 566.92,164.29 567.03,164.44 567.15,164.59 567.26,164.74 567.37,164.89 567.48,165.04 567.59,165.19 567.70,165.33 567.81,165.47 567.92,165.61 568.03,165.75 568.15,165.89 568.26,166.02 568.37,166.15 568.48,166.28 568.59,166.41 568.70,166.54 568.81,166.66 568.92,166.79 569.04,166.91 569.15,167.03 569.26,167.15 569.37,167.27 569.48,167.38 569.59,167.50 569.70,167.61 569.81,167.72 569.93,167.83 570.04,167.94 570.15,168.05 570.26,168.15 570.37,168.26 570.48,168.36 570.59,168.47 570.70,168.57 570.81,168.67 570.93,168.76 571.04,168.86 571.15,168.96 571.26,169.05 571.37,169.15 571.48,169.24 571.59,169.33 571.70,169.43 571.82,169.52 571.93,169.60 572.04,169.69 572.15,169.78 572.26,169.87 572.37,169.95 572.48,170.04 572.59,170.12 572.71,170.20 572.82,170.29 572.93,170.37 573.04,170.45 573.15,170.53 573.26,170.61 573.37,170.69 573.48,170.76 573.59,170.84 573.71,170.92 573.82,170.99 573.93,171.07 574.04,171.14 574.15,171.22 574.26,171.29 574.37,171.36 574.48,171.43 574.60,171.50 574.71,171.57 574.82,171.64 574.93,171.71 575.04,171.78 575.15,171.85 575.26,171.92 575.37,171.99 575.49,172.05 575.60,172.12 575.71,172.19 575.82,172.25 575.93,172.32 576.04,172.38 576.15,172.44 576.26,172.51 576.37,172.57 576.49,172.63 576.60,172.69 576.71,172.76 576.82,172.82 576.93,172.88 577.04,172.94 577.15,173.00 577.26,173.06 577.38,173.12 577.49,173.18 577.60,173.23 577.71,173.29 577.82,173.35 577.93,173.41 578.04,173.47 578.15,173.52 578.27,173.58 578.38,173.63 578.49,173.69 578.60,173.75 578.71,173.80 578.82,173.85 578.93,173.91 579.04,173.96 579.15,174.02 579.27,174.07 579.38,174.12 579.49,174.18 579.60,174.23 579.71,174.28 579.82,174.33 579.93,174.39 580.04,174.44 580.16,174.49 580.27,174.54 580.38,174.59 580.49,174.64 580.60,174.69 580.71,174.74 580.82,174.79 580.93,174.84 581.05,174.89 581.16,174.94 581.27,174.99 581.38,175.03 581.49,175.08 581.60,175.13 581.71,175.18 581.82,175.23 581.93,175.27 582.05,175.32 582.16,175.37 582.27,175.41 582.38,175.46 582.49,175.51 582.60,175.55 582.71,175.60 582.82,175.64 582.94,175.69 583.05,175.74 583.16,175.78 583.27,175.83 583.38,175.87 583.49,175.92 583.60,175.96 583.71,176.00 583.83,176.05 583.94,176.09 584.05,176.14 584.16,176.18 584.27,176.22 584.38,176.27 584.49,176.31 584.60,176.35 584.71,176.39 584.83,176.44 584.94,176.48 585.05,176.52 585.16,176.56 585.27,176.60 585.38,176.65 585.49,176.69 585.60,176.73 585.72,176.77 585.83,176.81 585.94,176.85 586.05,176.89 586.16,176.93 586.27,176.97 586.38,177.02 586.49,177.06 586.61,177.10 586.72,177.14 586.83,177.18 586.94,177.22 587.05,177.25 587.16,177.29 587.27,177.33 587.38,177.37 587.49,177.41 587.61,177.45 587.72,177.49 587.88,177.55 588.05,177.61 588.22,177.66 588.38,177.72 588.55,177.78 588.72,177.83 588.88,177.89 589.05,177.95 589.22,178.00 589.39,178.06 589.55,178.11 589.72,178.17 589.89,178.22 590.05,178.28 590.22,178.33 590.39,178.39 590.55,178.44 590.72,178.49 590.89,178.55 591.05,178.60 591.22,178.66 591.39,178.71 591.55,178.76 591.72,178.81 591.89,178.87 592.05,178.92 592.22,178.97 592.39,179.02 592.55,179.07 592.72,179.12 592.89,179.18 593.05,179.23 593.22,179.28 593.39,179.33 593.56,179.38 593.72,179.43 593.89,179.48 594.06,179.53 594.22,179.58 594.39,179.63 594.56,179.68 594.72,179.73 594.89,179.78 595.06,179.83 595.22,179.87 595.39,179.92 595.56,179.97 595.72,180.02 595.89,180.07 596.06,180.12 596.22,180.16 596.39,180.21 596.56,180.26 596.72,180.31 596.89,180.35 597.06,180.40 597.22,180.45 597.39,180.49 597.56,180.54 597.73,180.59 597.89,180.63 598.06,180.68 598.23,180.73 598.39,180.77 598.56,180.82 598.73,180.87 598.89,180.91 599.06,180.96 599.23,181.00 599.39,181.05 599.56,181.09 599.73,181.14 599.89,181.18 600.06,181.23 600.23,181.27 600.39,181.32 600.56,181.36 600.73,181.41 600.89,181.45 601.06,181.49 601.23,181.54 601.39,181.58 601.56,181.63 601.73,181.67 601.90,181.71 602.06,181.76 602.23,181.80 602.40,181.84 602.56,181.89 602.73,181.93 602.90,181.97 603.06,182.02 603.23,182.06 603.40,182.10 603.56,182.14 603.73,182.19 603.90,182.23 604.06,182.27 604.23,182.31 604.40,182.36 604.56,182.40 604.73,182.44 604.90,182.48 605.06,182.52 605.23,182.56 605.40,182.61 605.56,182.65 605.73,182.69 605.90,182.73 606.07,182.77 606.23,182.81 606.40,182.85 606.57,182.89 606.73,182.94 606.90,182.98 607.07,183.02 607.23,183.06 607.40,183.10 607.57,183.14 607.73,183.18 607.90,183.22 608.07,183.26 608.23,183.30 608.40,183.34 608.57,183.38 608.73,183.42 608.90,183.46 609.07,183.50 609.23,183.54 609.40,183.58 609.57,183.62 609.73,183.66 609.90,183.70 610.07,183.74 610.24,183.78 610.40,183.82 610.57,183.86 610.74,183.90 610.90,183.94 611.07,183.97 611.24,184.01 611.40,184.05 611.57,184.09 611.74,184.13 611.90,184.17 612.07,184.21 612.24,184.25 612.40,184.29 612.57,184.32 612.74,184.36 612.90,184.40 613.07,184.44 613.24,184.48 613.40,184.52 613.57,184.55 613.74,184.59 613.90,184.63 614.07,184.67 614.24,184.71 614.41,184.74 614.57,184.78 614.74,184.82 614.91,184.86 615.07,184.90 615.24,184.93 615.41,184.97 615.57,185.01 615.74,185.05 615.91,185.08 616.07,185.12 616.24,185.16 616.41,185.20 616.57,185.23 616.74,185.27 616.91,185.31 617.07,185.34 617.24,185.38 617.41,185.42 617.57,185.46 617.74,185.49 617.91,185.53 618.07,185.57 618.24,185.60 618.41,185.64 618.58,185.68 618.74,185.71 618.91,185.75 619.08,185.79 619.24,185.82 619.41,185.86 619.58,185.90 619.74,185.93 619.91,185.97 620.08,186.01 620.24,186.04 620.41,186.08 620.58,186.11 620.74,186.15 620.91,186.19 621.08,186.22 621.24,186.26 621.41,186.30 621.58,186.33 621.74,186.37 621.91,186.40 622.08,186.44 622.24,186.48 622.41,186.51 622.58,186.55 622.75,186.58 622.91,186.62 623.08,186.66 623.25,186.69 623.41,186.73 623.58,186.76 623.75,186.80 623.91,186.83 624.08,186.87 624.25,186.90 624.41,186.94 624.58,186.98 624.75,187.01 624.91,187.05 625.08,187.08 625.25,187.12 625.41,187.15 625.58,187.19 625.75,187.22 625.91,187.26 626.08,187.29 626.25,187.33 626.41,187.36 626.58,187.40 626.75,187.43 626.92,187.47 627.08,187.51 627.25,187.54 627.42,187.58 627.58,187.61 627.75,187.65 627.92,187.68 628.08,187.72 628.25,187.75 628.42,187.79 628.58,187.82 628.75,187.86 628.92,187.89 629.08,187.92 629.25,187.96 629.42,187.99 629.58,188.03 629.75,188.06 629.92,188.10 630.08,188.13 630.25,188.17 630.42,188.20 630.58,188.24 630.75,188.27 630.92,188.31 631.09,188.34 631.25,188.38 631.42,188.41 631.59,188.45 631.75,188.48 631.92,188.51 632.09,188.55 632.25,188.58 632.42,188.62 632.59,188.65 632.75,188.69 632.92,188.72 633.09,188.76 633.25,188.79 633.42,188.83 633.59,188.86 633.75,188.89 633.92,188.93 634.09,188.96 634.25,189.00 634.42,189.03 634.59,189.07 634.75,189.10 634.92,189.13 635.09,189.17 635.26,189.20 635.42,189.24 635.59,189.27 635.76,189.31 635.92,189.34 636.09,189.37 636.26,189.41 636.42,189.44 636.59,189.48 636.76,189.51 636.92,189.55 637.09,189.58 637.26,189.61 637.42,189.65 637.59,189.68 637.76,189.72 637.92,189.75 638.09,189.79 638.26,189.82 638.42,189.85 638.59,189.89 638.76,189.92 638.92,189.96 639.09,189.99 639.26,190.03 639.43,190.06 639.59,190.09 639.76,190.13 639.93,190.16 640.09,190.20 640.26,190.23 640.43,190.26 640.59,190.30 640.76,190.33 640.93,190.37 641.09,190.40 641.26,190.44 641.43,190.47 641.59,190.50 641.76,190.54 641.93,190.57 642.09,190.61 642.26,190.64 642.43,190.67 642.59,190.71 642.76,190.74 642.93,190.78 643.09,190.81 643.26,190.85 643.43,190.88 643.60,190.91 643.76,190.95 643.93,190.98 644.10,191.02 644.26,191.05 644.43,191.08 644.60,191.12 644.76,191.15 644.93,191.19 645.10,191.22 645.26,191.26 645.43,191.29 645.60,191.32 645.76,191.36 645.93,191.39 646.10,191.43 646.26,191.46 646.43,191.50 646.60,191.53 646.76,191.56 646.93,191.60 647.10,191.63 647.26,191.67 647.43,191.70 647.60,191.74 647.77,191.77 647.93,191.80 648.10,191.84 648.27,191.87 648.43,191.91 648.60,191.94 648.77,191.98 648.93,192.01 649.10,192.05 649.27,192.08 649.43,192.12 649.60,192.15 649.77,192.18 649.93,192.22 650.10,192.25 650.27,192.29 650.43,192.32 650.60,192.36 650.77,192.39 650.93,192.43 651.10,192.46 651.27,192.50 651.43,192.53 651.60,192.57 651.77,192.60 651.94,192.63 652.10,192.67 652.27,192.70 652.44,192.74 652.60,192.77 652.77,192.81 652.94,192.84 653.10,192.88 653.27,192.91 653.44,192.95 653.60,192.98 653.77,193.02 653.94,193.05 654.10,193.09 654.27,193.12 654.44,193.16 654.60,193.19 654.77,193.23 654.94,193.26 655.10,193.30 655.27,193.33 655.44,193.37 655.60,193.40 655.77,193.44 655.94,193.47 656.11,193.51 656.27,193.55 656.44,193.58 656.61,193.62 656.77,193.65 656.94,193.69 657.11,193.72 657.27,193.76 657.44,193.79 657.61,193.83 657.77,193.86 657.94,193.90 658.11,193.94 658.27,193.97 658.44,194.01 658.61,194.04 658.77,194.08 658.94,194.11 659.11,194.15 659.27,194.19 659.44,194.22 659.61,194.26 659.77,194.29 659.94,194.33 660.11,194.37 660.28,194.40 660.44,194.44 660.61,194.47 660.78,194.51 660.94,194.55 661.11,194.58 661.28,194.62 661.44,194.66 661.61,194.69 661.78,194.73 661.94,194.76 662.11,194.80 662.28,194.84 662.44,194.87 662.61,194.91 662.78,194.95 662.94,194.98 663.11,195.02 663.28,195.06 663.44,195.09 663.50,195.11" fill="none" stroke="#000" stroke-width="1.8" stroke-linejoin="round"/>
<g fill="#d80a12"><circle cx="199.20" cy="27.75" r="1.45"/><circle cx="205.70" cy="27.75" r="1.45"/><circle cx="212.20" cy="27.75" r="1.45"/><circle cx="218.70" cy="27.75" r="1.45"/><circle cx="225.20" cy="27.75" r="1.45"/></g><line x1="198.7" y1="45.4" x2="230.79999999999998" y2="45.4" stroke="#000" stroke-width="1.5"/>
<g fill="#d80a12"><circle cx="558.90" cy="25.6" r="1.45"/><circle cx="565.40" cy="25.6" r="1.45"/><circle cx="571.90" cy="25.6" r="1.45"/><circle cx="578.40" cy="25.6" r="1.45"/><circle cx="584.90" cy="25.6" r="1.45"/></g><line x1="558.4" y1="43.2" x2="590.5" y2="43.2" stroke="#000" stroke-width="1.5"/>
<g font-family="'Liberation Serif', serif" fill="#000" text-rendering="geometricPrecision">
<text transform="translate(31.75 289.10) scale(1 1.03)" font-size="11.4" text-anchor="end">0</text>
<text transform="translate(31.75 219.60) scale(1 1.03)" font-size="11.4" text-anchor="end">5</text>
<text transform="translate(31.75 150.10) scale(1 1.03)" font-size="11.4" text-anchor="end">10</text>
<text transform="translate(31.75 80.60) scale(1 1.03)" font-size="11.4" text-anchor="end">15</text>
<text transform="translate(31.75 11.10) scale(1 1.03)" font-size="11.4" text-anchor="end">20</text>
<text transform="translate(37.50 300.70) scale(1 1.03)" font-size="11.4" text-anchor="middle">0</text>
<text transform="translate(385.50 300.70) scale(1 1.03)" font-size="11.4" text-anchor="middle">0</text>
<text transform="translate(93.36 300.70) scale(1 1.03)" font-size="11.4" text-anchor="middle">200</text>
<text transform="translate(441.10 300.70) scale(1 1.03)" font-size="11.4" text-anchor="middle">200</text>
<text transform="translate(149.22 300.70) scale(1 1.03)" font-size="11.4" text-anchor="middle">400</text>
<text transform="translate(496.70 300.70) scale(1 1.03)" font-size="11.4" text-anchor="middle">400</text>
<text transform="translate(205.08 300.70) scale(1 1.03)" font-size="11.4" text-anchor="middle">600</text>
<text transform="translate(552.30 300.70) scale(1 1.03)" font-size="11.4" text-anchor="middle">600</text>
<text transform="translate(260.94 300.70) scale(1 1.03)" font-size="11.4" text-anchor="middle">800</text>
<text transform="translate(607.90 300.70) scale(1 1.03)" font-size="11.4" text-anchor="middle">800</text>
<text transform="translate(316.80 300.70) scale(1 1.03)" font-size="11.4" text-anchor="middle">1000</text>
<text transform="translate(663.50 300.70) scale(1 1.03)" font-size="11.4" text-anchor="middle">1000</text>
<text transform="translate(375.60 290.10) scale(1 1.09)" font-size="10.5" text-anchor="end">10</text>
<text transform="translate(376.00 285.50) scale(1 1.05)" font-size="8.2">1</text>
<text transform="translate(375.60 234.58) scale(1 1.09)" font-size="10.5" text-anchor="end">10</text>
<text transform="translate(376.00 229.98) scale(1 1.05)" font-size="8.2">2</text>
<text transform="translate(375.60 179.06) scale(1 1.09)" font-size="10.5" text-anchor="end">10</text>
<text transform="translate(376.00 174.46) scale(1 1.05)" font-size="8.2">3</text>
<text transform="translate(375.60 123.54) scale(1 1.09)" font-size="10.5" text-anchor="end">10</text>
<text transform="translate(376.00 118.94) scale(1 1.05)" font-size="8.2">4</text>
<text transform="translate(375.60 68.02) scale(1 1.09)" font-size="10.5" text-anchor="end">10</text>
<text transform="translate(376.00 63.42) scale(1 1.05)" font-size="8.2">5</text>
<text transform="translate(375.60 12.50) scale(1 1.09)" font-size="10.5" text-anchor="end">10</text>
<text transform="translate(376.00 7.90) scale(1 1.05)" font-size="8.2">6</text>
<text transform="translate(168.40 76.70) scale(1 1.05)" font-size="12.7">431.2 kHz</text>
<text transform="translate(215.20 215.70) scale(1 1.05)" font-size="12.7">626.0 kHz</text>
<text transform="translate(269.10 264.70) scale(1 1.05)" font-size="12.7">905 kHz</text>
<text transform="translate(518.30 87.10) scale(1 1.05)" font-size="12.7">520.5 kHz</text>
<text transform="translate(563.60 134.50) scale(1 1.05)" font-size="12.7">640.4 kHz</text>
<text transform="translate(615.30 164.90) scale(1 1.05)" font-size="12.7">906 kHz</text>
<text transform="translate(563.30 212.90) scale(1 1.05)" font-size="12.7">616.6 kHz</text>
<text transform="translate(510.70 249.60) scale(1 1.05)" font-size="12.7">430.6 kHz</text>
<text transform="translate(235.80 29.80) scale(1 1.05)" font-size="12.5">Simulation</text>
<text transform="translate(235.80 50.60) scale(1 1.05)" font-size="12.5">Experiment</text>
<text transform="translate(595.40 28.10) scale(1 1.05)" font-size="12.5">Simulation</text>
<text transform="translate(595.40 47.50) scale(1 1.05)" font-size="12.5">Experiment</text>
<text transform="translate(178.05 319.70) scale(1 1.05)" font-size="12.6" text-anchor="middle">Frequency(kHz)</text>
<text transform="translate(528.00 319.70) scale(1 1.05)" font-size="12.6" text-anchor="middle">Frequency(kHz)</text>
<text transform="translate(179.00 343.10) scale(1 1.0)" font-size="15.5" text-anchor="middle" font-weight="bold">(a)</text>
<text transform="translate(529.40 343.10) scale(1 1.0)" font-size="15.5" text-anchor="middle" font-weight="bold">(b)</text>
<text transform="translate(10.3 146.3) rotate(-90) scale(1 1.07)" text-anchor="middle" font-size="12.5">Conductance (mS)</text>
<text transform="translate(353.0 148.6) rotate(-90) scale(1 1.0)" text-anchor="middle" font-size="12.3">Impedance (Ω)</text>
</g>
</svg>
</body></html>
